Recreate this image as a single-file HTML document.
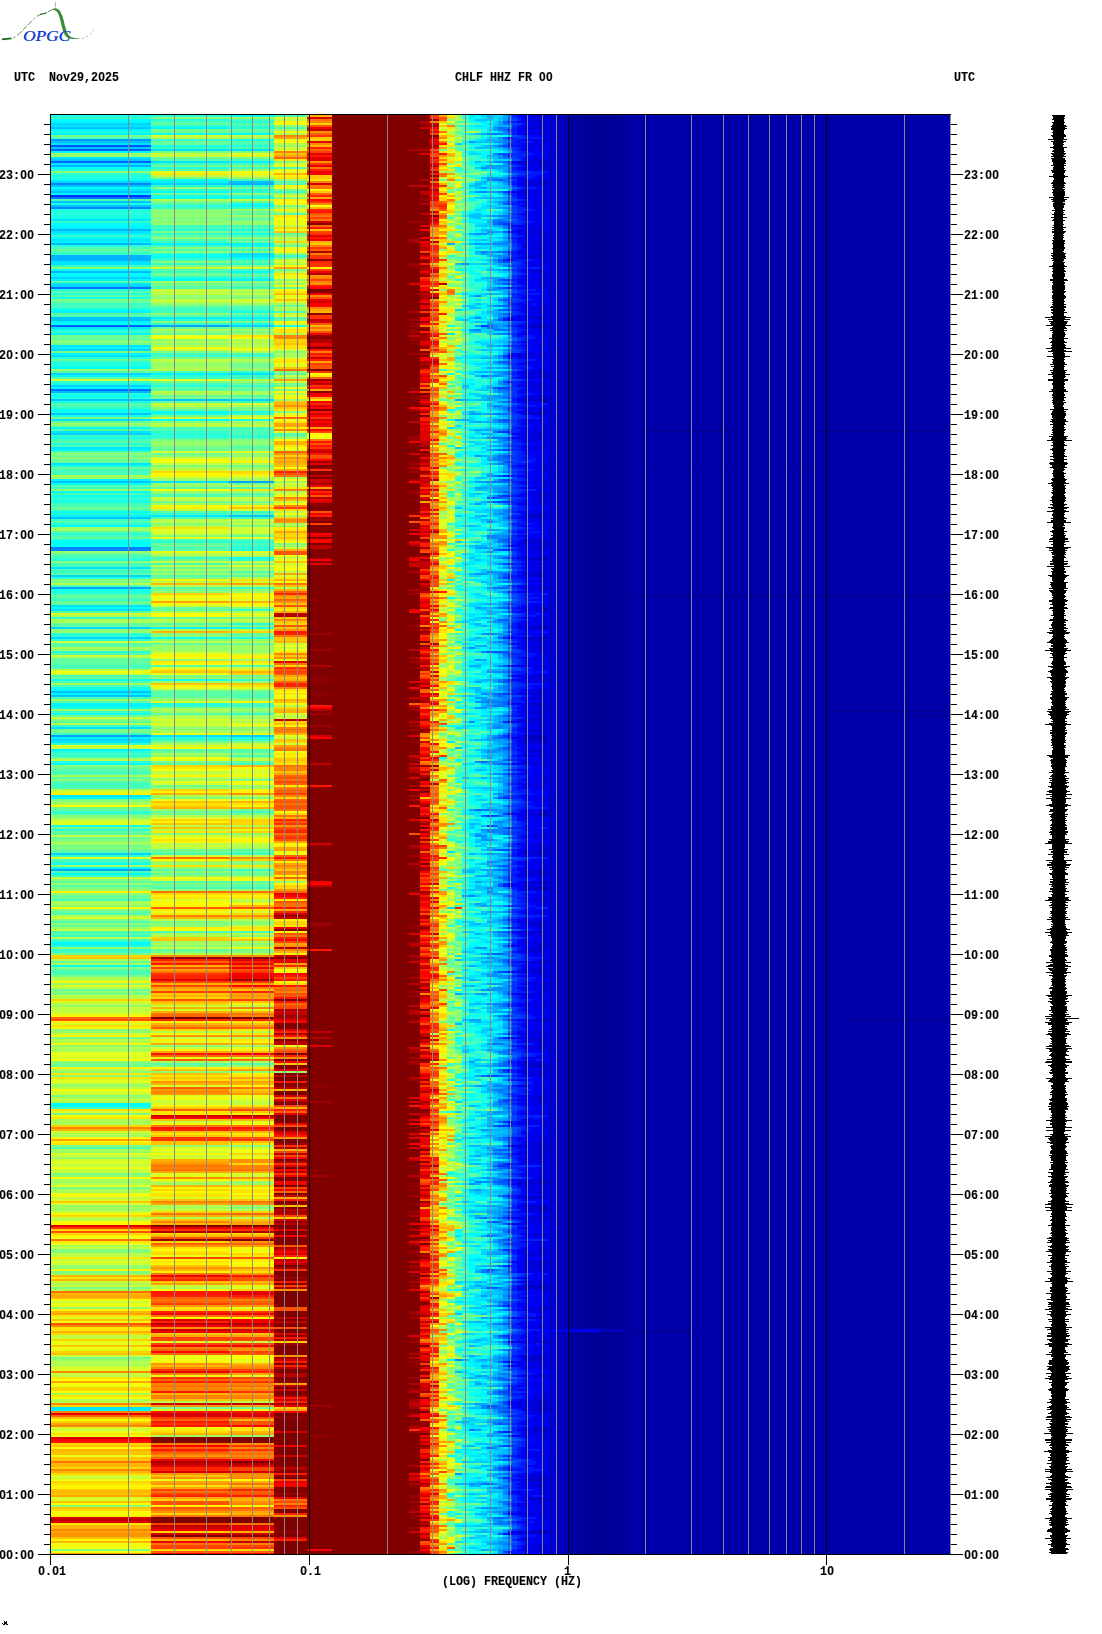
<!DOCTYPE html>
<html><head><meta charset="utf-8"><title>CHLF HHZ FR 00 spectrogram</title>
<style>
html,body{margin:0;padding:0;background:#fff;}
body{width:1102px;height:1634px;position:relative;overflow:hidden;font-family:"Liberation Mono",monospace;}
.t{position:absolute;font-family:"Liberation Mono",monospace;font-weight:bold;font-size:11.67px;line-height:16px;height:16px;white-space:pre;color:#000;transform:scaleY(1.06);transform-origin:50% 62%;-webkit-text-stroke:0.12px #000;}
svg{display:block}
.t i{font-family:"Liberation Sans",sans-serif;font-style:normal;display:inline-block;width:7px;text-align:center;font-size:12px;line-height:0}
</style></head><body>
<svg style="position:absolute;left:0;top:0" width="1102" height="1634" viewBox="0 0 1102 1634" shape-rendering="crispEdges">
<defs><filter id="vb" x="0" y="0" width="1102" height="1634" filterUnits="userSpaceOnUse"><feGaussianBlur stdDeviation="0 0.6"/></filter>
<clipPath id="cp"><rect x="51" y="115" width="899" height="1439"/></clipPath></defs>
<g clip-path="url(#cp)">
<rect x="51" y="115" width="899" height="1439" fill="#0000ab"/>
<rect x="307" y="115" width="123" height="1439" fill="#800000"/>
<rect x="548" y="115" width="2" height="1439" fill="#0000d6"/>
<rect x="550" y="115" width="2" height="1439" fill="#0000d2"/>
<rect x="552" y="115" width="2" height="1439" fill="#0000cf"/>
<rect x="554" y="115" width="2" height="1439" fill="#0000cb"/>
<rect x="556" y="115" width="2" height="1439" fill="#0000c8"/>
<rect x="558" y="115" width="2" height="1439" fill="#0000c4"/>
<rect x="560" y="115" width="2" height="1439" fill="#0000c1"/>
<rect x="562" y="115" width="2" height="1439" fill="#0000bd"/>
<rect x="564" y="115" width="2" height="1439" fill="#0000ba"/>
<rect x="566" y="115" width="2" height="1439" fill="#0000b7"/>
<rect x="568" y="115" width="2" height="1439" fill="#0000a4"/>
<rect x="570" y="115" width="2" height="1439" fill="#0000a2"/>
<rect x="572" y="115" width="2" height="1439" fill="#0000a0"/>
<rect x="574" y="115" width="2" height="1439" fill="#00009d"/>
<rect x="576" y="115" width="2" height="1439" fill="#00009c"/>
<rect x="578" y="115" width="2" height="1439" fill="#00009b"/>
<rect x="580" y="115" width="2" height="1439" fill="#00009a"/>
<rect x="582" y="115" width="2" height="1439" fill="#00009a"/>
<rect x="584" y="115" width="2" height="1439" fill="#000099"/>
<rect x="586" y="115" width="2" height="1439" fill="#000099"/>
<rect x="588" y="115" width="2" height="1439" fill="#000098"/>
<rect x="590" y="115" width="2" height="1439" fill="#000097"/>
<rect x="592" y="115" width="2" height="1439" fill="#000097"/>
<rect x="594" y="115" width="2" height="1439" fill="#000097"/>
<rect x="596" y="115" width="2" height="1439" fill="#000097"/>
<rect x="598" y="115" width="2" height="1439" fill="#000097"/>
<rect x="600" y="115" width="2" height="1439" fill="#000097"/>
<rect x="602" y="115" width="2" height="1439" fill="#000097"/>
<rect x="604" y="115" width="2" height="1439" fill="#000097"/>
<rect x="606" y="115" width="2" height="1439" fill="#000098"/>
<rect x="608" y="115" width="2" height="1439" fill="#000098"/>
<rect x="610" y="115" width="2" height="1439" fill="#000098"/>
<rect x="612" y="115" width="2" height="1439" fill="#000098"/>
<rect x="614" y="115" width="2" height="1439" fill="#000098"/>
<rect x="616" y="115" width="2" height="1439" fill="#000098"/>
<rect x="618" y="115" width="2" height="1439" fill="#000099"/>
<rect x="620" y="115" width="2" height="1439" fill="#00009b"/>
<rect x="622" y="115" width="2" height="1439" fill="#00009d"/>
<rect x="624" y="115" width="2" height="1439" fill="#00009f"/>
<rect x="626" y="115" width="2" height="1439" fill="#0000a1"/>
<rect x="628" y="115" width="2" height="1439" fill="#0000a2"/>
<rect x="630" y="115" width="2" height="1439" fill="#0000a4"/>
<rect x="632" y="115" width="2" height="1439" fill="#0000a5"/>
<rect x="634" y="115" width="2" height="1439" fill="#0000a7"/>
<rect x="636" y="115" width="2" height="1439" fill="#0000a8"/>
<rect x="638" y="115" width="2" height="1439" fill="#0000aa"/>
<rect x="640" y="115" width="10" height="1439" fill="#0000aa"/>
<rect x="650" y="115" width="10" height="1439" fill="#0000ab"/>
<rect x="660" y="115" width="10" height="1439" fill="#0000ab"/>
<rect x="670" y="115" width="10" height="1439" fill="#0000ab"/>
<rect x="680" y="115" width="10" height="1439" fill="#0000ab"/>
<rect x="690" y="115" width="10" height="1439" fill="#0000ab"/>
<rect x="700" y="115" width="10" height="1439" fill="#0000ab"/>
<rect x="710" y="115" width="10" height="1439" fill="#0000ab"/>
<rect x="720" y="115" width="10" height="1439" fill="#0000ab"/>
<rect x="730" y="115" width="10" height="1439" fill="#0000ab"/>
<rect x="740" y="115" width="10" height="1439" fill="#0000ab"/>
<rect x="750" y="115" width="10" height="1439" fill="#0000ab"/>
<rect x="760" y="115" width="10" height="1439" fill="#0000ab"/>
<rect x="770" y="115" width="10" height="1439" fill="#0000ab"/>
<rect x="780" y="115" width="10" height="1439" fill="#0000ab"/>
<rect x="790" y="115" width="10" height="1439" fill="#0000ab"/>
<rect x="800" y="115" width="10" height="1439" fill="#0000ab"/>
<rect x="810" y="115" width="10" height="1439" fill="#0000ab"/>
<rect x="820" y="115" width="10" height="1439" fill="#0000ab"/>
<rect x="830" y="115" width="10" height="1439" fill="#0000ab"/>
<rect x="840" y="115" width="10" height="1439" fill="#0000ab"/>
<rect x="850" y="115" width="10" height="1439" fill="#0000ab"/>
<rect x="860" y="115" width="10" height="1439" fill="#0000ab"/>
<rect x="870" y="115" width="10" height="1439" fill="#0000ab"/>
<rect x="880" y="115" width="10" height="1439" fill="#0000ab"/>
<rect x="890" y="115" width="10" height="1439" fill="#0000ab"/>
<rect x="900" y="115" width="10" height="1439" fill="#0000ab"/>
<rect x="910" y="115" width="10" height="1439" fill="#0000ab"/>
<rect x="920" y="115" width="10" height="1439" fill="#0000ab"/>
<rect x="930" y="115" width="10" height="1439" fill="#0000ab"/>
<rect x="940" y="115" width="10" height="1439" fill="#0000ab"/>
<rect x="645" y="430" width="85" height="2" fill="#000096"/>
<rect x="815" y="430" width="135" height="2" fill="#000096"/>
<rect x="645" y="466" width="275" height="1" fill="#00009a"/>
<rect x="610" y="594" width="340" height="2" fill="#000098"/>
<rect x="830" y="620" width="100" height="1" fill="#00009a"/>
<rect x="835" y="689" width="115" height="1" fill="#00009a"/>
<rect x="835" y="710" width="115" height="2" fill="#000096"/>
<rect x="905" y="714" width="45" height="3" fill="#000096"/>
<rect x="850" y="1018" width="100" height="2" fill="#000098"/>
<rect x="625" y="1330" width="65" height="2" fill="#000096"/>
<rect x="548" y="1329" width="52" height="3" fill="#0000f0"/>
<rect x="600" y="1329" width="25" height="3" fill="#0000b8"/>
<g stroke-width="2" fill="none" filter="url(#vb)">
<path stroke="#16ffe9" d="M51 116h100M51 114h100M462 118h7M469 128h6M51 132h100M481 132h6M151 134h78M493 136h10M229 140h45M469 140h6M487 144h6M151 146h78M462 152h7M487 160h6M469 164h6M487 164h6M475 166h6M493 172h5M493 174h10M51 176h100M481 176h6M475 178h6M487 190h6M481 194h6M151 196h78M229 198h45M475 200h6M51 204h100M229 204h45M51 210h100M498 210h5M462 212h7M51 216h100M51 218h100M475 228h6M229 230h45M229 234h45M481 238h6M462 240h7M229 246h45M469 250h6M469 252h6M469 254h6M151 258h78M475 258h6M487 258h6M469 260h6M469 266h12M469 268h6M498 268h5M469 270h6M469 274h6M475 276h6M498 276h5M151 278h78M455 280h7M481 282h6M469 284h6M51 290h100M493 292h5M51 298h100M469 300h6M481 300h12M229 312h45M475 312h6M475 314h6M462 318h7M475 320h6M229 324h45M481 324h6M274 326h33M447 326h8M469 326h6M51 330h100M469 342h6M469 344h6M469 348h6M493 348h5M462 352h7M469 354h6M481 360h12M51 366h100M455 372h14M447 374h8M462 374h7M462 382h19M487 382h6M51 384h100M475 384h6M462 396h7M51 402h100M469 402h6M481 406h6M455 408h14M481 408h6M51 412h100M229 412h45M487 412h6M151 414h78M51 416h100M462 418h7M481 418h6M462 422h7M469 424h6M487 426h6M462 436h7M475 436h12M51 438h100M469 444h6M475 446h12M475 448h6M481 454h6M469 464h6M51 466h100M481 466h6M487 468h6M487 470h6M487 472h6M469 478h6M469 480h6M462 482h7M469 484h12M469 492h6M462 494h7M51 496h100M462 496h7M481 496h6M487 500h6M51 502h100M469 502h6M455 506h7M462 508h7M462 514h13M469 516h6M462 518h7M487 518h6M462 522h7M475 522h6M447 524h8M487 524h6M462 534h13M481 538h6M51 540h100M462 542h7M447 544h8M475 544h6M493 554h5M462 556h7M229 558h45M481 558h6M455 564h7M481 564h6M455 566h7M481 566h6M462 568h7M475 568h6M455 582h7M481 584h6M455 586h7M51 590h100M455 590h7M469 590h6M51 592h100M469 596h6M498 596h5M469 598h6M487 602h6M455 610h7M469 610h6M487 616h6M481 622h6M229 628h45M475 628h6M487 628h6M493 630h5M469 632h6M487 632h6M151 638h78M481 644h6M462 650h7M475 650h6M469 652h6M462 658h25M462 664h7M487 668h6M475 670h6M487 674h6M475 676h6M462 678h7M481 678h6M51 680h178M455 680h14M469 684h18M481 686h6M51 688h100M481 688h6M462 692h7M447 700h8M462 700h7M475 704h6M475 706h6M51 708h100M462 708h7M475 710h6M493 710h10M475 712h6M51 714h100M469 724h6M455 726h7M475 728h6M493 730h5M493 732h5M462 736h7M475 736h6M229 738h45M481 742h6M462 748h7M475 754h6M487 760h6M469 762h6M462 766h7M481 766h6M462 772h7M462 774h7M455 776h7M493 776h5M455 782h7M462 784h7M462 786h13M481 786h6M487 792h6M481 796h6M469 800h6M475 802h6M469 804h6M475 806h6M447 810h8M487 814h6M475 818h6M487 820h6M481 822h6M481 824h12M51 826h100M462 826h7M469 832h6M469 838h6M493 838h5M493 846h5M487 852h6M462 860h7M475 860h6M51 864h100M469 864h6M469 866h6M487 868h6M462 874h7M462 886h7M462 898h25M462 902h7M498 902h5M462 906h7M469 908h6M462 910h7M493 910h5M469 916h6M455 920h7M455 922h7M481 922h6M481 928h12M475 930h6M498 930h5M487 938h6M475 940h6M51 942h100M469 942h6M481 946h12M462 948h7M475 962h6M475 968h6M469 970h6M469 974h6M481 978h6M481 986h6M493 986h5M462 990h7M481 998h6M481 1000h6M487 1002h6M481 1006h6M475 1014h12M493 1014h5M469 1018h6M481 1026h12M475 1028h6M447 1030h8M469 1030h6M455 1034h7M475 1036h6M455 1040h14M475 1044h6M469 1046h6M469 1048h6M475 1054h6M498 1056h5M487 1062h6M462 1068h7M475 1068h6M469 1070h6M475 1074h6M455 1076h7M455 1078h7M493 1078h5M447 1080h8M493 1080h5M455 1082h7M475 1088h6M462 1090h7M475 1090h6M475 1092h6M475 1094h12M462 1096h7M469 1098h6M481 1098h6M475 1100h18M487 1102h6M469 1104h6M481 1106h6M475 1108h12M447 1112h8M498 1116h5M475 1120h6M455 1122h7M469 1122h12M475 1124h6M469 1126h6M475 1134h6M455 1136h7M462 1140h7M481 1140h6M455 1142h7M498 1144h5M462 1148h7M469 1150h6M469 1154h6M462 1160h7M481 1160h17M462 1162h7M487 1172h6M481 1176h6M481 1186h6M462 1192h7M469 1198h6M469 1200h6M487 1200h6M487 1204h11M455 1212h7M469 1214h6M469 1220h6M487 1220h6M469 1228h12M475 1242h6M481 1244h12M475 1248h6M475 1254h6M462 1256h7M481 1256h6M481 1258h6M462 1260h7M469 1272h6M475 1276h12M462 1284h7M455 1290h7M475 1292h6M462 1294h7M455 1298h7M469 1310h6M481 1320h6M493 1320h5M475 1328h6M498 1332h5M462 1346h7M487 1350h6M493 1352h10M481 1358h6M469 1372h6M475 1380h6M462 1390h13M475 1392h6M487 1398h6M469 1400h6M481 1402h6M469 1412h12M469 1414h6M475 1418h6M462 1432h13M487 1432h6M469 1438h18M493 1442h5M469 1444h6M462 1448h7M475 1452h12M455 1458h7M469 1458h6M469 1460h6M455 1462h7M469 1466h6M481 1474h6M455 1476h7M469 1476h12M455 1480h7M481 1480h6M462 1486h7M462 1488h7M475 1492h6M487 1496h6M455 1498h7M481 1506h6M462 1514h7M469 1528h6M475 1534h6M487 1534h6M498 1536h5M462 1540h13M481 1548h6M469 1550h6M469 1552h6M462 1554h7M462 1556h7"/>
<path stroke="#26ffd9" d="M151 116h78M151 114h78M151 120h78M229 122h45M469 122h6M151 126h78M462 126h7M229 128h45M481 130h6M462 134h7M481 136h6M462 144h7M481 144h6M229 146h45M469 146h6M475 156h6M475 158h6M475 160h6M493 164h5M151 168h78M455 168h7M51 170h100M455 170h7M475 170h6M462 172h7M469 176h6M51 178h100M151 186h123M462 188h7M493 190h10M229 192h45M487 194h6M481 202h6M475 204h6M151 206h78M475 206h6M51 212h100M487 212h6M51 214h100M462 214h7M481 218h12M462 220h7M462 222h7M469 224h6M469 226h6M151 230h78M469 230h6M469 232h6M475 238h6M51 246h100M469 248h6M455 250h7M481 250h6M151 254h78M274 256h33M447 256h8M462 258h7M462 260h7M469 262h6M481 262h6M229 264h45M487 266h6M462 268h7M475 272h6M487 274h11M481 276h12M229 278h45M469 278h6M469 280h6M469 282h6M481 284h6M481 286h6M475 288h6M475 290h6M469 292h12M487 292h6M51 294h100M455 294h7M498 296h5M462 298h13M469 302h12M487 302h6M469 310h6M481 310h6M151 320h123M469 328h6M475 338h6M493 338h5M475 340h6M462 344h7M481 352h6M475 354h12M493 354h5M51 358h100M462 360h7M475 360h6M51 362h100M51 364h100M469 366h6M439 370h8M469 370h6M229 372h45M151 376h78M475 378h6M475 380h6M481 382h6M481 384h6M151 386h78M475 386h6M469 390h6M469 392h6M51 394h100M462 394h7M493 394h5M51 398h100M462 398h19M475 406h6M481 410h6M229 420h45M462 424h7M475 424h12M462 430h7M469 432h6M151 434h78M462 434h7M151 436h123M51 444h100M462 446h7M469 450h6M462 464h7M462 466h7M487 466h11M455 470h7M481 470h6M462 478h7M455 480h7M487 480h6M51 498h100M469 498h6M51 500h100M481 500h6M462 502h7M487 504h6M462 506h7M475 506h6M51 514h100M455 514h7M475 514h12M462 520h7M455 522h7M51 524h100M455 524h7M475 524h6M481 526h6M493 528h10M455 532h14M487 532h6M51 534h100M462 538h7M151 542h123M229 548h45M229 550h45M447 550h8M469 550h6M469 552h6M481 554h12M51 560h100M229 560h45M469 566h12M455 572h7M462 576h7M51 578h100M475 578h6M462 584h7M481 586h6M455 588h14M475 590h6M469 592h12M481 594h6M493 596h5M481 600h6M462 610h7M469 612h6M462 616h7M462 618h7M475 622h6M229 624h45M462 628h7M481 628h6M475 630h6M51 634h100M455 634h7M469 634h6M51 636h100M469 636h12M487 636h6M229 638h45M462 638h7M51 640h100M469 642h6M475 644h6M51 652h100M469 656h18M462 662h7M462 674h7M462 702h7M151 704h78M151 706h78M469 712h6M455 714h7M475 716h6M462 718h7M475 730h6M469 732h6M487 732h6M481 734h6M151 738h78M462 738h7M475 738h6M462 740h7M475 742h6M475 746h6M447 750h8M51 752h100M462 752h7M51 756h100M475 758h6M462 760h7M51 762h100M469 766h6M462 768h13M487 776h6M455 780h7M475 780h6M493 784h5M487 786h6M469 792h6M462 794h7M462 798h7M487 802h11M475 808h6M51 812h100M462 820h7M51 830h100M462 838h7M447 840h8M462 840h7M469 844h6M487 846h6M475 848h6M462 850h7M475 850h6M469 852h18M493 852h5M469 856h12M481 860h6M462 862h7M475 862h6M481 868h6M475 874h6M462 880h7M455 882h7M462 884h7M455 902h7M493 902h5M455 906h7M487 908h6M487 910h6M462 920h13M462 924h7M447 926h8M462 928h7M455 940h7M51 946h100M462 946h7M481 956h6M481 970h6M462 972h7M447 974h8M462 976h7M481 982h6M462 988h7M475 988h6M455 992h7M487 992h6M469 996h6M462 1006h7M462 1008h7M481 1010h6M462 1012h7M481 1016h6M475 1018h12M455 1022h7M469 1024h6M462 1026h7M462 1028h13M462 1032h7M462 1038h25M469 1040h6M455 1042h7M455 1044h7M475 1056h12M462 1058h7M481 1068h6M487 1072h6M455 1074h7M462 1076h7M475 1078h6M481 1080h6M475 1096h6M475 1098h6M487 1108h6M469 1124h6M481 1128h6M469 1130h6M462 1136h13M475 1140h6M462 1142h7M462 1152h7M455 1154h7M462 1158h7M475 1158h12M481 1162h6M469 1170h6M447 1172h8M455 1174h14M447 1180h8M481 1188h6M493 1198h5M462 1200h7M481 1204h6M462 1208h13M462 1214h7M475 1220h6M475 1232h6M455 1234h7M462 1236h7M487 1238h6M455 1240h7M487 1246h6M455 1252h7M469 1254h6M447 1256h8M487 1264h6M462 1266h7M487 1268h6M455 1270h14M462 1276h7M462 1278h7M481 1278h6M447 1290h8M469 1296h6M462 1300h7M455 1304h7M481 1304h6M469 1328h6M469 1336h18M469 1338h6M469 1344h6M481 1346h6M493 1346h5M455 1348h7M503 1348h5M475 1350h6M475 1352h6M462 1362h7M469 1368h6M469 1370h6M481 1370h12M462 1388h7M481 1388h6M455 1390h7M469 1392h6M469 1396h6M475 1398h12M455 1402h7M469 1406h6M462 1412h7M481 1416h6M455 1432h7M462 1434h7M469 1440h6M481 1440h6M455 1444h7M462 1456h7M462 1466h7M487 1478h6M487 1480h6M469 1492h6M455 1494h7M447 1496h8M455 1500h7M481 1500h6M469 1506h12M455 1508h7M469 1508h6M447 1516h8M455 1518h7M469 1518h6M481 1520h6M493 1528h5M503 1528h5M469 1530h6M469 1534h6M469 1542h6M462 1546h7M462 1550h7M475 1552h6"/>
<path stroke="#06fff9" d="M229 116h45M229 114h45M475 118h6M51 120h100M469 120h6M487 122h6M481 124h6M151 128h78M475 128h6M229 134h45M487 136h6M503 136h5M481 138h6M469 144h6M475 146h6M469 148h6M493 150h5M475 152h12M493 152h10M481 154h6M469 162h6M51 168h100M487 174h6M503 174h5M51 180h178M51 188h100M475 190h12M503 190h5M151 192h78M469 194h12M493 194h5M493 196h5M151 198h78M469 198h6M487 200h6M487 204h6M229 206h45M475 208h6M481 210h6M469 212h6M481 212h6M487 214h6M469 220h6M481 222h6M51 224h100M487 228h6M462 234h7M481 236h17M51 238h100M469 242h6M481 242h6M475 250h6M487 250h6M151 256h78M481 256h6M229 258h45M469 258h6M475 268h12M503 268h5M51 270h100M455 270h14M229 272h45M469 272h6M51 274h100M498 274h5M475 278h6M151 280h78M475 282h6M469 294h6M487 298h6M493 302h5M481 306h6M493 308h5M51 310h100M462 310h7M469 316h6M455 318h7M469 320h6M51 324h100M475 328h6M462 330h7M503 336h5M481 340h6M475 344h6M498 348h5M493 352h5M462 362h7M475 362h6M51 368h100M475 370h6M487 370h11M481 374h6M493 378h10M462 380h7M493 380h5M487 384h6M469 386h6M475 388h6M481 394h6M51 396h100M469 396h6M487 402h6M481 404h6M51 410h100M447 410h8M151 412h78M481 412h6M493 412h5M475 416h6M493 416h5M475 418h6M151 420h78M475 420h12M51 428h100M462 428h7M469 434h6M462 442h7M487 444h6M447 446h8M462 448h7M462 452h7M493 452h5M455 454h20M487 454h6M455 456h7M481 458h6M487 462h6M475 464h6M469 466h6M462 470h7M493 470h5M481 476h6M51 484h100M475 486h6M469 490h6M51 492h100M462 492h7M487 494h6M475 496h6M493 500h5M481 506h6M503 506h5M469 508h12M493 508h5M462 510h7M51 512h100M462 516h7M481 518h6M469 520h6M469 522h6M481 524h6M493 524h5M51 526h100M493 526h5M469 528h6M487 528h6M462 536h19M51 542h100M481 542h6M51 544h100M51 546h100M455 546h7M475 554h6M498 554h5M462 558h7M475 558h6M462 562h7M475 564h6M462 566h7M493 568h5M469 570h6M475 572h6M455 574h7M481 578h6M462 580h7M503 584h5M469 588h6M481 590h6M487 592h6M487 596h6M447 598h8M487 600h21M475 602h12M487 606h6M51 608h100M469 608h6M475 612h6M462 614h7M481 616h6M481 620h6M487 624h6M469 626h6M469 628h6M455 630h7M475 632h12M493 632h5M487 638h6M469 646h6M481 648h6M469 650h6M481 650h6M487 656h6M487 658h6M487 660h6M475 662h6M462 666h7M481 668h6M462 670h13M469 674h6M481 676h6M493 676h5M475 678h6M487 684h11M462 688h7M51 690h100M455 696h7M469 698h6M455 702h7M462 706h7M455 708h7M487 710h6M475 714h6M487 714h11M469 718h6M469 720h6M487 722h6M475 724h6M447 726h8M469 728h6M481 730h6M498 730h5M462 746h13M469 750h6M475 752h6M439 758h8M51 764h100M469 770h6M481 772h12M481 780h12M487 782h6M475 786h6M493 786h5M469 790h6M469 796h6M51 798h100M469 798h6M481 798h6M469 802h6M498 802h5M475 804h6M462 810h7M462 812h7M481 814h6M481 818h6M481 820h6M462 824h7M462 828h7M469 830h6M498 836h10M475 838h6M498 838h5M469 840h6M475 844h6M469 846h6M498 852h5M462 854h7M481 856h6M469 862h6M475 866h12M51 868h100M481 872h6M51 874h100M469 874h6M462 878h7M481 878h6M487 884h6M447 888h8M469 892h6M498 892h10M462 894h7M487 898h6M481 900h6M493 904h10M475 910h6M498 910h5M462 914h13M475 916h12M455 924h7M462 926h7M469 928h12M475 932h12M469 936h18M481 938h6M462 940h7M475 942h6M493 942h10M469 944h18M475 952h6M493 952h5M462 956h7M462 958h7M469 964h6M51 966h100M487 970h6M469 972h6M475 978h6M487 978h6M462 980h7M481 980h6M493 982h5M462 984h13M481 988h6M493 996h5M475 998h6M487 998h6M469 1000h12M469 1002h6M475 1006h6M455 1008h7M462 1010h7M481 1012h6M487 1014h6M498 1014h5M469 1016h12M487 1016h6M462 1018h7M462 1022h7M462 1030h7M475 1030h6M469 1032h6M493 1032h5M475 1034h6M455 1038h7M487 1038h6M481 1040h6M475 1046h6M455 1048h7M481 1048h6M475 1050h6M475 1058h6M493 1058h5M475 1062h6M462 1064h7M481 1072h6M462 1074h13M481 1082h6M469 1090h6M462 1094h13M469 1096h6M487 1096h6M469 1100h6M51 1104h100M475 1104h6M51 1106h100M462 1106h7M475 1114h6M493 1116h5M469 1118h6M462 1122h7M475 1132h6M481 1134h6M481 1142h6M462 1146h7M469 1148h6M469 1152h6M469 1158h6M469 1162h12M469 1168h6M475 1172h6M447 1174h8M462 1180h7M481 1180h6M455 1184h7M481 1184h6M475 1188h6M493 1188h5M462 1190h7M469 1196h12M475 1198h12M475 1200h6M493 1200h5M455 1202h7M455 1206h7M475 1208h6M469 1224h6M481 1228h6M455 1230h7M455 1232h7M487 1232h6M462 1234h7M475 1234h6M469 1236h6M462 1246h7M481 1246h6M475 1250h6M469 1256h12M469 1258h6M498 1258h5M487 1260h6M469 1262h6M481 1262h6M462 1264h7M469 1266h6M481 1268h6M493 1268h5M469 1270h6M469 1276h6M487 1276h11M487 1278h6M481 1280h6M487 1282h6M469 1300h6M481 1302h6M462 1304h7M475 1306h6M462 1308h7M487 1308h11M455 1312h14M493 1314h10M493 1316h5M487 1320h6M462 1326h7M475 1326h6M481 1328h6M469 1330h6M487 1330h6M481 1334h6M487 1336h6M462 1340h7M498 1346h5M469 1350h6M481 1352h12M481 1356h6M462 1364h7M462 1366h7M462 1370h7M493 1370h5M462 1374h7M475 1374h6M487 1374h6M469 1384h6M498 1388h5M475 1390h6M481 1392h6M469 1394h12M487 1396h6M475 1400h6M469 1410h6M487 1416h6M498 1418h5M462 1428h7M487 1430h6M475 1432h6M469 1436h6M487 1438h6M487 1440h6M481 1442h6M475 1446h12M455 1450h7M462 1452h13M469 1454h6M481 1458h6M487 1464h6M481 1470h6M493 1472h5M475 1474h6M462 1476h7M462 1478h7M462 1480h7M481 1486h6M481 1492h6M447 1494h8M469 1496h6M462 1500h7M462 1502h7M462 1510h7M475 1510h6M447 1512h8M475 1512h6M469 1514h6M493 1516h5M475 1518h6M487 1522h6M455 1524h26M487 1536h6M475 1540h6M462 1542h7M475 1542h6M455 1554h7M455 1556h7M469 1554h6M469 1556h6"/>
<path stroke="#47ffb8" d="M274 116h33M274 114h33M229 120h45M151 122h78M462 122h7M455 126h7M462 128h7M462 130h19M51 138h100M229 144h45M229 148h45M455 150h20M469 158h6M229 160h45M229 164h45M462 164h7M274 168h33M469 168h6M462 170h7M455 180h7M469 182h6M462 186h7M455 190h7M462 194h7M475 196h6M51 200h100M469 202h12M469 208h6M493 210h5M455 226h7M151 228h78M455 228h7M469 228h6M229 236h45M455 240h7M469 246h6M51 248h100M151 250h78M51 252h100M455 258h7M151 260h78M462 262h7M475 262h6M455 266h7M462 280h7M462 284h7M462 286h7M151 288h78M469 290h6M462 292h7M462 296h7M475 298h6M51 306h100M151 308h123M475 310h6M151 312h78M274 312h33M51 316h100M274 318h33M462 324h7M462 326h7M481 336h17M481 338h6M469 340h6M475 348h6M469 350h6M455 352h7M469 352h6M151 354h123M462 354h7M455 362h7M462 364h7M455 366h7M462 368h13M151 372h78M469 376h6M455 378h7M151 384h78M455 384h7M447 386h8M455 392h7M475 392h6M51 406h100M462 416h7M481 416h12M455 422h7M462 426h13M151 428h123M151 430h123M229 432h45M229 434h45M455 434h7M229 438h45M51 440h100M462 440h13M439 444h8M51 446h100M469 448h6M462 458h13M475 460h6M475 462h6M475 468h6M51 470h100M475 470h6M51 472h100M51 474h100M475 474h6M481 480h6M462 484h7M229 488h45M462 490h7M475 492h6M51 494h100M447 494h8M151 496h78M447 496h8M462 498h7M51 504h100M51 506h100M487 506h6M469 512h6M229 514h45M151 518h78M469 524h6M487 526h6M455 528h14M462 530h7M475 532h6M475 534h12M51 536h100M151 540h123M469 540h12M229 544h45M151 548h78M462 548h7M51 556h100M51 564h178M51 566h100M51 570h100M229 572h45M462 572h7M462 578h13M51 586h100M462 586h19M462 596h7M455 598h7M475 600h6M462 624h7M462 626h7M469 630h6M462 636h7M481 636h6M455 638h7M455 650h7M462 652h7M462 660h7M51 666h100M229 666h45M51 668h100M455 668h14M462 672h19M51 676h100M462 676h7M51 682h100M51 686h100M475 686h6M487 688h6M229 696h45M51 698h100M462 698h7M229 704h45M469 710h6M462 716h7M439 726h8M469 730h6M462 734h13M447 736h8M455 738h7M455 740h7M469 742h6M475 748h6M229 750h45M469 752h6M51 754h100M229 756h45M462 758h7M469 760h6M475 766h6M455 770h14M51 772h100M51 774h100M469 774h6M447 776h8M481 776h6M462 780h7M475 782h12M487 784h6M51 786h100M455 786h7M51 788h100M469 794h6M447 796h8M462 800h7M462 802h7M455 804h7M462 806h7M462 808h7M51 814h100M455 814h7M455 818h7M469 818h6M455 832h7M447 838h15M462 844h7M455 850h7M151 854h78M462 856h7M51 860h100M439 870h8M455 870h7M51 872h100M447 878h8M455 880h7M462 882h7M151 888h78M462 888h7M51 900h100M462 900h7M469 902h12M475 908h6M475 920h6M51 922h100M487 930h6M51 932h223M51 940h100M462 942h7M447 954h8M462 954h7M469 956h12M469 968h6M475 970h6M51 972h100M455 972h7M51 974h100M487 986h6M469 988h6M462 1000h7M469 1036h6M475 1042h12M481 1052h6M462 1054h7M469 1056h6M487 1056h11M481 1058h6M455 1064h7M447 1070h8M447 1072h8M462 1072h7M487 1080h6M475 1084h6M455 1094h7M462 1098h7M462 1102h7M455 1108h7M462 1110h13M493 1110h5M439 1112h8M462 1116h7M475 1118h12M462 1124h7M462 1126h7M469 1144h6M481 1144h6M455 1148h7M462 1150h7M455 1152h7M462 1154h7M447 1160h8M462 1168h7M481 1172h6M475 1176h6M462 1194h7M475 1202h12M447 1204h8M455 1208h7M455 1218h14M455 1220h7M469 1222h12M462 1228h7M469 1232h6M462 1238h7M481 1238h6M475 1240h12M462 1244h7M475 1244h6M481 1248h6M462 1250h7M455 1254h14M455 1256h7M475 1264h6M469 1274h6M455 1278h7M462 1280h7M469 1292h6M469 1314h6M447 1316h8M487 1316h6M455 1318h7M469 1318h6M447 1326h15M462 1328h7M447 1330h8M475 1332h12M493 1332h5M462 1336h7M447 1338h8M462 1338h7M462 1348h7M475 1348h6M493 1348h5M481 1350h6M462 1352h13M455 1354h14M475 1370h6M447 1384h8M487 1388h11M447 1392h8M462 1394h7M462 1396h7M462 1398h7M462 1406h7M462 1410h7M481 1418h17M455 1424h7M481 1424h6M455 1430h7M462 1436h7M462 1440h7M475 1440h6M469 1442h6M455 1454h7M455 1460h7M481 1464h6M475 1470h6M475 1472h12M447 1484h8M481 1490h6M462 1492h7M455 1502h7M481 1504h6M469 1512h6M439 1514h16M469 1516h6M481 1522h6M447 1524h8M462 1528h7M481 1528h6M455 1530h7M455 1534h7M469 1536h6M455 1546h7M447 1550h15M462 1552h7M481 1552h12"/>
<path stroke="#ffb400" d="M307 116h25M307 114h25M439 136h8M307 146h25M447 154h8M447 156h8M439 166h8M274 174h33M439 184h8M447 196h8M447 202h8M307 208h25M439 228h8M439 234h8M307 242h25M439 294h8M307 312h25M430 322h17M307 326h25M430 326h9M447 346h8M439 348h8M447 358h8M439 388h8M447 392h8M274 404h33M439 406h8M439 430h8M430 434h9M274 442h33M430 442h9M274 444h33M274 460h33M274 464h33M439 498h8M274 500h33M430 512h9M430 516h9M439 530h8M430 542h9M274 550h33M439 554h8M430 570h9M274 580h33M151 584h78M439 584h8M274 590h33M430 590h9M229 602h45M439 606h8M274 612h33M439 616h8M447 628h8M151 632h78M274 642h33M229 672h45M274 680h33M430 682h9M439 688h8M274 700h33M274 710h33M274 712h33M430 712h9M430 728h9M274 734h33M420 740h10M430 764h9M229 766h45M439 768h8M151 794h78M229 802h45M151 808h123M274 818h33M430 836h9M430 862h9M439 872h8M430 894h9M229 906h45M274 910h33M151 918h78M430 936h9M274 952h33M439 958h8M151 966h78M430 972h9M151 984h78M430 988h9M151 990h78M151 996h78M439 996h8M151 1002h78M439 1006h8M151 1008h78M151 1012h123M430 1012h9M430 1022h9M151 1024h78M439 1028h8M439 1038h8M430 1042h9M229 1044h45M229 1052h45M151 1084h123M439 1084h8M274 1090h33M229 1092h45M447 1094h8M439 1106h8M274 1108h33M439 1116h8M229 1120h45M51 1130h100M439 1130h16M229 1132h45M439 1138h8M274 1150h33M151 1160h78M151 1186h78M439 1188h8M274 1198h33M430 1200h9M420 1208h10M439 1214h8M151 1216h123M151 1224h78M439 1228h16M447 1230h8M151 1236h123M430 1238h9M430 1242h9M430 1246h9M151 1270h78M51 1276h100M51 1280h100M229 1282h45M51 1294h100M439 1294h8M447 1296h8M51 1298h100M430 1310h9M51 1312h100M447 1314h8M430 1328h9M51 1332h100M430 1358h9M229 1364h45M151 1366h78M439 1374h8M430 1376h9M430 1378h9M439 1380h8M439 1392h8M151 1394h78M430 1412h9M229 1420h45M229 1432h45M151 1434h78M51 1450h100M430 1452h9M51 1464h100M51 1466h100M51 1472h100M430 1472h9M229 1482h45M430 1488h9M51 1492h100M439 1496h8M229 1500h45M430 1506h9M229 1514h45M51 1526h100M51 1528h100M229 1532h45M430 1534h9M430 1536h9M151 1540h78M51 1542h100"/>
<path stroke="#ff3300" d="M430 116h9M430 114h9M430 118h9M307 136h25M307 164h25M430 170h9M439 186h8M307 202h25M430 206h9M439 208h8M307 234h25M307 248h25M307 256h25M307 258h25M430 262h9M307 264h25M307 266h25M430 276h9M420 278h10M420 286h10M430 306h9M420 312h10M307 316h25M307 318h25M430 318h9M430 320h9M430 346h9M307 356h25M430 358h9M430 366h9M307 372h25M420 372h10M430 382h9M307 386h25M430 408h9M307 418h25M307 448h25M307 470h25M430 472h9M430 478h9M430 486h9M420 488h10M409 516h11M420 522h10M420 524h10M420 550h10M430 552h9M430 562h9M420 570h10M430 576h9M430 598h9M430 624h9M420 636h10M420 652h10M274 668h33M420 674h10M420 678h10M420 706h10M420 714h10M439 756h8M420 758h10M420 770h10M430 822h9M274 824h33M274 830h33M430 830h9M274 838h33M420 842h10M430 846h9M430 858h9M430 860h9M430 868h9M420 874h10M420 882h10M420 910h10M420 924h10M430 926h9M420 950h10M430 970h9M229 972h45M151 974h78M229 982h45M430 1000h9M420 1008h10M430 1024h9M430 1026h9M420 1050h10M420 1064h10M420 1072h10M430 1074h9M430 1088h9M430 1094h9M430 1116h9M229 1130h45M420 1134h10M151 1138h78M151 1140h123M274 1146h33M274 1164h33M430 1164h9M420 1170h10M274 1174h33M420 1184h10M420 1220h10M51 1228h100M151 1230h123M229 1238h45M430 1256h9M430 1258h9M430 1264h9M430 1266h9M274 1270h33M430 1282h9M420 1298h10M229 1312h45M430 1316h9M420 1318h10M420 1328h10M151 1370h78M151 1378h78M229 1382h45M229 1392h45M420 1408h10M151 1418h78M430 1422h9M151 1424h78M409 1430h11M229 1446h45M229 1450h45M430 1464h9M430 1480h9M430 1490h9M420 1502h10M430 1504h9M430 1520h9M430 1540h9M229 1548h45M430 1554h9M430 1556h9"/>
<path stroke="#ffa400" d="M439 116h8M439 114h8M274 138h33M439 148h8M274 156h33M447 174h8M307 198h25M430 228h9M430 234h9M430 236h9M439 248h8M274 268h33M430 280h9M430 300h9M307 310h25M430 328h9M307 330h25M430 338h9M447 360h8M307 362h25M274 380h33M307 390h25M307 398h25M430 412h9M430 414h9M430 416h9M274 424h33M274 426h33M307 428h25M430 448h9M447 458h8M274 462h33M274 470h33M430 470h9M439 486h8M307 488h25M420 502h10M430 504h9M439 508h8M274 532h33M439 532h8M430 546h9M430 568h9M274 574h33M229 584h45M430 596h9M274 598h33M430 600h9M151 602h78M430 604h9M430 636h9M439 646h8M430 654h9M274 676h33M430 716h9M439 720h8M439 730h8M274 746h33M430 748h9M430 750h9M274 774h33M430 778h9M430 808h9M430 812h9M430 824h9M430 832h9M274 842h33M274 848h33M274 850h33M274 864h33M274 868h33M439 878h8M430 906h9M430 914h9M439 938h8M274 944h33M274 964h33M151 970h78M229 984h45M151 988h78M229 994h45M229 998h45M430 1016h9M151 1044h78M151 1052h78M229 1070h45M229 1078h45M229 1082h45M439 1090h8M430 1096h9M439 1104h8M447 1136h8M51 1140h100M430 1150h9M430 1154h9M151 1162h78M151 1172h123M439 1198h8M151 1204h78M430 1214h9M430 1220h9M229 1222h45M229 1224h45M229 1246h45M439 1248h8M447 1252h8M439 1276h8M151 1284h123M51 1296h100M430 1302h9M51 1314h100M430 1324h9M151 1336h123M430 1338h9M430 1340h9M430 1360h9M229 1374h45M51 1382h100M274 1384h33M229 1394h45M229 1406h45M274 1410h33M51 1424h100M439 1428h8M229 1434h45M439 1442h16M439 1464h8M430 1466h9M439 1468h8M447 1470h8M151 1482h78M151 1488h78M439 1492h8M51 1496h100M151 1498h123M439 1498h8M447 1500h8M229 1512h45M430 1514h9M447 1520h8M430 1524h9M51 1532h100M430 1544h9M430 1550h9M51 1554h100M51 1556h100"/>
<path stroke="#fff500" d="M447 116h8M447 114h8M274 122h33M439 140h8M447 144h8M447 150h8M439 168h8M229 174h45M274 176h33M439 182h8M307 190h25M439 190h8M439 196h8M274 200h33M274 204h33M274 210h33M274 218h33M439 220h8M439 230h8M439 236h8M274 250h33M307 268h25M439 286h8M439 316h8M439 318h8M274 322h33M455 340h7M439 344h8M439 366h8M439 368h16M439 372h8M447 378h8M439 380h8M430 386h9M274 392h33M274 398h33M439 404h8M439 414h8M274 416h33M274 428h33M307 434h25M430 446h9M439 456h8M229 462h45M151 476h78M439 478h8M439 500h8M229 506h45M151 508h78M274 528h33M447 536h8M439 570h8M447 592h8M229 594h45M151 596h78M229 598h45M439 602h8M229 604h45M447 606h8M447 620h8M439 636h8M447 648h8M439 652h8M151 656h123M229 658h45M439 658h8M151 664h78M151 686h78M439 686h8M274 692h33M439 692h8M274 698h33M439 698h8M229 702h45M274 726h33M439 744h8M229 748h45M439 754h8M274 756h33M439 766h8M229 768h45M430 774h9M151 776h78M447 788h8M229 790h45M439 790h8M151 792h123M51 794h100M447 794h8M439 796h8M229 806h45M439 812h8M151 822h78M439 834h8M229 840h45M151 842h123M274 844h33M274 846h33M439 852h8M151 860h78M439 860h8M274 862h33M274 876h33M229 878h45M274 884h33M51 892h100M151 896h123M447 902h8M229 904h45M151 906h78M229 910h45M274 920h33M151 928h78M229 930h45M274 932h33M229 938h45M274 954h33M51 982h100M274 982h33M430 986h9M229 1004h45M51 1016h100M51 1022h178M51 1028h100M447 1032h8M51 1036h100M439 1036h8M151 1040h78M229 1042h45M51 1044h100M430 1046h9M439 1048h8M151 1050h123M439 1050h8M439 1058h8M430 1062h9M51 1068h178M229 1074h45M439 1074h8M430 1080h9M447 1082h8M229 1086h45M151 1098h78M447 1102h8M151 1106h78M447 1108h8M229 1114h45M51 1138h100M51 1142h100M430 1146h9M430 1152h9M455 1164h7M439 1166h8M439 1178h8M151 1180h78M151 1188h78M51 1196h100M439 1212h8M51 1214h100M439 1218h8M51 1224h100M51 1236h100M229 1248h45M274 1258h33M151 1260h78M229 1262h45M151 1264h78M439 1264h8M229 1266h45M51 1270h100M151 1272h78M439 1286h8M455 1294h7M51 1310h100M151 1318h123M439 1320h16M447 1334h8M447 1354h8M439 1378h8M439 1384h8M447 1398h8M439 1400h8M439 1404h8M439 1406h8M439 1424h8M430 1426h9M151 1430h78M447 1434h8M51 1448h100M439 1450h8M455 1464h7M51 1486h100M51 1488h100M439 1500h8M439 1504h8M151 1506h78M51 1516h100M439 1528h8M447 1538h8M51 1540h100M51 1546h100"/>
<path stroke="#98ff67" d="M455 116h7M455 114h7M229 118h45M455 124h7M274 130h33M455 130h7M475 132h6M229 138h45M455 140h7M274 146h33M447 148h8M51 154h100M51 156h100M229 170h45M455 174h7M455 176h7M274 180h33M469 180h6M447 186h8M455 188h7M274 194h33M229 210h45M151 216h123M447 220h15M229 222h45M151 224h123M274 244h33M274 254h33M455 254h7M462 256h7M447 266h8M447 274h8M462 276h7M151 282h78M274 284h33M455 284h7M462 290h7M151 296h123M462 300h7M151 304h123M447 304h8M229 330h45M229 334h45M447 340h8M51 342h100M151 344h78M447 344h8M274 356h33M229 362h45M151 364h78M151 366h78M51 370h100M229 370h45M274 378h33M229 382h45M439 398h8M274 400h33M229 422h45M51 424h100M447 436h8M151 442h123M447 442h8M151 444h78M447 448h8M51 454h100M229 454h45M229 468h45M447 468h8M469 472h6M51 478h100M151 480h123M274 482h33M151 484h78M455 484h7M151 486h78M51 490h100M151 492h123M447 498h15M151 504h123M447 506h8M447 508h8M439 518h8M447 526h8M51 528h100M455 534h7M455 544h7M274 546h33M51 552h100M462 552h7M151 556h78M439 558h8M439 560h8M455 562h7M447 570h8M151 574h78M455 576h7M455 580h7M229 592h45M447 600h8M447 614h8M439 618h8M447 622h8M455 624h7M455 628h7M51 632h100M455 640h7M151 646h123M455 646h7M151 648h78M51 650h223M229 652h45M439 654h8M151 660h123M455 674h7M151 678h123M151 682h78M151 690h123M439 690h8M447 692h8M455 694h7M51 700h178M51 710h100M151 712h78M447 712h8M229 716h45M229 718h45M447 720h8M439 722h8M151 730h123M455 732h7M447 752h8M455 756h7M447 760h8M439 764h8M151 780h78M229 786h45M447 786h8M229 788h45M51 802h100M455 802h7M151 810h78M447 814h8M447 816h8M439 832h8M229 834h45M51 842h100M455 846h7M447 848h8M462 848h7M455 858h7M447 862h8M151 864h78M51 866h100M447 866h8M151 868h78M462 876h7M274 882h33M51 884h100M455 888h7M51 890h178M447 890h8M51 894h100M455 896h7M455 910h7M439 912h8M455 918h7M151 926h78M51 928h100M439 934h8M151 942h78M447 942h8M455 948h7M447 958h8M455 962h7M455 964h7M455 970h7M447 976h8M455 980h7M51 984h100M447 986h15M447 996h8M447 1000h15M455 1002h7M51 1006h100M455 1012h7M455 1020h7M447 1024h8M447 1028h8M51 1032h100M455 1032h7M447 1034h8M447 1036h8M229 1046h45M51 1050h100M447 1052h8M229 1066h45M229 1072h78M469 1082h6M51 1086h100M455 1092h14M455 1098h7M462 1108h7M487 1110h6M51 1136h100M455 1144h7M151 1146h78M447 1148h8M51 1152h100M447 1152h8M51 1158h100M447 1158h8M455 1166h7M51 1176h100M439 1176h8M51 1182h100M229 1182h45M439 1182h8M151 1184h123M455 1200h7M447 1202h8M455 1204h7M51 1206h100M229 1206h45M51 1210h100M447 1232h8M462 1248h7M455 1258h7M51 1266h100M439 1268h8M455 1268h7M51 1274h100M439 1280h8M455 1292h7M51 1308h100M439 1308h8M439 1328h8M430 1336h9M455 1338h7M447 1340h8M447 1342h8M51 1360h100M455 1368h7M447 1372h8M455 1378h7M439 1382h8M447 1394h8M439 1402h16M447 1414h8M439 1430h8M229 1436h45M455 1468h7M455 1490h7M462 1512h7M439 1524h8M447 1530h8M447 1532h8M447 1536h8M439 1538h8"/>
<path stroke="#37ffc8" d="M462 116h7M462 114h7M51 118h100M475 124h6M229 126h45M475 138h6M151 140h78M151 148h78M475 150h18M462 154h7M462 156h13M469 160h6M151 164h78M469 166h6M229 168h45M51 174h100M462 176h7M475 176h6M229 180h45M462 184h7M151 190h123M469 190h6M274 192h33M229 196h45M462 200h7M481 200h6M151 208h123M469 210h6M51 222h100M151 226h123M455 232h7M151 234h78M51 236h100M469 238h6M151 242h78M151 246h78M229 250h45M462 250h7M51 254h100M475 256h6M481 258h6M229 260h45M151 264h78M51 266h100M462 266h7M481 266h6M229 270h45M475 270h6M151 272h78M462 272h7M487 272h6M481 274h6M469 276h6M493 276h5M462 278h7M475 284h6M469 286h12M229 288h45M469 288h6M481 292h6M487 296h11M462 302h7M481 302h6M51 304h100M51 308h100M462 308h7M151 310h123M229 316h45M462 316h7M487 318h6M151 324h78M469 324h6M51 332h100M462 332h7M469 334h6M469 336h12M498 336h5M469 338h6M487 338h6M455 346h7M475 346h6M481 348h6M455 350h7M487 354h6M151 356h123M455 360h7M469 360h6M475 368h6M229 376h45M151 378h123M462 378h13M481 380h12M51 382h100M447 382h8M229 386h45M462 390h7M462 392h7M481 392h6M229 402h45M462 402h7M475 402h12M469 406h6M51 408h100M469 410h12M229 414h45M475 426h12M455 428h7M151 432h78M51 436h100M151 438h78M462 438h7M475 440h6M475 450h6M462 456h7M475 458h6M481 468h6M469 470h6M455 478h7M51 488h100M462 488h7M447 492h8M481 492h6M475 498h6M462 500h7M455 502h7M469 506h6M229 512h45M455 512h7M151 514h78M229 518h45M455 518h7M51 520h100M462 524h7M469 532h6M455 538h7M481 540h6M229 546h45M455 556h7M51 558h178M481 568h12M462 570h7M51 572h100M469 572h6M455 578h7M447 584h8M229 588h45M481 592h6M51 594h100M462 594h7M493 594h5M462 598h7M51 600h100M469 602h6M462 604h7M229 610h45M455 612h14M455 614h7M51 618h100M462 634h7M462 646h7M481 654h6M469 676h6M455 678h7M229 680h45M455 686h7M455 690h7M455 692h7M229 706h45M455 706h7M469 706h6M51 712h100M462 712h7M229 714h45M455 716h7M475 718h12M481 722h6M462 724h7M51 726h100M475 732h6M51 734h100M469 738h6M151 740h123M51 744h100M462 744h7M481 744h6M462 754h13M469 758h6M455 762h7M229 764h45M455 774h7M475 774h6M462 776h7M469 780h6M462 782h13M51 784h100M469 784h6M481 794h6M487 796h6M455 800h7M481 802h6M462 804h7M455 806h7M469 806h6M469 808h6M229 812h45M469 816h6M462 822h7M455 824h7M481 828h12M455 830h7M447 832h8M462 832h7M462 834h7M462 842h7M462 846h7M469 850h6M229 854h45M51 856h100M481 858h6M51 862h100M462 864h7M462 868h7M229 870h45M455 874h7M51 876h100M469 876h6M447 882h8M229 888h45M455 890h7M475 892h6M481 910h6M475 912h6M475 918h6M481 920h6M475 922h6M469 930h6M481 930h6M493 930h5M51 936h100M455 938h7M469 940h6M462 944h7M51 950h100M51 952h100M462 964h7M462 974h7M462 992h7M481 992h6M462 996h7M447 1002h8M462 1004h7M469 1008h12M469 1014h6M462 1016h7M487 1018h6M462 1024h7M455 1028h7M475 1040h6M469 1042h6M475 1048h6M469 1054h6M481 1054h6M447 1064h8M462 1066h7M487 1078h6M462 1080h7M462 1084h13M447 1092h8M481 1096h6M447 1100h8M481 1102h6M51 1108h100M475 1110h6M462 1112h7M469 1114h6M455 1116h7M462 1118h7M462 1130h7M455 1134h7M469 1140h6M447 1144h8M462 1144h7M475 1144h6M493 1144h5M462 1156h7M475 1166h6M475 1168h12M455 1176h14M462 1178h7M469 1186h12M469 1188h6M487 1188h6M462 1198h7M487 1198h6M462 1216h7M447 1218h8M462 1220h7M481 1220h6M475 1226h6M469 1230h6M481 1232h6M455 1238h7M462 1240h13M455 1246h7M469 1248h6M487 1248h6M469 1250h6M475 1252h6M447 1254h8M462 1258h7M487 1258h11M462 1262h7M481 1264h6M498 1264h5M462 1268h7M455 1274h14M475 1274h6M469 1280h12M462 1286h7M469 1290h6M455 1300h7M447 1302h8M487 1304h6M462 1310h7M475 1320h6M487 1346h6M481 1348h6M498 1348h5M455 1352h7M487 1354h6M455 1370h7M481 1374h6M455 1376h14M462 1382h7M487 1382h6M462 1386h7M469 1388h12M455 1396h7M469 1398h6M462 1400h7M475 1402h6M447 1412h8M475 1416h6M447 1422h8M447 1424h8M475 1424h6M481 1432h6M455 1436h7M455 1438h14M487 1442h6M462 1444h7M455 1456h7M455 1470h7M487 1472h6M447 1480h8M447 1482h8M455 1486h7M475 1496h6M475 1500h6M462 1506h7M462 1508h7M462 1518h7M462 1522h13M455 1528h7M475 1528h6M498 1528h5M455 1532h7M462 1534h7M481 1534h6M493 1536h5M475 1544h6"/>
<path stroke="#00e5ff" d="M469 116h6M469 114h6M481 118h6M493 120h5M481 122h6M487 124h6M51 126h100M475 126h6M487 128h6M469 134h6M475 140h6M51 144h100M493 144h5M151 150h123M469 152h6M503 152h5M51 158h100M487 158h6M151 162h78M481 162h6M51 164h100M481 170h6M493 170h5M498 172h5M487 176h6M498 176h5M481 180h6M487 182h6M469 184h6M487 186h6M51 190h100M481 196h6M493 200h5M493 204h5M481 206h6M481 208h12M493 212h5M462 216h7M51 220h100M481 220h6M469 222h6M475 224h6M493 228h5M493 230h5M51 232h100M493 234h10M475 236h6M487 238h6M51 240h100M469 240h6M487 240h6M498 240h5M475 242h6M487 242h6M481 246h12M487 248h16M229 254h45M229 256h45M481 260h6M51 262h100M487 262h6M51 264h100M487 268h6M503 274h5M503 276h5M51 284h100M487 284h6M481 290h6M498 292h5M462 294h7M481 296h6M503 296h5M475 300h6M481 304h6M493 304h5M487 310h6M481 312h6M481 314h6M475 316h6M481 318h6M455 320h7M487 320h6M469 322h6M51 328h100M493 332h10M447 334h8M493 340h5M481 342h12M493 344h10M51 346h100M503 348h5M475 350h6M498 352h5M498 354h5M51 356h100M475 356h6M487 356h6M455 358h7M469 358h12M498 366h5M481 368h6M503 370h5M469 372h6M229 374h45M481 378h6M493 382h5M469 384h6M481 386h6M487 390h6M493 404h5M469 408h6M487 410h6M462 412h7M475 412h6M462 414h7M469 418h6M487 418h6M51 420h100M455 426h7M498 426h5M447 428h8M481 428h6M51 432h100M475 434h6M498 434h5M475 438h6M475 442h6M469 446h6M51 448h100M481 452h6M493 462h5M51 464h100M481 464h6M493 472h5M481 474h6M493 474h5M498 478h10M151 482h78M498 484h5M469 488h6M481 494h6M493 494h5M475 502h6M493 504h5M475 510h6M487 514h6M151 516h78M487 516h6M475 520h6M498 524h5M469 530h12M487 534h6M469 542h6M487 542h6M487 546h6M469 548h6M475 550h6M487 550h6M475 552h6M498 552h10M462 554h13M469 556h12M481 560h12M498 560h5M469 562h6M462 564h13M498 566h5M51 568h100M475 570h6M487 570h6M487 576h6M487 578h6M469 580h12M487 580h6M493 584h5M508 584h4M481 588h6M475 596h6M503 596h5M51 606h100M493 606h5M51 610h100M475 610h6M493 610h10M469 614h6M498 614h5M469 616h6M455 622h7M493 626h5M493 628h5M487 630h6M475 634h6M493 636h5M469 638h6M475 640h23M462 644h13M493 646h5M475 648h6M498 650h5M493 658h5M469 662h6M481 662h12M498 662h5M487 664h6M481 672h6M475 674h12M493 674h5M487 676h6M487 678h6M469 682h6M487 682h6M498 684h5M469 690h6M481 690h12M475 694h6M469 700h12M469 708h6M498 708h5M481 710h6M503 710h5M462 714h13M498 714h5M487 718h6M475 720h6M462 722h7M462 726h7M475 726h12M51 728h100M455 728h14M487 730h6M498 732h5M493 734h5M151 736h78M481 738h6M51 742h100M447 742h8M487 748h6M481 754h6M469 756h12M493 760h5M462 764h7M493 766h5M481 768h6M487 770h11M493 772h5M475 778h6M462 788h7M481 790h6M51 796h100M493 796h5M487 806h6M481 808h6M469 812h6M487 812h6M475 814h6M493 814h5M475 816h6M487 818h6M498 818h5M469 820h6M493 820h5M487 822h6M475 830h6M487 834h6M469 836h6M481 842h12M487 844h11M447 852h8M487 856h6M487 858h6M487 860h6M469 868h6M493 868h5M475 878h6M475 880h12M469 882h6M475 884h6M469 886h6M487 886h6M462 890h7M481 892h6M475 894h6M481 896h12M481 902h6M503 908h5M487 914h11M498 916h5M481 918h6M487 920h6M487 924h11M475 926h6M493 926h15M487 934h6M487 936h6M469 938h12M498 938h5M481 940h6M481 942h6M469 948h6M493 948h5M469 950h6M481 950h6M455 956h7M487 956h11M469 958h6M481 960h6M493 964h5M462 966h7M481 966h6M481 968h6M462 970h7M475 972h6M469 976h12M469 978h6M493 980h10M498 982h5M475 986h6M469 994h6M493 994h5M481 996h6M498 996h5M487 1000h16M475 1002h6M493 1002h5M469 1006h6M487 1006h6M475 1010h6M475 1012h6M503 1014h5M493 1022h10M475 1024h18M498 1024h5M481 1028h6M493 1028h5M498 1030h5M475 1032h6M481 1034h12M493 1036h15M487 1042h6M481 1044h6M462 1046h7M493 1048h5M469 1050h6M487 1052h6M469 1060h6M487 1060h6M493 1062h5M481 1064h6M469 1066h6M469 1068h6M498 1068h10M481 1070h6M462 1078h13M498 1078h5M493 1082h5M462 1086h7M481 1088h6M481 1090h6M493 1108h5M498 1110h5M481 1112h6M487 1116h6M503 1116h5M481 1120h6M481 1124h6M493 1124h5M475 1126h6M475 1130h6M462 1132h7M455 1140h7M475 1142h6M498 1142h5M475 1150h12M481 1152h6M475 1154h6M487 1168h6M493 1172h5M469 1178h6M475 1180h6M469 1182h6M462 1184h7M498 1188h5M481 1194h6M455 1196h7M481 1196h6M498 1198h5M469 1202h6M498 1204h5M469 1206h6M475 1210h6M462 1212h7M493 1220h5M498 1226h10M475 1230h6M487 1230h6M455 1236h7M475 1236h6M462 1242h13M469 1246h6M487 1250h6M498 1256h10M469 1260h6M481 1260h6M493 1260h5M487 1262h6M475 1268h6M508 1280h4M462 1282h7M481 1284h6M493 1286h10M462 1288h7M475 1288h6M487 1290h6M469 1294h6M493 1296h5M475 1298h12M475 1300h6M455 1302h7M469 1302h6M475 1304h6M487 1310h6M469 1312h18M475 1314h6M503 1314h5M493 1322h5M481 1326h6M487 1328h6M475 1330h6M503 1332h5M487 1338h6M469 1340h6M487 1340h6M462 1342h7M487 1344h11M503 1346h5M493 1350h5M462 1356h7M469 1358h6M469 1362h6M487 1362h6M481 1364h12M475 1366h6M462 1372h7M487 1372h6M462 1378h7M469 1382h6M487 1384h6M469 1386h18M481 1390h12M481 1400h6M493 1400h5M487 1402h6M51 1408h100M462 1408h7M481 1412h6M475 1414h6M462 1420h7M481 1420h6M469 1422h12M469 1426h6M493 1426h10M469 1428h12M493 1428h5M447 1430h8M481 1430h6M469 1434h12M475 1436h12M498 1438h5M493 1440h5M498 1442h5M503 1448h5M469 1450h6M487 1450h6M455 1452h7M487 1454h6M469 1456h12M487 1458h6M481 1460h12M493 1462h5M469 1468h6M462 1474h7M469 1482h6M481 1488h6M462 1494h7M487 1494h6M493 1498h5M469 1502h12M487 1502h6M487 1504h6M493 1506h5M469 1510h6M487 1514h6M498 1516h5M481 1518h6M487 1526h6M508 1528h4M475 1530h6M493 1530h5M462 1532h7M481 1538h17M481 1540h12M455 1542h7M481 1546h6M475 1548h6M475 1550h6M475 1554h18M475 1556h18"/>
<path stroke="#00f5ff" d="M475 116h6M475 114h6M469 118h6M51 122h100M475 122h6M469 126h6M481 126h12M481 128h6M51 130h100M487 132h11M51 134h100M462 142h7M475 144h6M51 152h100M487 152h6M487 154h6M481 156h6M481 158h6M229 162h45M475 164h12M498 164h5M487 170h6M493 176h5M151 182h78M487 184h11M481 186h6M469 188h6M51 194h100M487 196h6M498 196h5M469 200h6M481 204h6M475 212h6M481 214h6M493 214h5M493 218h5M475 220h6M475 222h6M51 226h100M51 228h100M481 228h6M475 230h6M498 230h5M475 232h6M51 234h100M469 236h6M498 236h5M493 240h5M51 242h100M151 244h123M462 244h7M475 246h6M493 250h5M475 260h6M493 266h5M493 268h5M481 270h6M493 272h5M475 274h6M51 276h100M51 280h100M229 280h45M481 288h6M475 294h6M469 304h6M487 304h6M475 306h6M481 308h12M498 308h5M51 312h100M481 316h12M151 318h123M481 320h6M51 322h100M51 334h100M498 338h5M487 340h6M481 346h6M51 348h100M487 348h6M487 352h6M51 354h100M462 356h13M462 358h7M493 360h5M469 362h6M481 362h6M469 364h6M475 366h23M481 370h6M498 370h5M151 374h78M475 374h6M487 374h6M51 376h100M469 380h6M462 384h7M51 388h100M469 388h6M487 392h6M475 408h6M469 416h6M447 420h8M487 424h6M493 426h5M469 428h12M481 432h12M469 436h6M493 440h5M481 442h6M493 444h5M487 448h11M51 450h100M481 450h6M469 452h12M487 452h6M498 452h5M475 454h6M469 456h6M481 460h6M481 462h6M455 464h7M475 466h6M498 466h5M493 468h5M498 474h5M487 478h11M51 480h100M475 480h6M481 484h6M493 484h5M481 498h6M481 508h12M498 508h5M51 516h100M493 518h5M455 526h7M475 528h12M503 528h5M481 530h6M493 532h5M455 536h7M462 546h7M481 550h6M503 554h5M481 556h6M487 558h6M469 560h6M493 560h5M475 562h12M487 566h11M469 568h6M493 570h15M462 574h7M481 576h6M447 580h8M481 580h6M475 582h6M498 584h5M487 586h6M475 588h6M462 590h7M469 594h6M498 594h5M475 598h12M493 602h5M462 606h7M481 606h6M481 612h6M475 614h6M503 614h5M475 616h6M493 616h5M469 618h6M462 620h7M487 620h6M469 622h6M481 624h6M151 628h78M481 630h6M498 630h5M462 640h7M455 642h7M475 642h12M487 646h6M487 650h11M487 654h6M493 656h5M469 660h6M493 660h5M493 662h5M469 664h6M481 666h12M469 668h6M493 668h5M481 670h6M498 676h5M469 678h6M469 680h6M487 686h6M462 690h7M469 692h6M51 694h100M481 696h6M469 702h6M51 704h100M51 706h100M481 712h6M481 714h6M475 722h6M481 728h6M487 734h6M469 736h6M481 736h6M51 738h100M487 742h6M481 746h6M481 748h6M51 750h100M462 756h7M455 760h7M475 764h6M487 766h6M475 768h6M487 768h6M469 772h12M481 774h6M469 778h6M475 790h6M475 792h12M493 792h5M487 794h6M475 798h6M487 798h6M487 800h11M481 812h6M462 814h7M493 818h5M469 822h12M475 826h6M475 828h6M462 830h7M475 832h6M493 836h5M503 840h5M455 842h7M469 842h6M481 848h6M481 862h6M475 872h6M481 874h6M487 878h6M469 880h6M469 884h6M481 884h6M469 888h6M462 892h7M493 898h5M469 900h12M487 904h6M503 904h5M469 906h6M493 908h5M469 910h6M498 914h10M487 916h11M493 928h5M503 930h5M469 934h6M462 938h7M493 938h5M487 940h6M503 942h5M51 944h100M487 944h6M469 946h12M493 946h5M487 948h6M462 950h7M475 950h6M481 952h12M469 954h6M462 960h7M475 964h6M481 972h6M475 974h6M487 980h6M503 980h5M487 982h6M475 984h6M455 988h7M469 990h6M475 996h6M487 996h6M462 998h13M493 998h5M503 1000h5M481 1002h6M503 1010h5M493 1018h5M481 1020h12M493 1024h5M469 1026h12M493 1026h5M487 1032h6M498 1032h5M481 1036h6M462 1048h7M469 1052h6M493 1054h5M503 1056h5M469 1058h6M462 1062h7M487 1068h11M487 1070h6M469 1072h6M481 1074h6M469 1076h6M469 1080h6M481 1084h6M455 1086h7M487 1094h6M462 1100h7M481 1104h6M469 1112h6M469 1116h6M462 1120h7M481 1122h6M462 1128h7M475 1128h6M487 1128h6M469 1132h6M475 1136h6M487 1140h6M469 1142h6M487 1142h11M475 1148h6M487 1158h6M498 1160h5M481 1166h6M475 1170h6M469 1172h6M481 1174h6M487 1176h6M469 1194h6M462 1196h7M481 1200h6M498 1200h5M469 1204h12M462 1206h7M481 1208h6M462 1210h7M469 1218h6M481 1222h6M481 1226h6M493 1232h5M469 1234h6M481 1234h6M493 1238h5M487 1240h6M481 1242h6M493 1248h5M475 1258h6M475 1262h6M469 1264h6M503 1264h5M469 1268h6M481 1274h6M503 1280h5M493 1282h5M455 1284h7M469 1284h6M481 1290h6M475 1294h6M462 1298h13M487 1298h6M462 1302h7M475 1302h6M469 1304h6M498 1308h5M475 1310h12M487 1314h6M475 1318h6M498 1320h5M487 1322h6M469 1324h18M469 1326h6M481 1330h6M475 1334h6M475 1338h6M493 1340h10M455 1342h7M481 1342h6M475 1344h6M508 1348h4M455 1350h14M493 1354h5M487 1356h6M475 1358h6M447 1360h8M469 1360h6M469 1364h12M469 1366h6M475 1368h6M475 1372h6M469 1376h6M481 1380h6M481 1382h6M493 1382h5M481 1394h6M475 1396h12M493 1396h5M455 1404h7M51 1410h100M475 1410h12M462 1426h7M481 1428h12M462 1430h7M493 1430h5M481 1434h6M493 1438h5M475 1442h6M462 1450h7M481 1450h6M462 1454h7M475 1454h6M447 1456h8M481 1456h6M475 1458h6M498 1462h5M493 1464h5M475 1466h6M481 1468h12M469 1474h6M481 1476h6M469 1478h6M481 1478h6M469 1480h12M493 1480h5M462 1482h7M487 1486h6M469 1488h12M493 1494h5M493 1496h5M462 1498h13M487 1498h6M469 1500h6M487 1506h6M481 1510h6M455 1514h7M475 1516h6M487 1516h6M487 1528h6M462 1538h7M481 1544h6M469 1546h12M487 1546h6M462 1548h7M487 1548h6M493 1552h5"/>
<path stroke="#00d4ff" d="M481 116h6M481 114h6M493 116h10M493 114h10M493 118h5M487 120h6M493 122h5M51 124h100M493 124h5M487 130h6M487 138h6M481 140h6M455 144h7M481 146h6M498 150h5M469 154h12M493 160h15M481 166h6M475 168h6M51 182h100M475 182h6M493 182h5M151 184h78M498 184h5M493 186h5M487 188h11M469 192h6M475 198h6M498 200h5M487 202h6M493 206h10M475 210h6M498 212h5M469 214h6M498 214h5M469 218h6M481 224h6M475 226h6M487 226h6M503 230h5M481 232h6M493 238h5M475 240h6M475 248h12M498 250h5M493 254h10M469 264h12M487 264h6M498 272h5M51 278h100M475 280h18M487 282h6M51 286h100M487 286h21M481 294h6M493 298h5M498 304h5M462 306h7M455 310h7M487 314h6M493 318h5M481 322h6M229 326h45M481 330h12M481 332h6M487 334h6M498 340h5M475 342h6M493 342h5M481 344h12M51 350h100M487 350h11M481 356h6M498 360h5M487 362h6M475 364h18M51 374h100M469 374h6M487 378h6M493 384h5M51 386h100M493 386h5M462 388h7M481 388h6M475 390h6M469 394h12M498 394h5M475 396h6M229 400h45M469 400h6M498 404h5M487 408h6M493 410h5M498 412h5M493 418h10M469 420h6M487 420h6M493 424h5M487 428h16M475 432h6M51 434h100M493 434h5M487 436h6M469 438h6M487 442h6M475 444h12M481 448h6M498 448h5M503 452h5M493 454h5M498 468h5M498 470h5M503 474h5M469 482h6M487 484h6M487 490h6M487 492h6M469 494h6M469 496h6M498 500h5M469 504h6M481 504h6M503 508h5M469 510h6M481 510h6M475 512h18M455 516h7M469 518h12M493 520h5M481 522h6M462 526h7M475 526h6M498 526h5M498 532h5M481 536h6M487 540h6M455 542h7M481 544h6M493 544h5M493 546h5M487 562h6M487 564h6M508 570h4M51 576h100M469 576h12M487 582h6M493 586h5M487 590h6M475 594h6M481 596h6M487 598h16M508 600h4M469 604h12M469 606h12M481 614h6M508 614h4M475 618h6M493 618h5M475 620h6M462 622h7M469 624h6M493 624h5M475 626h6M487 626h6M498 626h5M51 628h100M498 632h5M51 638h100M481 638h6M487 644h6M462 648h7M487 648h11M475 652h6M493 654h5M498 660h5M475 664h12M475 668h6M498 668h5M498 674h5M493 678h10M475 680h6M481 682h6M493 688h5M462 696h7M475 696h6M487 698h6M493 708h5M487 712h11M481 716h12M481 720h6M481 724h6M469 726h6M229 736h45M51 740h100M469 740h6M487 744h6M493 746h5M481 758h6M493 758h10M469 764h6M493 768h5M498 772h5M498 776h5M487 778h6M493 780h5M498 784h5M498 786h5M469 788h12M493 788h5M487 790h6M475 796h6M475 800h6M498 800h5M503 802h5M481 804h6M498 804h10M481 806h6M493 806h5M475 812h6M469 814h6M475 820h6M469 826h6M493 828h5M469 834h6M487 836h6M498 840h5M508 840h4M493 842h15M481 846h6M498 846h5M503 852h5M51 854h100M475 854h6M493 856h5M493 858h5M469 860h6M475 864h6M475 868h6M462 870h7M475 870h6M469 878h6M487 880h11M487 882h6M481 886h6M475 890h6M469 894h6M481 894h6M493 896h5M498 898h5M487 900h11M487 902h6M503 902h5M469 904h6M447 908h8M498 908h5M508 908h4M503 910h5M475 914h6M487 918h11M462 922h13M481 924h6M469 926h6M481 926h12M508 930h4M462 932h7M481 934h6M493 940h5M487 942h6M493 944h5M487 950h6M498 952h5M475 954h6M498 956h5M475 958h6M469 960h12M487 960h6M481 964h12M498 964h5M475 966h6M487 968h6M493 970h5M487 972h6M503 974h5M481 976h6M462 978h7M493 978h5M481 984h6M498 986h5M475 990h6M493 992h5M462 994h7M487 994h6M498 998h5M481 1008h6M487 1010h6M498 1010h5M508 1010h4M469 1012h6M481 1022h12M498 1026h5M487 1028h6M498 1028h5M481 1030h6M493 1030h5M503 1030h5M493 1034h5M481 1046h17M487 1048h6M498 1048h5M462 1050h7M481 1050h6M481 1060h6M469 1064h12M475 1070h6M475 1072h6M487 1074h6M475 1080h6M498 1080h5M487 1082h6M498 1082h5M493 1096h5M493 1100h5M455 1102h7M475 1106h6M487 1106h6M455 1112h7M481 1114h6M475 1116h6M469 1120h6M498 1124h5M481 1126h6M493 1128h5M481 1132h12M487 1134h6M462 1138h7M481 1138h12M481 1146h6M475 1152h6M487 1152h6M481 1156h12M469 1160h12M503 1160h5M487 1162h6M481 1164h6M481 1170h6M487 1174h6M493 1176h5M475 1178h6M487 1184h6M487 1186h11M487 1190h11M469 1192h6M481 1192h12M475 1194h6M487 1194h11M487 1196h6M503 1200h5M487 1208h6M469 1210h6M481 1210h6M469 1216h6M481 1216h12M475 1224h18M493 1226h5M487 1228h6M481 1230h6M498 1238h5M493 1244h5M475 1246h6M493 1246h5M481 1250h6M481 1252h6M481 1254h6M487 1256h11M475 1260h6M475 1266h6M498 1268h5M498 1276h5M487 1280h16M455 1282h7M469 1282h6M475 1284h6M469 1286h6M487 1286h6M462 1290h7M481 1292h6M481 1294h6M475 1296h6M493 1298h5M481 1300h6M493 1304h5M481 1308h6M487 1312h21M498 1316h5M462 1322h7M487 1326h6M493 1330h5M462 1334h13M487 1334h16M481 1338h6M475 1342h6M487 1342h6M481 1344h6M475 1346h6M503 1352h5M498 1354h5M475 1356h6M487 1358h6M475 1362h12M493 1364h5M493 1366h5M481 1372h6M469 1374h6M475 1378h12M487 1380h6M498 1382h5M487 1400h6M462 1404h7M487 1404h6M475 1406h6M487 1412h6M481 1414h6M493 1416h5M462 1418h13M475 1420h6M462 1424h13M487 1424h6M475 1426h6M487 1426h6M498 1430h5M493 1444h10M462 1446h7M487 1446h6M475 1450h6M487 1452h11M481 1454h6M487 1456h6M493 1458h5M475 1460h6M469 1462h12M487 1462h6M503 1462h5M498 1464h5M498 1472h5M475 1478h6M487 1482h11M493 1486h5M487 1490h11M475 1494h12M498 1494h5M475 1498h6M481 1502h6M493 1504h5M487 1510h6M481 1512h6M493 1514h5M481 1516h6M481 1524h6M455 1526h20M481 1526h6M493 1526h5M487 1530h6M498 1530h5M469 1532h6M475 1536h6M503 1536h5M475 1538h6M493 1540h5M481 1542h6M493 1546h5"/>
<path stroke="#00b4ff" d="M487 116h6M487 114h6M487 118h6M481 120h6M498 126h10M481 134h6M487 140h11M498 144h5M487 146h6M475 148h6M498 148h5M503 150h5M487 156h11M51 166h100M508 174h4M503 176h5M481 182h6M498 182h5M229 184h45M475 184h6M503 186h5M503 188h5M503 196h5M487 198h11M493 202h5M503 212h5M469 216h6M487 222h6M51 230h100M481 230h6M487 234h6M503 234h5M503 236h5M503 240h5M493 242h5M51 244h100M447 244h8M469 244h6M498 246h5M475 252h6M487 254h6M51 256h100M487 256h6M51 258h100M51 260h100M487 260h6M493 264h5M498 266h5M508 268h4M487 270h11M51 272h100M508 274h4M503 278h5M487 288h6M487 294h11M498 298h5M487 306h6M503 308h5M493 310h5M487 312h21M493 314h5M493 316h5M487 322h6M481 328h6M503 328h5M475 332h6M508 340h4M503 342h5M493 346h5M493 356h5M481 358h17M493 364h5M493 368h5M508 370h4M475 372h18M475 376h6M51 392h100M481 396h12M481 400h6M493 400h5M487 404h6M487 406h6M498 410h5M481 414h6M455 420h14M469 422h6M481 422h12M503 428h5M487 434h6M503 434h5M481 456h6M487 458h6M498 472h5M487 474h6M508 478h4M493 480h5M493 486h10M487 488h6M481 502h6M498 504h5M493 510h5M493 512h5M498 518h5M481 520h12M498 520h5M493 522h5M503 524h5M469 526h6M503 526h5M498 530h10M493 534h5M493 540h5M475 546h12M493 548h10M493 556h5M493 558h5M493 564h5M503 566h5M469 574h6M487 574h6M493 576h5M493 578h5M498 580h5M481 582h6M498 586h5M503 594h5M503 598h5M493 604h5M498 606h5M481 608h6M487 612h16M487 614h6M481 618h12M487 622h6M475 624h6M498 624h5M481 626h6M503 630h5M475 638h6M493 638h5M498 644h5M475 646h6M503 646h5M503 650h5M498 658h5M481 660h6M503 660h5M503 664h5M475 666h6M493 666h5M487 670h16M481 680h12M475 690h6M493 690h5M493 698h5M481 706h6M503 712h5M493 716h5M493 720h5M487 724h6M487 728h6M503 732h5M498 734h5M487 736h6M475 740h12M493 742h5M455 748h7M493 748h5M481 750h6M481 752h6M498 754h5M481 756h12M498 756h5M487 764h6M503 768h5M475 770h6M503 772h5M481 778h6M493 778h5M498 780h5M498 790h5M503 800h5M487 804h6M498 806h5M487 808h6M469 824h6M493 824h5M503 824h5M481 826h6M508 826h4M481 832h6M493 834h5M503 838h5M493 840h5M493 848h5M469 854h6M498 856h5M481 864h12M498 868h5M487 872h6M498 872h5M475 876h6M498 880h5M493 884h5M481 888h6M493 888h10M487 890h6M498 890h10M508 892h4M487 894h6M503 898h5M503 900h5M481 904h6M487 906h11M493 912h10M481 914h6M503 916h5M493 920h5M493 922h5M475 924h6M498 928h5M475 934h6M493 934h5M493 936h5M498 940h5M498 944h5M498 946h5M508 950h4M503 956h5M481 958h6M498 958h10M493 962h5M493 966h5M503 968h5M481 974h6M498 974h5M508 980h4M469 986h6M503 996h5M503 998h5M508 1000h4M475 1004h6M487 1008h11M469 1010h6M493 1010h5M493 1016h5M498 1018h5M498 1020h5M475 1022h6M503 1022h5M455 1024h7M503 1024h5M487 1030h6M493 1042h15M493 1050h10M508 1056h4M498 1058h5M475 1060h6M498 1060h5M481 1066h6M508 1068h4M498 1074h5M503 1078h5M487 1084h6M508 1084h4M487 1088h11M498 1096h5M503 1098h5M469 1106h6M498 1108h5M487 1118h6M503 1118h5M487 1120h11M487 1124h6M498 1128h5M493 1130h15M503 1132h5M498 1134h10M493 1136h10M469 1138h6M469 1146h12M498 1148h5M487 1150h6M493 1158h5M475 1164h6M475 1184h6M469 1190h6M493 1192h15M493 1196h5M493 1202h10M503 1204h5M481 1206h6M503 1206h5M487 1210h11M469 1212h6M475 1216h6M493 1216h5M508 1222h4M493 1228h10M493 1230h5M487 1234h6M503 1236h9M487 1242h6M487 1252h6M493 1262h5M481 1266h12M498 1272h5M487 1274h6M503 1276h5M475 1282h6M503 1284h9M498 1294h5M487 1300h16M508 1312h4M487 1318h11M503 1320h5M475 1322h6M487 1324h6M498 1328h5M498 1330h14M493 1338h5M475 1340h6M469 1346h6M503 1354h5M493 1356h5M462 1360h7M487 1360h6M487 1366h6M493 1368h5M498 1370h5M455 1372h7M493 1372h15M493 1374h5M493 1376h5M469 1378h6M503 1382h5M487 1386h6M487 1392h6M493 1402h5M469 1408h6M493 1414h5M503 1418h5M487 1420h6M462 1422h7M503 1430h5M487 1434h6M493 1436h5M481 1444h6M469 1446h6M508 1448h4M503 1450h5M503 1452h5M498 1454h10M498 1458h5M481 1466h6M493 1466h5M503 1472h5M487 1476h6M498 1476h5M498 1480h5M498 1482h5M455 1484h14M469 1486h12M487 1488h6M487 1492h16M498 1504h5M498 1510h5M487 1512h6M475 1514h12M503 1516h5M503 1520h9M487 1524h6M503 1526h5M481 1532h6M498 1532h5M498 1538h5M503 1540h5M493 1542h5M498 1546h5M498 1548h5M487 1550h11"/>
<path stroke="#00a4ff" d="M503 116h5M503 114h5M503 118h5M498 122h5M498 124h5M493 130h5M498 140h5M493 142h5M508 152h4M493 166h5M487 168h21M503 170h5M503 172h5M498 178h5M503 184h5M481 188h6M508 188h4M508 190h4M487 192h6M498 198h5M503 200h5M498 204h5M508 206h4M498 208h5M503 214h5M487 216h6M493 226h5M493 232h10M469 234h6M498 242h5M475 244h18M503 246h5M503 250h5M481 254h6M493 262h5M498 264h5M498 270h5M508 272h4M487 278h16M493 282h5M493 284h5M508 286h4M498 290h10M503 292h5M503 294h5M503 322h5M493 324h15M151 326h78M498 326h5M498 328h5M508 336h4M487 346h6M498 346h5M503 352h5M503 360h5M487 368h6M498 368h5M493 372h5M503 376h5M487 388h6M493 390h5M493 392h5M487 398h11M455 400h7M487 400h6M493 408h5M469 412h6M503 412h5M469 414h12M503 416h5M475 422h6M503 424h5M475 430h23M481 434h6M508 436h4M493 442h5M493 446h5M503 448h5M487 450h6M498 454h5M487 460h6M498 462h5M503 466h5M503 468h5M503 470h5M229 482h45M475 482h6M475 488h12M493 488h5M493 490h5M493 492h5M503 500h5M508 506h4M498 510h5M498 512h5M493 514h5M481 516h6M508 528h4M487 530h11M503 532h5M498 534h10M493 542h5M498 546h5M475 548h6M487 548h6M503 548h5M508 554h4M498 556h10M508 562h4M493 574h5M503 580h5M498 582h5M51 588h100M508 590h4M498 592h5M487 604h6M498 604h5M475 608h6M503 618h5M493 620h5M503 626h5M498 636h5M481 646h6M503 648h5M498 654h5M469 666h6M503 674h5M503 676h5M493 680h5M475 682h6M493 682h5M503 684h5M498 686h5M498 690h5M475 698h6M481 700h6M487 704h6M503 714h5M498 718h5M498 720h5M493 724h10M51 736h100M487 738h6M487 740h16M498 742h10M498 744h5M503 746h5M487 750h6M498 752h5M487 758h6M503 758h5M498 760h5M503 762h9M503 766h5M498 778h10M498 782h5M503 788h5M493 794h5M508 802h4M503 808h5M469 810h6M498 810h5M493 812h5M498 814h5M503 820h5M498 824h5M498 826h5M475 834h6M481 838h6M487 848h6M508 848h4M487 850h6M493 854h10M498 862h10M503 864h5M487 866h6M51 870h100M481 870h12M469 872h6M487 874h6M487 876h11M493 878h5M475 882h6M493 882h10M493 886h5M462 896h7M475 904h6M481 906h6M498 906h5M487 912h6M508 914h4M487 922h6M498 922h5M508 926h4M508 938h4M508 942h4M503 948h5M481 954h6M493 958h5M493 960h5M481 962h12M469 966h6M498 966h5M508 968h4M508 970h4M487 974h6M498 978h5M469 980h6M503 982h5M487 984h6M503 984h5M503 986h5M498 992h5M455 994h7M475 994h6M503 1002h5M493 1006h5M498 1008h5M493 1012h10M469 1020h12M503 1026h5M498 1034h5M508 1036h4M493 1038h5M493 1040h5M487 1044h6M503 1046h5M508 1048h4M487 1050h6M493 1052h5M498 1054h5M503 1058h5M469 1062h6M498 1062h5M487 1066h6M493 1070h5M508 1074h4M475 1076h6M508 1082h4M493 1084h10M481 1086h6M498 1088h5M487 1090h6M493 1092h5M498 1094h5M493 1102h5M493 1106h5M503 1110h5M487 1114h21M498 1120h5M487 1126h6M469 1128h6M503 1128h5M487 1130h6M508 1132h4M487 1136h6M503 1136h5M493 1138h5M493 1140h5M503 1142h5M498 1146h5M493 1148h5M503 1148h5M475 1156h6M498 1156h5M503 1170h5M503 1172h5M498 1176h5M481 1178h6M498 1178h10M475 1190h6M508 1190h4M503 1194h5M508 1200h4M503 1202h5M487 1206h16M498 1208h5M498 1210h5M493 1212h5M493 1214h5M487 1218h6M498 1220h5M503 1222h5M503 1228h5M493 1234h10M481 1236h6M503 1238h5M493 1240h5M498 1246h5M503 1248h5M493 1252h10M487 1254h11M508 1256h4M503 1260h5M498 1262h5M503 1268h5M475 1272h6M493 1272h5M493 1274h5M498 1278h10M493 1284h10M475 1286h6M481 1288h6M498 1290h5M503 1292h5M503 1294h5M503 1300h5M493 1302h5M503 1316h5M481 1318h6M503 1326h5M503 1328h5M508 1332h4M503 1334h5M498 1342h5M498 1350h5M469 1356h6M498 1356h5M493 1358h5M481 1360h6M493 1360h5M493 1362h5M503 1364h5M481 1366h6M498 1366h5M498 1368h5M508 1372h4M475 1376h12M498 1376h5M487 1378h6M493 1380h5M475 1384h6M498 1384h5M493 1386h5M493 1390h5M487 1394h6M481 1404h6M493 1404h5M493 1412h5M498 1416h5M493 1420h5M487 1422h6M503 1428h5M493 1434h10M508 1434h4M498 1436h5M508 1438h4M498 1440h5M503 1442h5M508 1444h4M493 1446h5M508 1452h4M493 1456h5M503 1458h5M493 1460h5M508 1462h4M487 1470h6M493 1474h5M493 1476h5M503 1476h5M475 1484h6M498 1484h10M503 1496h5M503 1498h5M498 1508h10M503 1510h5M498 1514h5M487 1518h6M493 1522h5M508 1526h4M503 1530h5M487 1544h11M503 1548h5M481 1550h6"/>
<path stroke="#0053ff" d="M508 116h4M508 114h4M508 134h4M512 136h5M503 138h5M508 142h4M51 146h100M508 148h4M498 154h10M503 156h5M512 160h5M508 172h4M508 198h4M503 204h5M508 218h4M512 220h5M508 222h4M498 224h5M508 256h4M498 260h5M512 268h5M508 270h4M512 274h5M503 284h5M512 292h5M503 300h5M503 310h5M498 320h5M508 330h4M512 338h5M503 358h5M508 360h4M503 362h5M508 368h4M512 370h5M508 372h4M512 380h5M508 384h4M508 390h4M508 394h4M512 404h5M508 422h4M508 444h4M503 456h5M508 464h4M508 468h4M508 472h4M498 476h5M512 478h5M508 482h4M508 494h4M493 498h5M493 502h5M508 510h4M508 512h4M508 516h4M512 522h5M512 528h5M508 532h4M508 536h4M503 540h5M503 558h5M512 562h5M503 564h5M508 568h4M512 570h5M503 576h5M508 582h4M508 586h4M512 596h5M512 602h5M503 608h5M503 620h5M508 624h4M508 640h4M487 652h25M508 658h4M512 664h5M503 666h5M512 668h5M503 680h5M503 682h5M508 684h4M508 686h4M508 692h4M498 694h5M508 720h4M512 726h5M503 738h5M508 740h4M508 746h4M503 748h5M508 750h4M508 756h4M508 758h4M503 764h5M512 766h5M512 772h5M508 776h4M508 790h4M512 794h5M503 796h5M498 798h5M517 802h4M508 812h4M512 822h5M512 826h5M503 828h5M508 832h4M512 836h5M508 844h4M498 850h5M508 854h4M512 858h5M503 866h5M508 868h4M503 878h5M498 886h5M512 904h5M517 908h4M508 912h4M512 916h5M508 918h4M517 930h4M508 934h4M512 938h5M508 944h4M508 952h4M512 968h5M498 972h5M512 974h5M508 976h4M512 980h5M508 992h4M503 1016h5M512 1018h5M508 1028h4M512 1036h5M498 1038h5M512 1044h5M508 1054h9M512 1058h5M508 1060h4M508 1066h4M487 1076h6M508 1076h4M512 1082h5M512 1084h5M508 1086h4M503 1102h9M508 1108h4M493 1126h5M512 1128h5M512 1130h5M512 1132h5M508 1142h4M508 1148h4M503 1150h5M508 1158h4M503 1168h5M508 1174h4M512 1178h5M498 1182h10M503 1184h5M512 1190h5M508 1214h4M508 1220h4M493 1222h5M503 1224h5M512 1236h5M503 1240h5M503 1244h5M508 1254h4M508 1268h4M487 1270h6M512 1274h5M508 1282h4M512 1284h5M487 1288h11M508 1290h4M512 1300h5M503 1302h5M503 1304h5M512 1312h5M512 1314h5M512 1316h5M503 1324h5M517 1330h4M512 1332h5M498 1336h5M508 1360h4M503 1366h5M512 1372h5M512 1374h5M503 1380h5M512 1382h5M508 1384h4M498 1392h5M503 1394h5M487 1406h11M503 1408h5M508 1410h4M508 1420h4M498 1424h5M512 1438h5M517 1440h4M512 1444h5M503 1460h5M498 1468h5M512 1472h5M508 1486h4M508 1488h4M508 1490h4M508 1502h4M508 1506h4M503 1514h5M508 1522h4M512 1542h5"/>
<path stroke="#0022ff" d="M512 116h5M512 114h5M517 120h4M508 122h4M512 128h5M508 130h4M512 132h5M521 136h4M512 138h5M521 138h4M512 140h5M512 142h5M508 144h9M508 146h4M517 148h4M517 152h4M517 154h8M508 156h4M517 156h8M517 158h4M517 166h4M512 168h5M512 170h5M517 172h16M525 174h4M517 176h4M521 188h4M512 194h5M512 196h5M521 200h4M512 202h5M508 204h4M517 208h4M517 210h12M517 216h4M521 222h4M508 224h4M508 226h4M512 228h5M512 234h5M517 236h4M512 240h5M512 242h5M517 248h4M512 256h5M503 260h5M517 266h4M517 268h4M533 268h3M517 272h4M521 274h4M508 280h4M512 284h5M517 290h8M521 292h4M512 294h5M521 300h4M517 302h4M508 304h4M512 306h5M517 312h4M517 314h4M521 322h4M517 324h4M517 330h4M517 332h4M512 334h5M521 338h8M521 340h4M512 346h5M517 348h4M521 350h4M517 360h4M517 362h4M512 364h5M512 368h5M512 372h5M521 380h4M512 382h5M512 384h5M512 386h5M517 388h4M517 390h4M517 396h4M512 398h5M512 402h5M512 408h5M512 410h9M512 412h5M517 414h4M521 416h4M521 418h4M517 426h4M512 428h5M512 430h9M508 432h9M508 438h4M512 440h5M512 446h5M517 448h4M512 450h5M517 454h4M517 456h4M517 458h4M517 460h4M525 462h4M512 468h5M521 470h4M517 474h4M503 476h5M517 478h4M508 480h4M521 480h4M512 482h5M521 486h4M521 490h8M508 502h9M512 504h5M517 506h4M517 508h4M517 510h4M512 512h5M508 518h4M517 520h4M517 522h4M512 524h5M521 528h4M512 532h5M517 534h4M512 536h5M512 538h5M512 540h5M512 568h5M508 576h4M508 578h9M517 580h4M517 582h4M525 584h4M512 586h5M508 592h4M521 594h4M521 596h4M521 598h4M521 600h4M521 602h15M521 604h4M517 606h4M512 610h5M521 614h4M521 616h4M508 632h9M512 634h5M508 636h4M503 638h5M512 640h5M512 648h5M512 654h5M517 656h8M517 664h4M521 668h8M521 670h4M512 672h5M517 674h4M521 684h4M521 686h4M517 688h4M512 690h5M512 692h5M508 694h4M521 696h4M512 698h5M512 700h5M512 702h5M512 708h5M512 712h5M512 714h5M508 716h4M512 720h5M503 722h5M517 724h4M517 726h4M512 730h5M508 734h9M512 742h5M512 746h5M512 748h5M512 750h5M508 760h9M508 764h4M521 766h4M517 768h4M512 770h5M508 774h4M517 776h8M517 778h4M517 780h4M508 784h4M512 788h5M512 790h5M517 792h4M521 794h4M512 796h5M508 798h9M521 804h4M517 806h8M517 808h4M512 812h5M512 816h5M517 824h4M512 828h5M517 832h4M517 834h4M517 836h4M517 842h4M512 844h5M512 846h5M517 848h4M512 852h5M529 858h7M521 860h4M512 862h5M517 866h4M512 868h5M512 872h5M512 878h5M508 880h9M512 882h5M503 884h5M517 892h12M517 896h8M517 902h4M521 904h4M508 906h9M521 908h4M540 908h8M517 910h4M512 912h5M517 914h4M525 916h15M521 930h4M508 932h4M512 934h5M521 938h4M512 940h5M521 958h4M521 960h4M512 964h9M512 966h5M517 968h4M512 976h5M521 978h8M517 980h4M517 982h4M517 986h4M517 992h8M517 1000h4M517 1002h4M508 1004h4M508 1006h4M517 1008h4M517 1012h4M521 1014h4M525 1016h4M525 1018h4M508 1020h4M517 1022h4M512 1024h5M517 1026h4M512 1032h5M517 1036h4M503 1038h5M521 1044h12M512 1050h9M529 1054h4M521 1056h12M517 1058h4M512 1066h5M517 1068h4M517 1074h4M512 1076h5M521 1078h8M508 1080h4M521 1082h4M521 1084h4M517 1088h8M517 1090h4M517 1092h4M512 1094h13M508 1100h4M512 1104h5M517 1106h4M521 1108h4M517 1110h4M517 1116h26M517 1118h8M517 1120h4M508 1126h9M529 1126h7M521 1128h4M521 1130h4M517 1134h4M521 1136h4M512 1140h5M512 1142h5M512 1144h5M512 1150h5M512 1152h5M508 1154h4M512 1156h5M512 1158h5M517 1162h4M529 1166h11M508 1168h9M512 1174h5M525 1178h4M512 1186h5M517 1192h4M517 1194h4M508 1196h4M517 1200h4M517 1202h8M512 1206h5M517 1210h4M508 1212h4M512 1214h5M512 1216h5M517 1226h4M512 1230h5M508 1232h9M517 1240h8M533 1240h10M508 1244h9M517 1246h4M517 1248h4M512 1254h5M508 1262h4M512 1264h5M512 1268h5M512 1270h5M525 1274h4M521 1276h4M512 1278h5M521 1280h4M512 1282h5M512 1286h5M517 1292h4M512 1296h5M512 1298h5M512 1304h5M512 1308h5M512 1310h5M521 1312h4M508 1318h4M517 1320h8M517 1322h4M512 1324h5M512 1326h5M512 1328h5M521 1330h4M521 1332h4M517 1334h4M508 1336h9M512 1338h5M517 1344h4M517 1346h4M517 1350h4M517 1354h4M512 1358h5M512 1364h5M517 1368h4M517 1370h4M521 1372h4M521 1374h4M512 1376h5M521 1378h4M517 1380h4M517 1382h4M508 1390h4M521 1392h4M508 1394h4M512 1396h9M517 1398h4M521 1412h4M517 1414h4M508 1416h9M521 1418h4M517 1420h4M512 1424h5M517 1426h4M512 1428h5M512 1430h5M512 1432h5M517 1434h4M508 1436h4M517 1442h4M508 1446h4M521 1446h4M517 1452h4M525 1460h4M521 1462h4M517 1464h4M521 1466h4M512 1468h9M521 1472h4M512 1474h5M512 1478h5M512 1482h5M512 1484h5M512 1486h5M512 1488h5M508 1492h4M508 1494h4M517 1502h4M508 1504h4M508 1512h4M521 1518h8M512 1522h5M517 1524h4M521 1528h4M517 1530h4M517 1536h8M517 1538h4M512 1540h5M517 1548h4M512 1550h5M508 1554h9M508 1556h9"/>
<path stroke="#0002ff" d="M517 116h4M517 114h4M521 118h12M521 120h4M517 122h8M525 124h4M517 128h4M517 130h12M517 132h8M529 136h14M508 138h4M521 140h4M517 142h4M533 142h7M521 144h4M517 146h12M521 148h4M529 152h11M533 154h7M529 156h19M525 158h8M525 160h4M512 162h5M521 166h8M517 168h4M521 170h8M543 174h5M536 176h4M521 178h4M533 178h3M517 180h4M517 182h4M517 186h8M536 188h4M508 192h4M517 194h4M517 196h16M517 198h4M529 200h4M517 202h8M525 204h8M529 208h4M533 210h3M525 212h8M521 214h4M525 216h11M525 218h8M525 220h4M533 222h7M525 224h4M512 226h5M521 228h8M508 232h9M517 234h4M517 240h12M517 242h4M521 248h4M521 250h4M517 254h4M521 256h4M533 260h3M525 262h4M525 264h4M525 266h4M540 268h3M521 270h8M521 272h4M529 274h4M521 276h8M521 278h8M517 280h4M517 282h16M521 284h8M525 286h8M508 288h4M517 288h8M536 290h7M525 292h15M540 294h3M521 296h8M521 298h15M533 300h7M525 302h4M521 304h12M536 304h4M521 306h15M521 308h4M517 310h4M521 312h8M525 314h4M508 318h13M512 320h5M521 320h15M529 322h4M517 326h4M521 328h4M525 330h4M521 332h8M517 334h4M517 336h4M533 336h7M536 338h7M521 342h12M525 344h8M521 346h8M525 348h4M543 348h5M529 350h19M525 352h4M512 354h5M508 358h4M517 358h12M536 360h4M525 362h4M517 364h4M529 366h11M521 368h4M533 368h3M525 370h4M517 374h4M521 376h4M529 380h19M508 382h4M521 382h4M521 384h4M517 386h4M525 388h4M521 390h4M517 392h16M533 394h7M521 396h8M517 398h4M517 402h8M525 404h15M536 406h7M517 408h4M525 410h4M533 416h3M540 418h8M521 422h4M521 424h4M529 426h7M517 428h4M521 430h8M521 432h4M512 434h5M512 438h5M521 440h4M529 444h7M521 446h4M521 448h4M521 450h4M525 452h18M529 456h7M525 458h11M536 460h4M533 462h3M525 464h8M517 466h16M525 468h8M533 470h3M525 472h23M525 474h11M517 476h31M525 478h4M529 480h4M521 482h4M521 484h4M529 484h7M529 486h4M521 488h4M536 490h12M525 492h4M521 494h4M517 496h8M529 498h4M525 500h8M521 502h4M517 504h4M525 506h4M529 508h19M529 510h7M517 512h8M521 514h4M517 518h8M521 520h8M525 522h4M533 524h3M521 526h19M533 528h7M543 528h5M525 530h8M521 532h8M540 532h3M529 534h11M517 536h4M525 538h4M540 538h8M517 544h4M508 546h9M521 548h4M517 550h4M521 552h4M521 554h8M521 556h15M521 560h4M521 564h4M525 566h8M521 568h4M525 570h8M517 572h4M517 576h4M521 578h15M525 580h4M525 582h4M529 584h19M517 586h4M525 590h4M533 594h7M529 596h7M540 598h8M529 600h4M543 602h5M529 604h14M521 606h8M517 612h19M529 614h7M540 614h3M536 616h12M529 620h4M521 622h4M521 630h4M525 632h15M517 634h4M533 636h3M508 638h13M521 642h4M512 644h5M521 646h4M525 650h4M525 652h4M536 654h4M533 656h3M521 658h8M525 660h4M525 662h18M525 664h11M508 666h9M533 668h3M529 670h7M533 672h7M525 674h11M512 676h5M512 680h13M521 682h4M543 684h5M529 686h14M533 688h3M521 690h4M521 692h4M529 696h4M521 700h8M525 702h4M512 704h5M517 708h4M521 710h4M517 712h4M517 716h16M521 724h8M521 726h4M517 728h4M517 730h4M521 732h4M525 734h4M517 736h4M517 744h4M517 746h8M521 748h4M517 750h4M521 752h4M521 754h4M525 758h11M517 760h8M512 764h5M529 766h11M529 768h4M517 770h26M525 772h8M529 776h4M525 778h4M521 780h4M536 780h4M525 782h8M521 786h4M517 788h4M529 790h14M529 792h11M543 792h5M533 794h15M521 796h4M521 798h12M525 800h4M533 802h10M529 804h19M533 806h3M521 810h4M521 814h4M517 816h4M517 818h12M533 818h7M517 820h12M540 820h8M525 822h4M529 824h11M525 826h11M525 828h4M533 828h7M529 832h7M525 834h8M521 836h4M521 838h4M529 840h7M525 842h23M521 846h4M521 848h4M517 850h4M517 852h4M517 856h8M529 860h4M517 862h8M517 864h4M525 866h4M517 868h4M517 870h4M517 874h4M521 878h15M533 880h3M517 882h4M512 884h9M512 886h5M517 888h4M517 890h4M536 892h7M525 894h11M529 896h4M525 898h4M525 900h4M529 902h4M529 904h7M536 906h4M529 908h7M525 910h11M521 912h15M525 914h8M525 918h4M533 918h10M517 920h16M521 924h4M521 926h4M517 928h19M533 930h7M512 932h5M517 934h4M521 936h4M529 938h4M517 940h19M517 942h4M512 946h13M521 948h4M525 954h8M529 956h4M543 958h5M533 960h3M517 962h4M525 964h4M521 966h4M521 968h4M508 972h9M517 976h16M536 978h4M533 980h7M525 982h4M529 986h11M517 988h4M521 990h12M533 992h3M512 994h5M521 996h4M521 998h4M533 1000h3M525 1002h8M517 1004h8M517 1006h4M525 1008h4M536 1008h4M521 1010h4M525 1012h15M529 1014h4M533 1016h10M536 1018h7M517 1020h4M525 1022h4M521 1024h22M521 1026h4M525 1028h18M525 1030h4M517 1032h8M521 1036h4M521 1040h4M517 1042h4M533 1044h3M517 1046h4M525 1050h4M525 1052h11M543 1054h5M536 1056h4M521 1058h4M525 1060h11M543 1060h5M517 1062h4M517 1066h4M521 1068h8M508 1070h4M517 1070h4M521 1074h4M517 1076h4M533 1078h7M517 1080h19M533 1082h7M533 1084h3M529 1088h7M533 1090h3M525 1092h4M529 1094h4M521 1098h4M517 1100h4M521 1102h4M525 1106h4M529 1108h14M529 1110h7M543 1110h5M521 1112h8M517 1114h4M529 1118h4M543 1118h5M521 1120h4M508 1122h4M517 1122h4M540 1126h3M529 1128h4M543 1128h5M529 1130h4M521 1132h4M533 1132h10M521 1134h8M525 1136h4M517 1138h8M517 1140h19M521 1142h4M521 1144h4M517 1148h12M521 1150h4M517 1152h4M512 1154h5M521 1156h8M517 1158h4M517 1160h4M521 1162h4M508 1164h4M529 1164h4M525 1168h11M521 1170h8M525 1172h4M521 1174h4M521 1176h4M533 1178h3M512 1180h5M512 1184h5M517 1186h8M521 1190h4M521 1192h8M521 1194h8M517 1196h4M521 1200h4M536 1202h12M521 1204h4M517 1208h4M517 1212h8M533 1214h7M521 1216h8M521 1220h4M521 1222h4M512 1224h5M529 1226h4M517 1228h4M529 1228h7M525 1230h4M525 1232h23M521 1234h4M525 1236h4M521 1238h15M521 1242h4M529 1244h4M525 1246h4M521 1248h4M517 1250h4M525 1250h11M517 1254h4M517 1258h23M517 1260h4M512 1262h5M517 1264h8M508 1266h4M517 1268h4M517 1270h8M533 1274h10M529 1276h11M529 1280h7M517 1282h4M525 1292h18M521 1294h8M529 1296h14M521 1298h4M525 1302h4M517 1304h8M529 1304h11M508 1306h4M517 1306h8M517 1310h4M529 1312h4M536 1314h4M525 1316h4M536 1316h4M512 1318h5M536 1320h7M521 1322h8M517 1324h8M521 1326h8M521 1328h8M540 1330h8M529 1332h4M543 1332h5M525 1334h4M533 1336h7M521 1338h8M525 1340h4M508 1342h4M525 1344h11M540 1344h3M529 1346h11M525 1348h4M525 1350h8M525 1352h4M529 1354h4M517 1364h16M512 1366h5M521 1368h4M525 1370h15M529 1372h19M533 1374h3M517 1376h4M529 1378h4M525 1380h18M525 1382h4M521 1384h8M517 1386h12M529 1388h7M517 1390h4M529 1390h7M529 1392h7M521 1394h12M525 1396h8M525 1398h4M517 1400h12M508 1402h4M508 1404h9M512 1406h9M512 1408h5M525 1412h4M525 1414h4M533 1416h7M529 1418h7M521 1422h8M517 1424h4M529 1424h4M529 1426h4M508 1432h4M521 1432h4M521 1434h4M512 1436h5M525 1438h11M529 1440h4M525 1442h23M525 1446h4M521 1448h4M521 1450h8M540 1450h3M521 1452h4M521 1454h4M517 1456h8M521 1458h4M533 1458h3M533 1460h3M536 1462h7M536 1464h7M525 1466h8M533 1468h7M508 1470h4M517 1470h4M543 1470h5M533 1472h7M521 1474h4M521 1478h4M512 1480h5M521 1482h4M517 1488h12M533 1490h3M512 1492h5M521 1492h8M521 1496h12M543 1496h5M517 1498h4M521 1500h4M525 1502h8M517 1506h4M521 1508h12M521 1510h4M517 1512h12M508 1514h9M521 1516h15M536 1518h4M525 1520h4M517 1522h12M533 1522h3M525 1524h8M525 1526h15M529 1528h14M529 1530h4M512 1534h21M536 1536h4M521 1538h4M525 1542h18M525 1544h4M521 1548h8M517 1550h4M508 1552h4M525 1552h11M525 1554h4M525 1556h4"/>
<path stroke="#0000f1" d="M521 116h8M521 114h8M533 118h15M525 120h4M525 122h4M529 124h7M521 126h4M521 128h4M529 130h11M525 132h11M517 134h16M543 136h5M543 138h5M525 140h4M540 142h3M525 144h4M529 146h7M540 146h8M525 148h15M521 150h8M536 150h7M540 152h8M540 154h8M533 158h7M517 164h8M529 164h7M529 166h7M521 168h15M529 170h4M540 176h3M517 178h4M536 178h7M521 180h4M521 182h4M517 184h4M525 186h8M540 188h3M521 190h22M512 192h5M533 192h3M521 194h4M536 194h4M533 196h3M521 198h4M533 198h7M533 200h10M525 202h8M533 204h3M521 206h4M533 206h10M533 208h7M536 210h4M533 212h10M525 214h4M536 216h7M533 218h10M529 220h14M540 222h8M529 224h4M517 226h16M529 228h19M517 230h8M521 232h15M521 234h4M525 236h15M517 238h16M529 240h4M521 242h12M521 244h4M521 246h8M525 248h8M525 250h4M517 252h26M521 254h4M525 256h4M517 258h4M508 260h4M536 260h4M529 262h14M529 264h4M529 266h19M543 268h5M529 270h4M525 272h4M533 274h3M529 276h14M529 278h11M521 280h4M533 282h7M529 284h7M533 286h7M525 288h8M543 290h5M540 292h8M543 294h5M529 296h19M536 298h7M540 300h8M517 304h4M540 304h3M536 306h4M525 308h4M521 310h8M529 312h7M529 314h11M517 316h8M521 318h8M517 320h4M533 322h15M525 324h4M521 326h4M525 328h4M529 330h11M529 332h19M521 334h19M540 336h8M543 338h5M529 340h4M543 340h5M533 342h15M533 344h3M529 346h11M529 348h14M529 352h7M517 354h8M512 356h5M529 358h14M540 360h8M529 362h4M521 364h8M533 364h15M540 366h3M536 368h7M529 370h7M517 372h4M521 374h4M525 376h4M517 378h4M525 382h4M525 384h4M521 386h4M529 388h7M533 392h3M540 394h8M529 396h4M521 398h8M525 402h11M543 406h5M521 408h8M540 408h3M529 410h7M517 412h4M521 414h4M536 416h12M521 420h4M525 422h23M525 424h8M536 426h4M521 428h12M529 430h14M525 432h4M521 434h15M521 436h4M517 438h16M525 440h4M521 442h4M536 442h12M536 444h12M525 446h15M525 448h4M525 450h4M533 450h10M543 452h5M525 454h23M536 456h4M536 458h12M540 460h8M536 462h12M533 464h10M533 466h3M533 468h7M536 474h7M508 476h4M529 478h4M543 478h5M533 480h3M525 482h4M525 484h4M536 484h7M533 486h15M525 488h4M529 492h4M525 494h4M525 496h8M533 498h3M533 500h3M525 502h4M521 504h15M529 506h14M536 510h4M525 512h11M525 514h4M521 516h4M525 518h4M529 520h7M529 522h11M536 524h4M540 526h3M540 528h3M533 530h15M517 532h4M543 532h5M540 534h3M521 536h19M529 538h11M521 540h4M517 542h4M521 544h4M521 546h15M525 548h4M521 550h8M540 550h3M525 552h11M529 554h4M536 556h7M525 562h23M525 564h4M533 566h7M525 568h4M533 570h10M521 572h4M521 574h4M521 576h4M536 578h4M529 580h11M529 582h11M521 586h8M521 588h4M529 590h7M517 592h12M536 596h4M533 600h15M543 604h5M529 606h14M517 608h16M521 610h4M536 612h4M543 614h5M521 618h15M533 620h3M540 620h8M525 622h11M517 624h19M517 626h8M517 628h4M525 630h4M536 630h12M521 634h4M529 634h14M536 636h4M521 640h4M525 642h8M517 644h31M525 646h8M517 648h8M529 650h4M529 652h4M540 654h3M536 656h7M529 658h19M529 660h4M543 662h5M536 664h12M517 666h4M536 668h7M536 670h12M536 674h12M517 676h12M521 678h4M525 680h4M525 682h8M543 686h5M536 688h12M525 690h8M525 692h4M517 694h4M533 696h3M540 696h3M521 698h4M529 700h14M529 702h4M517 704h8M521 706h8M521 708h8M525 710h11M521 712h4M521 714h4M533 716h7M525 718h4M517 720h8M512 722h5M521 722h4M529 724h7M525 726h11M521 728h19M521 730h4M525 732h4M529 734h4M512 738h5M521 744h15M525 746h23M525 748h23M521 750h4M525 752h4M525 754h15M517 756h4M536 758h12M525 760h18M521 762h8M540 766h3M533 768h7M543 770h5M533 772h7M517 774h26M533 776h10M529 778h4M525 780h11M540 780h3M533 782h7M517 784h8M525 786h4M521 788h12M543 790h5M525 796h23M533 798h7M529 800h4M543 802h5M536 806h12M525 810h4M536 810h7M521 812h4M512 814h9M525 814h4M521 816h8M529 818h4M540 818h3M529 820h11M529 822h19M540 824h3M536 826h4M529 828h4M525 830h4M536 830h12M536 832h7M533 834h3M525 836h4M525 838h8M543 838h5M536 840h7M517 844h12M525 846h4M525 848h8M521 850h12M525 856h8M533 860h15M525 862h11M521 864h15M529 866h14M521 868h22M521 870h8M521 872h4M521 874h4M517 876h8M536 878h12M536 880h4M521 882h4M508 884h4M521 884h8M521 888h4M521 890h4M543 892h5M536 894h7M533 896h7M529 898h7M529 900h4M533 902h3M536 904h4M540 906h3M536 910h7M536 912h4M533 914h3M543 918h5M533 920h15M517 922h4M525 924h4M525 926h4M536 928h4M540 930h3M521 934h4M525 936h8M533 938h10M536 940h7M521 942h4M517 944h19M525 946h8M525 948h4M521 950h4M517 952h8M533 954h7M533 956h15M536 960h4M521 962h4M529 964h11M525 966h23M525 968h8M521 970h8M529 974h4M533 976h7M540 978h3M540 980h8M529 982h7M540 982h8M521 984h4M540 986h3M521 988h4M536 988h4M533 990h7M536 992h4M525 996h11M525 998h23M536 1000h4M533 1002h10M525 1004h18M521 1006h4M529 1008h7M540 1008h8M525 1010h11M540 1012h8M533 1014h7M543 1016h5M543 1018h5M521 1020h8M529 1022h4M543 1024h5M525 1026h4M543 1028h5M529 1030h4M525 1032h8M517 1034h19M525 1036h4M533 1036h15M512 1038h5M521 1038h8M525 1040h4M521 1042h4M536 1044h4M521 1046h4M521 1048h4M529 1050h11M536 1052h12M540 1056h8M525 1058h4M521 1062h4M517 1064h4M529 1068h4M521 1070h22M517 1072h4M525 1074h8M521 1076h8M540 1078h3M536 1080h7M540 1082h8M536 1084h7M529 1086h11M536 1088h12M536 1090h7M529 1092h11M533 1094h7M517 1096h16M525 1098h4M521 1100h15M525 1102h8M517 1104h31M529 1106h4M543 1108h5M536 1110h7M529 1112h4M521 1114h19M525 1120h4M521 1122h4M517 1124h8M529 1124h11M533 1128h10M533 1130h15M525 1132h8M543 1132h5M529 1134h11M529 1136h4M525 1138h8M536 1140h4M525 1142h4M525 1144h4M543 1144h5M508 1146h4M529 1148h4M525 1150h4M521 1152h8M521 1154h4M529 1156h4M521 1158h4M521 1160h4M525 1162h4M517 1164h12M533 1164h7M543 1166h5M536 1168h4M529 1170h7M529 1172h11M525 1174h15M525 1176h8M536 1178h4M517 1180h12M517 1182h4M525 1186h15M521 1188h4M525 1190h4M529 1192h4M529 1194h11M521 1196h4M517 1198h4M525 1200h23M525 1204h15M543 1204h5M517 1206h4M521 1208h4M521 1210h4M525 1212h4M540 1214h8M529 1216h4M508 1218h17M525 1220h15M525 1222h4M543 1222h5M508 1224h4M517 1224h19M543 1224h5M533 1226h7M521 1228h8M536 1228h4M529 1230h19M529 1236h4M536 1238h7M525 1242h4M533 1244h3M543 1244h5M529 1246h11M525 1248h8M521 1250h4M517 1252h8M521 1254h4M521 1256h4M540 1258h8M521 1260h15M521 1262h4M525 1264h4M517 1266h4M521 1268h19M525 1270h4M521 1272h27M540 1276h3M517 1278h26M536 1280h12M521 1282h4M525 1284h4M533 1284h10M517 1286h4M517 1290h19M543 1292h5M529 1294h11M543 1296h5M525 1298h15M525 1300h23M529 1302h19M525 1304h4M540 1304h8M525 1306h15M521 1308h8M521 1310h4M533 1312h3M543 1312h5M540 1314h8M517 1318h4M543 1320h5M529 1322h14M525 1324h15M529 1326h7M529 1328h4M533 1332h10M529 1334h4M521 1336h12M540 1336h8M529 1338h4M529 1340h14M512 1342h5M543 1344h5M540 1346h8M529 1348h4M533 1350h7M529 1352h19M533 1354h7M517 1356h4M521 1358h4M521 1360h4M512 1362h17M533 1364h3M508 1366h4M517 1366h8M525 1368h4M536 1368h7M540 1370h8M536 1374h4M521 1376h4M533 1378h7M543 1380h5M529 1382h7M540 1382h8M529 1384h7M543 1384h5M529 1386h4M536 1388h12M521 1390h8M536 1390h7M536 1392h7M533 1394h3M533 1396h15M529 1398h4M529 1400h4M512 1402h5M529 1404h7M521 1406h8M521 1410h8M529 1412h4M529 1414h7M540 1416h8M536 1418h12M525 1420h4M529 1422h19M521 1424h8M533 1424h15M533 1426h15M521 1428h4M517 1430h4M525 1432h4M525 1434h8M517 1436h8M536 1438h4M533 1440h3M525 1444h18M529 1446h19M525 1448h18M543 1450h5M525 1452h18M525 1454h4M525 1456h11M525 1458h8M536 1458h12M536 1460h4M543 1462h5M543 1464h5M533 1466h15M540 1468h8M540 1472h8M525 1474h4M517 1476h8M525 1478h4M517 1480h4M517 1484h8M529 1484h11M521 1486h8M529 1488h7M536 1490h7M517 1492h4M529 1492h11M517 1494h12M521 1498h4M533 1502h3M517 1504h8M529 1504h11M521 1506h4M529 1506h7M533 1508h7M525 1510h18M529 1512h7M517 1514h4M536 1516h4M529 1520h19M536 1522h7M540 1526h8M543 1528h5M533 1530h3M533 1534h3M540 1536h8M525 1538h23M517 1540h4M536 1540h7M543 1542h5M529 1544h4M521 1546h4M529 1548h14M536 1552h4M529 1554h19M529 1556h19"/>
<path stroke="#0000e1" d="M529 116h4M529 114h4M529 120h7M529 122h4M536 124h12M525 126h15M525 128h4M540 130h8M536 132h7M533 134h7M529 140h4M543 142h5M529 144h19M536 146h4M540 148h8M529 150h7M543 150h5M540 158h8M529 160h4M540 160h3M529 162h7M525 164h4M536 164h4M536 166h7M536 168h7M533 170h10M543 176h5M543 178h5M525 180h23M525 182h15M521 184h4M533 186h15M543 188h5M543 190h5M521 192h12M536 192h7M525 194h11M540 194h8M536 196h7M525 198h8M540 198h8M543 200h5M533 202h3M536 204h7M525 206h8M543 206h5M540 208h8M540 210h8M543 212h5M529 214h19M543 216h5M543 218h5M543 220h5M533 224h15M533 226h15M525 230h4M543 230h5M517 232h4M536 232h4M540 236h3M533 238h15M533 240h7M533 242h15M525 244h18M529 246h7M533 248h15M529 250h7M543 252h5M525 254h8M529 256h11M521 258h4M540 260h8M543 262h5M533 264h15M533 270h3M543 270h5M529 272h4M536 274h4M543 276h5M540 278h3M525 280h11M540 282h8M536 284h4M540 286h8M533 288h7M543 298h5M529 302h19M543 304h5M540 306h3M529 308h4M529 310h19M536 312h4M540 314h8M525 316h23M529 318h4M536 320h4M529 324h4M525 326h4M529 328h4M540 330h8M540 334h3M533 340h10M536 344h7M540 346h8M536 352h12M525 354h23M521 356h15M543 358h5M533 362h15M529 364h4M543 366h5M543 368h5M536 370h12M521 372h12M525 374h4M536 374h4M529 376h14M521 378h8M529 382h19M529 384h7M540 384h8M525 386h8M536 388h12M525 390h23M536 392h12M533 396h3M529 398h14M517 400h4M536 402h4M529 408h11M543 408h5M536 410h7M521 412h4M529 412h7M525 414h4M525 420h4M536 420h4M533 424h15M540 426h8M533 428h7M543 430h5M529 432h7M517 434h4M536 434h7M525 436h4M533 438h3M529 440h14M525 442h11M540 446h3M529 448h7M540 448h3M529 450h4M543 450h5M540 456h8M543 464h5M536 466h7M540 468h8M536 470h4M543 474h5M533 478h10M536 480h4M543 480h5M529 482h11M543 484h5M529 488h7M533 492h15M529 494h11M533 496h3M536 498h7M536 500h12M529 502h11M536 504h12M543 506h5M540 510h3M536 512h4M529 514h4M540 514h8M529 518h4M536 520h12M540 522h8M540 524h8M543 526h5M543 534h5M540 536h8M521 542h8M525 544h15M517 546h4M536 546h4M529 548h4M529 550h11M543 550h5M536 552h12M533 554h15M543 556h5M517 558h4M525 560h4M529 564h7M540 566h8M529 568h4M543 570h5M525 572h8M525 576h4M540 578h8M540 580h8M529 586h7M525 588h15M536 590h4M529 592h19M540 596h8M543 606h5M533 608h3M525 610h18M540 612h3M536 618h4M536 620h4M536 622h7M536 624h4M525 626h18M521 628h8M529 630h7M525 634h4M543 634h5M540 636h8M521 638h4M525 640h11M533 642h3M533 646h7M525 648h11M533 650h7M533 652h7M543 654h5M543 656h5M533 660h15M521 666h15M543 668h5M529 676h4M525 678h23M529 680h7M533 682h10M533 690h7M529 692h7M543 692h5M521 694h8M536 696h4M543 696h5M525 698h8M543 700h5M533 702h15M525 704h4M529 706h7M529 708h11M536 710h12M525 712h4M525 714h8M540 716h8M529 718h7M543 718h5M525 720h4M517 722h4M525 722h11M540 722h8M536 724h7M536 726h4M540 728h3M525 730h4M536 730h12M529 732h7M533 734h15M521 736h4M517 738h8M517 740h8M517 742h8M536 744h7M525 750h4M529 752h4M543 752h5M540 754h3M521 756h4M543 760h5M529 762h19M517 764h8M543 766h5M540 768h8M540 772h8M543 774h5M543 776h5M533 778h3M543 780h5M540 782h8M525 784h23M529 786h19M533 788h7M540 798h8M533 800h15M529 810h7M525 812h15M508 814h4M529 814h4M529 816h7M543 818h5M543 824h5M540 826h8M529 830h7M543 832h5M536 834h7M529 836h19M533 838h10M543 840h5M529 844h7M543 844h5M529 846h7M533 848h15M533 850h7M521 852h4M517 854h8M533 856h7M536 862h12M536 864h7M543 866h5M543 868h5M529 870h4M525 872h11M525 874h4M525 876h11M540 880h8M525 882h4M529 884h11M508 886h4M517 886h31M525 890h11M543 894h5M540 896h8M536 898h12M533 900h10M536 902h7M540 904h8M543 906h5M543 910h5M540 912h3M536 914h12M521 922h4M529 924h4M543 924h5M529 926h4M540 928h3M543 930h5M517 932h8M525 934h23M533 936h7M543 938h5M543 940h5M525 942h11M536 944h7M533 946h3M529 948h14M543 950h5M525 952h8M543 952h5M540 954h3M540 960h3M525 962h4M540 964h8M533 968h10M529 970h4M517 972h16M533 974h15M540 976h3M543 978h5M536 982h4M525 984h11M543 986h5M525 988h11M540 988h8M540 990h3M540 992h8M517 994h8M529 994h19M536 996h4M543 996h5M540 1000h8M543 1002h5M543 1004h5M525 1006h18M536 1010h12M540 1014h8M529 1020h4M533 1022h10M529 1026h19M533 1030h15M533 1032h10M536 1034h12M529 1036h4M517 1038h4M529 1038h4M529 1040h4M525 1042h15M540 1044h8M525 1046h11M525 1048h23M540 1050h3M529 1058h19M525 1062h8M536 1062h12M521 1064h4M521 1066h4M533 1068h7M543 1070h5M521 1072h4M533 1072h7M533 1074h3M529 1076h4M543 1076h5M543 1078h5M543 1080h5M543 1084h5M517 1086h12M540 1086h3M543 1090h5M540 1092h8M540 1094h8M533 1096h3M529 1098h7M536 1100h4M533 1102h3M533 1106h15M533 1112h7M540 1114h8M529 1120h19M525 1122h18M525 1124h4M540 1124h3M543 1126h5M540 1134h8M533 1136h15M533 1138h7M540 1140h8M529 1142h4M529 1144h14M512 1146h5M533 1148h3M529 1150h4M536 1150h12M529 1152h7M517 1154h4M525 1154h15M533 1156h3M525 1158h18M525 1160h8M540 1160h8M529 1162h11M540 1164h8M540 1168h8M536 1170h12M540 1172h8M540 1174h3M533 1176h10M540 1178h8M529 1180h4M521 1182h19M540 1186h8M525 1188h15M529 1190h19M533 1192h3M540 1194h8M525 1196h18M521 1198h4M540 1204h3M521 1206h8M525 1208h8M525 1210h15M529 1212h4M533 1216h15M525 1218h4M540 1220h3M529 1222h14M536 1224h7M540 1226h8M540 1228h3M525 1234h8M533 1236h15M543 1238h5M529 1242h7M536 1244h7M540 1246h8M533 1248h15M536 1250h4M525 1252h11M525 1254h18M525 1256h4M533 1256h15M536 1260h7M517 1262h4M525 1262h4M529 1264h4M521 1266h4M540 1268h3M529 1270h4M517 1272h4M543 1276h5M543 1278h5M525 1282h4M529 1284h4M543 1284h5M521 1286h4M536 1290h7M540 1294h8M540 1298h8M540 1306h3M529 1308h11M525 1310h4M536 1312h7M540 1316h8M521 1318h8M543 1322h5M540 1324h8M536 1326h12M533 1328h3M533 1334h15M533 1338h15M543 1340h5M517 1342h16M533 1348h7M540 1350h8M540 1354h3M521 1356h4M525 1358h4M525 1360h4M540 1360h8M529 1362h4M536 1364h7M525 1366h23M529 1368h7M543 1368h5M540 1374h8M525 1376h4M540 1378h8M536 1382h4M536 1384h7M533 1386h15M543 1390h5M543 1392h5M536 1394h4M533 1398h15M533 1400h3M517 1402h12M517 1404h12M536 1404h7M529 1406h4M517 1408h19M529 1410h4M533 1412h3M536 1414h12M529 1420h4M536 1420h12M525 1428h8M521 1430h8M529 1432h19M533 1434h15M525 1436h18M540 1438h3M536 1440h12M543 1448h5M543 1452h5M529 1454h19M536 1456h12M540 1460h8M529 1474h19M525 1476h8M529 1478h7M521 1480h4M525 1482h23M525 1484h4M540 1484h3M529 1486h4M536 1488h12M543 1490h5M540 1492h3M529 1494h14M525 1500h8M536 1502h12M525 1504h4M540 1504h8M525 1506h4M536 1506h4M540 1508h8M543 1510h5M536 1512h7M521 1514h4M536 1514h7M540 1516h8M540 1518h8M543 1522h5M533 1524h15M512 1532h5M536 1534h7M521 1540h15M543 1540h5M533 1544h3M525 1546h23M543 1548h5M521 1550h12M540 1552h3"/>
<path stroke="#0000d0" d="M533 116h3M533 114h3M536 120h12M533 122h15M540 126h3M529 128h19M543 132h5M540 134h8M533 140h10M533 160h7M543 160h5M517 162h12M536 162h4M540 164h8M543 166h5M543 168h5M543 170h5M540 182h3M525 184h11M517 192h4M543 192h5M543 196h5M536 202h12M543 204h5M529 230h14M540 232h8M525 234h23M543 236h5M540 240h8M543 244h5M536 246h12M536 250h12M533 254h15M540 256h3M525 258h23M536 270h7M533 272h15M540 274h8M543 278h5M536 280h7M540 284h8M540 288h8M543 306h5M533 308h15M540 312h3M533 318h3M508 320h4M540 320h8M533 324h15M529 326h4M533 328h15M543 334h5M543 344h5M508 356h4M517 356h4M536 356h12M533 372h7M529 374h7M540 374h3M543 376h5M529 378h11M536 384h4M533 386h10M536 396h4M543 398h5M521 400h8M540 402h3M543 410h5M525 412h4M536 412h4M529 414h7M529 420h7M540 420h8M540 428h3M536 432h12M543 434h5M529 436h19M536 438h12M543 440h5M543 446h5M536 448h4M543 448h5M543 466h5M540 470h8M540 480h3M540 482h3M536 488h7M540 494h8M536 496h7M543 498h5M540 502h8M543 510h5M540 512h8M533 514h7M525 516h4M533 518h15M525 540h18M529 542h19M540 544h8M540 546h3M533 548h10M521 558h15M529 560h11M536 564h12M533 568h15M533 572h15M525 574h23M529 576h7M540 582h8M536 586h12M540 588h3M540 590h8M536 608h7M543 610h5M543 612h5M540 618h8M543 622h5M540 624h8M543 626h5M529 628h4M525 638h4M536 640h12M536 642h12M540 646h8M536 648h12M540 650h8M540 652h8M536 666h12M533 676h3M540 676h8M536 680h7M543 682h5M540 690h8M536 692h7M529 694h14M533 698h7M529 704h19M536 706h7M540 708h3M529 712h14M533 714h15M536 718h7M529 720h19M508 722h4M536 722h4M543 724h5M540 726h8M543 728h5M529 730h7M536 732h12M525 738h4M525 740h15M525 742h15M543 744h5M529 750h14M533 752h3M540 752h3M543 754h5M525 756h23M525 764h23M536 778h12M540 788h8M543 810h5M540 812h3M533 814h7M536 816h7M543 834h5M536 844h7M536 846h12M540 850h8M525 852h18M525 854h15M540 856h8M543 864h5M533 870h7M536 872h12M529 874h19M536 876h12M529 882h11M540 884h3M525 888h4M536 890h4M543 900h5M543 902h5M543 912h5M525 922h23M533 924h10M533 926h3M543 928h5M525 932h11M540 936h3M536 942h12M543 944h5M536 946h7M543 948h5M525 950h18M533 952h10M543 954h5M543 960h5M529 962h11M543 968h5M533 970h15M533 972h15M543 976h5M536 984h4M543 990h5M525 994h4M540 996h3M543 1006h5M533 1020h7M543 1022h5M543 1032h5M508 1038h4M533 1038h15M533 1040h15M540 1042h3M536 1046h7M543 1050h5M533 1062h3M525 1064h11M525 1066h4M540 1068h8M525 1072h8M540 1072h3M536 1074h12M533 1076h10M543 1086h5M536 1096h7M536 1098h12M540 1100h8M536 1102h7M540 1112h8M543 1122h5M543 1124h5M540 1138h8M533 1142h15M521 1146h19M536 1148h7M533 1150h3M536 1152h4M540 1154h8M536 1156h12M543 1158h5M533 1160h7M540 1162h8M543 1174h5M543 1176h5M533 1180h15M517 1184h8M536 1184h7M540 1188h8M536 1192h12M543 1196h5M525 1198h4M540 1198h8M529 1206h4M540 1206h3M533 1208h3M540 1210h3M533 1212h7M529 1218h19M543 1220h5M543 1228h5M533 1234h10M536 1242h12M540 1250h8M536 1252h12M543 1254h5M529 1256h4M543 1260h5M529 1262h19M533 1264h15M525 1266h23M533 1270h15M529 1282h19M525 1286h4M517 1288h8M536 1288h4M543 1290h5M543 1306h5M540 1308h3M529 1310h19M529 1318h4M543 1318h5M536 1328h12M533 1342h3M540 1348h8M543 1354h5M525 1356h23M529 1358h7M529 1360h11M508 1362h4M533 1362h15M543 1364h5M529 1376h11M540 1394h3M536 1400h12M529 1402h7M543 1404h5M533 1406h3M536 1408h7M533 1410h3M536 1412h12M533 1420h3M533 1428h10M529 1430h11M543 1436h5M543 1438h5M543 1444h5M533 1476h15M536 1478h12M525 1480h4M543 1484h5M533 1486h7M543 1486h5M543 1492h5M543 1494h5M525 1498h23M533 1500h10M540 1506h3M543 1512h5M525 1514h11M543 1514h5M536 1530h12M521 1532h8M508 1534h4M543 1534h5M536 1544h12M533 1550h3M543 1552h5"/>
<path stroke="#0000c0" d="M536 116h12M536 114h12M543 126h5M543 140h5M540 162h8M543 182h5M536 184h7M543 256h5M543 280h5M543 312h5M536 318h12M533 326h15M540 372h8M543 374h5M540 378h8M543 386h5M540 396h8M529 400h14M543 402h5M540 412h8M536 414h12M543 428h5M543 482h5M543 488h5M543 496h5M529 516h19M543 540h5M543 546h5M543 548h5M536 558h4M540 560h8M536 576h12M543 588h5M543 608h5M533 628h3M529 638h14M536 676h4M543 680h5M543 694h5M540 698h8M543 706h5M543 708h5M543 712h5M525 736h4M540 736h8M529 738h7M540 738h3M540 740h8M540 742h8M543 750h5M536 752h4M543 812h5M540 814h8M543 816h5M543 852h5M540 854h8M540 870h8M540 882h3M543 884h5M529 888h14M540 890h8M536 926h12M536 932h12M543 936h5M543 946h5M540 962h8M540 984h3M540 1020h8M543 1042h5M543 1046h5M536 1064h12M529 1066h19M543 1072h5M543 1096h5M543 1102h5M517 1146h4M540 1146h8M543 1148h5M540 1152h3M540 1182h8M525 1184h11M529 1198h11M533 1206h7M543 1206h5M536 1208h12M543 1210h5M540 1212h8M543 1234h5M543 1268h5M529 1286h19M525 1288h11M540 1288h8M543 1308h5M533 1318h10M536 1342h7M536 1358h12M540 1376h8M543 1394h5M536 1402h12M536 1406h7M543 1408h5M536 1410h12M543 1428h5M540 1430h3M529 1480h19M540 1486h3M543 1500h5M543 1506h5M517 1532h4M529 1532h4M536 1550h12"/>
<path stroke="#88ff77" d="M151 118h78M447 124h8M462 124h7M274 126h33M455 128h7M462 132h7M455 136h7M455 162h7M447 164h8M447 168h8M51 172h100M447 172h8M462 174h19M151 178h78M462 178h7M462 182h7M447 184h8M151 188h78M229 194h45M455 196h20M274 198h33M462 204h7M455 206h7M462 208h7M151 210h78M462 210h7M151 212h78M151 214h78M455 214h7M151 220h78M151 222h78M447 232h8M274 236h33M151 238h123M462 242h7M151 248h78M151 252h123M462 252h7M151 262h78M447 262h8M229 266h45M51 268h100M274 280h33M229 282h45M447 284h8M439 290h8M447 296h8M151 298h78M455 302h7M455 306h7M462 312h7M151 314h78M151 322h78M151 332h78M462 338h7M151 340h78M274 352h33M455 354h7M229 368h45M274 372h33M447 388h8M455 398h7M469 404h6M151 408h78M274 412h33M455 416h7M151 422h78M447 424h8M229 444h45M151 446h78M455 450h7M151 456h123M51 458h100M469 462h6M151 466h78M462 468h7M447 470h8M462 480h7M455 496h7M455 504h7M439 512h8M462 512h7M151 524h78M447 530h8M151 536h78M447 538h8M274 544h33M447 558h8M455 560h7M51 562h100M229 568h45M455 568h7M447 572h8M229 574h45M51 580h100M439 588h8M229 590h45M151 592h78M455 596h7M229 608h45M151 626h78M51 630h100M151 634h78M151 636h78M447 636h8M229 640h45M447 646h8M455 652h7M447 654h8M51 658h100M447 658h8M455 670h7M439 678h8M229 682h45M462 694h7M229 700h45M151 708h78M51 720h100M447 724h8M151 728h123M447 740h8M229 754h45M151 756h78M51 766h100M51 780h100M151 788h78M447 790h8M455 796h7M151 798h123M447 806h8M439 814h8M51 816h100M51 818h100M455 826h7M151 834h78M447 834h8M455 836h7M51 848h100M229 862h45M455 862h7M229 864h45M447 864h8M439 868h8M151 872h78M455 872h7M151 876h123M51 880h100M447 900h15M51 906h100M462 908h7M51 910h100M51 920h100M447 920h8M151 922h123M51 924h100M229 924h45M447 924h8M447 932h8M229 936h45M455 942h7M229 944h45M151 946h78M51 948h100M439 962h8M51 968h100M455 982h7M455 984h7M439 986h8M51 992h100M447 1004h8M455 1010h7M455 1016h7M51 1030h100M462 1036h7M51 1046h178M447 1046h8M51 1062h100M462 1070h7M51 1072h178M51 1076h100M455 1080h7M447 1086h8M51 1096h100M455 1096h7M447 1098h8M455 1110h7M447 1120h8M447 1122h8M447 1124h8M455 1126h7M455 1132h7M229 1146h45M447 1150h15M469 1166h6M455 1172h7M462 1186h7M447 1192h8M447 1200h8M229 1208h45M447 1220h8M447 1236h8M447 1242h15M447 1248h8M51 1252h100M455 1260h7M51 1268h100M447 1272h8M439 1300h8M447 1306h8M469 1316h6M481 1316h6M447 1318h8M447 1328h8M439 1352h8M455 1356h7M447 1364h8M447 1370h8M447 1374h8M447 1378h8M447 1380h22M455 1384h7M455 1392h7M462 1402h7M455 1412h7M455 1426h7M447 1440h8M455 1442h14M447 1454h8M455 1466h7M447 1478h8M447 1486h8M447 1488h8M447 1502h8M51 1506h100M447 1508h8M455 1510h7M455 1516h7M447 1522h8M455 1540h7M51 1550h100"/>
<path stroke="#d9ff26" d="M274 118h33M439 124h8M439 130h16M151 136h78M447 138h8M447 140h8M274 150h33M455 152h7M455 154h7M229 156h45M274 164h33M455 164h7M151 172h78M447 176h8M455 184h7M455 192h7M274 196h33M455 198h7M274 222h33M455 234h7M447 248h8M274 262h33M229 268h45M439 272h8M455 276h7M447 282h15M455 288h7M447 298h8M229 300h45M439 300h8M274 302h33M455 304h7M447 308h8M274 316h33M274 324h33M439 328h8M439 330h8M439 332h16M439 336h16M229 348h45M439 354h8M430 356h17M274 358h33M439 358h8M439 362h8M274 366h33M151 380h78M447 380h8M439 402h8M229 404h45M274 414h33M274 432h33M455 446h7M439 448h8M274 450h33M439 450h8M151 452h123M229 460h45M455 468h7M447 480h8M274 484h33M274 494h33M455 494h7M439 496h8M229 510h45M447 520h8M439 522h8M439 526h8M229 528h45M439 528h8M151 530h78M151 532h123M439 540h16M447 542h8M439 548h8M229 552h45M447 552h8M274 564h33M229 566h78M439 572h8M274 576h33M229 582h45M439 582h8M447 590h8M439 596h8M229 600h45M447 604h8M51 614h100M229 616h45M455 632h7M439 644h8M455 654h7M447 662h15M447 666h8M151 668h78M447 668h8M447 670h8M455 684h7M151 702h78M439 704h8M274 714h33M439 716h8M151 720h78M430 720h9M151 724h78M229 726h45M447 734h8M274 744h33M447 744h8M51 746h223M439 752h8M151 760h78M455 764h7M229 770h45M447 770h8M229 772h45M229 774h45M447 778h8M51 792h100M447 792h8M447 804h8M439 816h8M151 818h123M51 822h100M51 824h100M151 836h78M439 840h8M439 850h8M151 856h78M51 858h100M447 874h8M151 880h78M455 884h7M439 888h8M151 900h78M229 912h45M455 912h7M447 916h15M51 918h100M447 938h8M439 950h8M439 952h8M439 956h16M439 970h8M447 984h8M51 986h100M447 988h8M51 1002h100M455 1004h7M151 1010h78M51 1014h100M51 1024h100M51 1056h100M51 1058h100M229 1058h45M439 1072h8M51 1080h100M151 1086h78M51 1092h100M151 1096h78M439 1096h8M151 1100h123M151 1104h78M447 1106h8M51 1112h100M229 1122h45M439 1142h8M151 1148h78M439 1148h8M51 1154h100M229 1156h45M151 1158h78M439 1170h8M151 1174h123M51 1186h100M151 1198h78M51 1200h100M51 1204h100M447 1212h8M430 1218h9M439 1222h8M439 1250h8M455 1250h7M447 1260h8M51 1262h100M439 1266h8M447 1270h8M447 1274h8M229 1288h45M447 1304h8M439 1306h8M51 1318h100M151 1342h78M439 1356h8M447 1362h8M51 1368h100M51 1370h100M229 1376h45M439 1394h8M439 1396h8M447 1400h15M439 1408h8M455 1408h7M151 1410h78M430 1410h9M439 1412h8M51 1428h100M439 1432h8M439 1438h8M447 1444h8M439 1458h8M447 1462h8M447 1466h8M447 1474h8M51 1476h100M439 1480h8M439 1494h8M51 1498h100M51 1500h100M447 1504h8M447 1510h8M439 1518h16M455 1520h7"/>
<path stroke="#e10000" d="M307 118h25M307 142h25M430 142h9M430 144h9M430 148h9M307 154h25M420 154h10M307 158h25M307 160h25M430 164h9M307 166h25M430 184h9M430 186h9M430 198h9M430 222h9M420 226h10M307 236h25M430 272h9M420 282h10M409 284h11M430 290h9M430 296h9M420 306h10M420 342h10M420 344h10M420 358h10M420 380h10M307 382h25M409 392h11M307 406h25M307 414h25M307 424h25M420 426h10M420 434h10M420 436h10M420 438h10M420 440h10M307 450h25M307 464h25M420 464h10M420 484h10M420 486h10M430 490h9M420 498h10M307 536h25M409 558h11M307 564h25M420 580h10M420 584h10M409 610h11M420 624h10M420 630h10M420 660h10M274 662h33M430 672h9M420 680h10M409 682h11M430 694h9M430 704h9M420 718h10M409 736h11M430 770h9M409 778h11M420 784h10M420 812h10M409 820h11M420 848h10M420 884h10M274 894h33M420 900h10M420 912h10M420 922h10M409 934h11M229 960h45M274 962h33M420 966h10M151 980h78M420 992h10M420 1000h10M274 1020h33M274 1030h33M307 1046h25M420 1058h10M274 1070h33M420 1090h10M409 1098h11M274 1100h33M274 1114h33M409 1134h11M409 1138h11M420 1140h10M420 1142h10M420 1144h10M409 1158h21M274 1166h33M420 1168h10M420 1172h10M420 1194h10M51 1226h100M274 1230h33M409 1236h11M274 1262h33M409 1272h11M420 1280h10M409 1290h11M229 1294h45M420 1308h10M420 1312h10M151 1320h78M430 1322h9M229 1326h45M229 1330h45M274 1334h33M409 1336h11M420 1358h10M420 1360h10M151 1372h78M420 1386h10M420 1400h10M420 1410h10M51 1414h100M229 1414h45M151 1416h123M409 1416h11M420 1430h10M51 1438h100M420 1444h10M151 1466h123M420 1468h10M420 1470h10M274 1482h33M420 1500h10M420 1516h10M51 1522h100M229 1526h45M229 1528h45M274 1538h33"/>
<path stroke="#ff5300" d="M439 118h8M439 120h8M307 126h25M430 150h9M430 156h9M439 210h8M307 214h25M439 216h8M307 298h25M430 314h9M430 316h9M307 324h25M307 332h25M439 334h8M430 340h9M439 352h8M307 366h25M307 368h25M430 394h9M430 402h9M430 410h9M430 420h9M430 426h9M307 444h25M430 444h9M307 456h25M430 456h9M430 460h9M274 474h33M307 496h25M307 512h25M430 518h9M409 522h11M274 552h33M420 552h10M274 554h33M430 572h9M430 580h9M430 584h9M274 606h33M420 610h10M420 616h19M274 626h33M430 626h9M430 630h9M420 644h10M430 646h9M430 656h9M430 660h9M274 670h33M274 674h33M430 690h9M420 746h10M274 778h33M430 794h9M430 800h9M274 802h33M274 806h33M274 808h33M274 822h33M274 828h33M409 834h11M274 840h33M430 848h9M430 870h9M274 902h33M229 908h45M420 914h10M274 934h33M430 940h9M430 944h9M420 948h19M430 952h9M420 954h10M229 966h45M229 970h45M430 992h9M274 994h33M274 996h33M430 996h9M151 1000h78M274 1006h33M420 1006h10M51 1020h100M420 1024h10M430 1030h9M430 1044h9M430 1068h9M229 1110h45M430 1118h9M274 1126h33M430 1126h9M229 1138h45M430 1168h9M430 1174h9M439 1180h8M420 1182h10M420 1200h10M430 1204h9M430 1222h9M51 1232h100M430 1232h9M430 1234h9M151 1238h78M274 1246h33M229 1258h45M439 1270h8M229 1278h45M229 1280h45M430 1284h9M420 1288h10M229 1304h45M274 1308h33M274 1310h33M430 1312h9M51 1324h100M274 1328h33M430 1330h9M229 1354h45M430 1370h9M430 1388h9M420 1394h10M430 1406h9M229 1418h45M430 1420h9M229 1422h45M229 1424h45M430 1434h9M430 1438h9M151 1452h78M430 1474h9M430 1482h9M420 1490h10M229 1494h45M430 1496h9M151 1502h78M151 1504h78M151 1508h78M274 1508h33M430 1508h9M430 1528h9M430 1532h9M151 1538h78M420 1542h10M447 1548h8"/>
<path stroke="#ffd500" d="M447 118h8M307 124h25M447 136h8M307 140h25M439 158h8M439 162h16M447 178h8M447 188h8M439 198h8M439 200h8M439 224h8M274 228h33M274 242h33M439 242h8M439 246h8M447 252h15M439 288h8M430 292h17M439 304h8M274 340h33M274 342h33M439 360h8M430 374h9M439 396h8M455 438h7M439 440h8M439 446h8M274 456h33M439 460h8M447 464h8M151 472h123M439 474h16M430 482h9M439 484h8M274 510h33M439 510h8M274 534h33M274 536h33M455 540h7M447 576h8M447 582h8M151 594h78M447 594h8M274 608h33M430 614h9M274 624h33M439 630h8M229 632h45M439 662h8M274 666h33M229 674h45M447 682h8M430 688h9M447 694h8M439 702h16M274 708h33M439 708h8M447 716h8M274 722h33M430 732h9M439 740h8M274 742h33M274 758h33M447 758h8M274 762h33M151 766h78M439 786h8M151 790h78M274 798h33M447 802h8M151 806h78M439 810h8M274 814h33M151 820h123M229 822h45M229 824h45M229 832h45M229 860h45M447 868h8M274 886h33M274 888h33M151 894h123M439 896h8M229 914h45M274 922h33M274 924h33M151 938h78M430 942h9M51 956h100M430 962h9M447 980h8M274 984h33M439 994h8M151 998h78M51 1000h100M151 1004h78M439 1014h8M439 1016h8M439 1024h8M439 1026h16M151 1030h78M430 1048h9M439 1064h8M439 1070h8M439 1076h8M229 1080h45M439 1080h8M430 1098h9M439 1100h8M430 1106h9M51 1126h100M229 1136h45M229 1154h45M439 1162h8M229 1164h45M229 1186h45M151 1190h78M439 1190h8M430 1192h9M151 1212h123M51 1216h100M274 1218h33M51 1230h100M439 1230h8M51 1234h223M447 1238h8M151 1242h78M151 1254h123M439 1272h8M447 1276h8M439 1282h8M447 1284h8M430 1288h9M229 1290h45M439 1292h8M447 1294h8M430 1296h9M439 1298h8M151 1310h78M439 1314h8M51 1334h100M439 1336h8M51 1340h100M274 1342h33M51 1352h100M439 1366h8M439 1372h8M51 1388h100M51 1390h100M51 1406h100M274 1408h33M430 1418h9M51 1422h100M430 1424h9M151 1432h78M51 1444h100M439 1456h8M51 1468h100M51 1474h100M51 1482h100M430 1486h9M151 1500h78M51 1510h100M439 1512h8M151 1514h78M151 1532h78M439 1542h8M151 1550h123M439 1550h8"/>
<path stroke="#a8ff57" d="M455 118h7M274 134h33M151 138h78M447 142h15M455 156h7M439 172h8M229 178h45M455 204h7M274 208h33M447 240h8M439 258h8M447 260h8M274 264h33M274 272h33M447 280h8M455 290h7M229 292h45M455 292h7M447 302h8M274 304h33M455 308h7M274 310h33M447 314h8M447 316h8M447 322h8M151 330h78M455 334h7M455 336h7M455 338h7M229 340h45M151 342h78M455 342h7M229 344h45M151 346h78M447 350h8M229 352h45M274 354h33M447 354h8M151 362h78M455 364h7M151 368h78M447 370h8M439 374h8M455 388h7M229 392h45M151 394h156M447 404h8M229 406h45M447 406h8M439 420h8M455 432h7M274 438h33M455 442h7M455 444h7M447 450h8M447 454h8M455 460h7M229 464h45M151 468h78M455 472h7M475 472h6M51 476h100M274 478h33M439 482h8M274 492h33M447 500h15M439 514h8M274 516h33M229 522h45M274 524h33M151 526h78M274 526h33M51 530h100M455 530h7M447 532h8M229 534h45M462 540h7M447 548h8M455 552h7M229 556h45M439 564h8M151 570h123M439 586h8M439 610h8M229 612h45M51 616h100M51 620h100M51 622h223M455 626h7M447 638h8M51 648h100M229 648h45M447 652h8M447 660h8M439 664h8M447 672h8M439 680h8M455 682h7M51 684h100M455 698h7M229 710h45M151 716h78M229 722h45M455 722h7M151 732h123M439 736h8M455 736h7M151 744h78M455 746h7M455 750h7M151 754h78M229 758h45M51 776h100M151 796h78M51 804h100M151 816h123M455 816h7M455 822h7M447 830h8M447 842h8M51 844h100M229 848h45M455 848h7M447 854h8M455 856h7M151 862h78M439 866h8M229 868h45M455 868h7M447 872h8M439 880h16M229 890h45M51 902h100M51 904h100M439 910h8M51 916h100M447 922h8M455 926h7M151 934h78M439 940h8M229 942h45M151 944h78M229 946h45M51 960h100M51 964h100M439 966h8M447 968h8M447 970h8M51 978h100M447 982h8M439 988h8M447 994h8M447 998h8M439 1000h8M455 1006h7M447 1012h8M430 1034h9M51 1042h100M447 1044h8M447 1054h8M447 1056h8M455 1060h7M151 1062h123M455 1066h7M455 1068h7M455 1072h7M447 1076h8M51 1084h100M455 1084h7M462 1088h7M51 1098h100M51 1102h100M447 1104h8M455 1114h7M455 1118h7M51 1120h100M51 1122h100M51 1124h100M447 1126h8M447 1138h8M51 1150h100M439 1152h8M447 1154h8M439 1158h8M447 1166h8M462 1166h7M455 1168h7M51 1180h100M455 1186h7M51 1190h100M51 1192h100M455 1198h7M151 1206h78M51 1208h178M455 1210h7M455 1222h7M455 1224h7M439 1242h8M51 1246h100M447 1246h8M439 1258h8M439 1260h8M51 1284h100M439 1290h8M455 1306h7M447 1310h8M455 1330h7M462 1332h7M439 1350h8M447 1352h8M439 1354h8M455 1358h7M439 1360h8M439 1362h8M51 1364h100M439 1388h8M51 1394h100M51 1400h100M455 1406h7M455 1414h7M455 1418h7M151 1436h78M455 1448h7M447 1450h8M455 1472h7M447 1476h8M439 1502h8M447 1506h8M439 1508h8M462 1536h7M447 1554h8M447 1556h8"/>
<path stroke="#00c4ff" d="M498 118h5M475 120h6M498 120h5M493 126h5M51 128h100M498 132h5M475 134h6M508 136h4M493 138h5M51 142h100M475 142h18M51 148h100M481 148h17M493 158h5M51 160h100M508 160h4M475 162h6M487 162h6M498 170h5M481 178h6M229 182h45M481 184h6M51 186h100M469 186h12M498 186h5M475 188h6M498 188h5M51 192h100M498 194h5M481 198h6M51 202h100M51 206h100M487 206h6M503 206h5M493 208h5M503 210h5M475 214h6M475 216h12M475 218h6M498 218h5M487 220h6M487 224h6M481 226h6M498 228h5M487 230h6M498 238h5M481 240h6M493 246h5M503 248h5M475 254h6M493 258h5M455 264h7M481 264h6M503 272h5M481 278h6M498 294h5M469 296h6M493 300h5M498 302h5M475 304h6M469 306h6M469 308h12M51 318h100M469 318h6M51 320h100M462 320h7M475 322h6M493 322h10M469 332h6M487 332h6M503 332h5M503 338h5M503 340h5M498 342h5M503 344h5M481 350h6M498 350h5M503 366h5M493 374h5M503 378h5M498 380h5M462 386h7M487 386h6M498 386h5M481 390h6M481 398h6M51 400h178M462 400h7M475 400h6M498 400h10M493 402h5M503 404h5M51 414h100M498 416h5M503 418h5M498 424h5M503 426h5M469 430h6M493 436h15M481 438h6M469 442h6M498 444h5M487 446h6M455 448h7M487 456h6M487 464h6M475 478h12M51 482h100M503 484h5M481 486h12M475 490h12M475 494h6M498 494h5M487 496h6M455 508h7M487 510h6M229 516h45M475 516h6M493 516h10M51 518h100M498 522h10M475 542h6M487 544h6M498 544h5M469 546h6M481 552h6M493 552h5M487 556h6M469 558h6M475 560h6M503 560h5M493 562h15M498 568h5M481 570h6M481 572h6M493 580h5M493 582h5M487 584h6M493 590h15M493 592h5M498 602h5M481 604h6M487 608h6M481 610h12M503 610h5M493 614h5M498 616h5M498 618h5M469 620h6M498 628h5M469 640h6M498 640h5M487 642h6M493 644h5M498 646h5M498 648h5M498 656h5M503 662h5M493 664h10M503 668h5M503 678h5M493 686h5M469 688h12M51 692h100M475 692h28M51 696h100M469 696h6M487 696h6M481 704h6M487 708h6M503 708h5M498 712h5M493 718h5M487 720h6M493 722h5M487 726h6M503 730h5M493 744h5M487 746h6M498 746h5M475 750h6M487 754h11M493 756h5M481 764h6M498 766h5M498 768h5M481 770h6M498 770h5M487 774h6M462 778h7M493 782h5M481 788h12M498 788h5M493 790h5M498 792h5M481 800h6M493 804h5M493 808h10M503 818h5M498 820h5M475 824h6M503 826h5M469 828h6M481 834h6M508 836h4M487 838h6M475 840h6M475 842h6M481 844h6M498 844h5M475 846h6M498 848h10M481 850h6M481 854h6M498 858h10M493 860h5M493 864h10M469 870h6M462 872h7M493 872h5M493 874h10M481 882h6M475 886h6M475 888h6M469 890h6M481 890h6M493 890h5M493 892h5M475 896h6M498 896h5M498 900h5M508 904h4M475 906h6M481 912h6M498 918h5M469 924h6M498 924h5M469 932h6M487 932h6M503 938h5M498 948h5M493 950h15M462 952h13M455 960h7M487 966h6M493 968h10M498 970h10M508 974h4M455 978h7M475 980h6M462 986h7M487 988h6M498 994h5M498 1002h5M469 1004h6M481 1004h6M487 1012h6M462 1020h7M493 1020h5M469 1022h6M481 1032h6M503 1032h5M487 1036h6M487 1040h6M498 1046h5M503 1048h5M462 1052h7M493 1060h5M487 1064h6M475 1066h6M493 1072h5M493 1074h5M503 1074h5M503 1082h5M503 1084h5M469 1086h6M487 1086h6M481 1092h12M493 1094h5M487 1098h16M487 1104h6M475 1112h6M487 1112h6M481 1116h6M493 1118h10M487 1122h6M493 1132h10M493 1134h5M481 1136h6M475 1138h6M503 1144h5M487 1146h11M481 1148h6M481 1154h6M469 1156h6M493 1156h5M469 1164h6M487 1164h6M487 1166h6M498 1172h5M493 1174h5M469 1180h6M487 1180h6M498 1186h5M503 1188h5M481 1190h6M498 1190h10M475 1192h6M498 1194h5M462 1202h7M487 1202h6M475 1206h6M493 1208h5M475 1212h12M487 1214h6M493 1224h5M487 1226h6M498 1232h5M498 1248h5M493 1250h5M503 1258h5M498 1260h5M475 1270h6M493 1278h5M481 1282h6M498 1282h5M487 1284h6M481 1286h6M503 1286h5M469 1288h6M493 1290h5M487 1292h16M487 1294h11M487 1296h6M498 1296h5M498 1298h5M487 1302h6M481 1306h6M469 1308h12M503 1308h5M493 1310h5M455 1314h7M481 1314h6M469 1322h6M481 1322h6M498 1322h5M493 1326h10M493 1328h5M481 1340h6M503 1340h5M469 1342h6M493 1342h5M498 1344h5M475 1360h6M498 1364h5M481 1368h12M487 1376h6M475 1382h6M481 1384h6M493 1384h5M498 1396h5M493 1398h5M498 1400h5M469 1404h6M475 1408h6M487 1410h6M487 1414h6M469 1420h6M455 1422h7M481 1422h6M481 1426h6M503 1426h5M498 1428h5M503 1434h5M503 1438h5M475 1444h6M487 1444h6M503 1444h5M481 1448h6M498 1448h5M493 1450h10M498 1452h5M493 1454h5M462 1462h7M481 1462h6M503 1464h5M487 1466h6M475 1468h6M487 1474h6M493 1478h5M475 1482h12M498 1490h5M469 1494h6M498 1496h5M481 1498h6M498 1498h5M487 1500h21M493 1502h5M498 1506h5M475 1508h6M493 1510h5M487 1520h6M475 1526h6M498 1526h5M481 1530h6M475 1532h6M487 1532h11M493 1534h5M481 1536h6M469 1538h6M498 1540h5M487 1542h6M469 1548h6M493 1548h5M493 1554h5M493 1556h5"/>
<path stroke="#0063ff" d="M508 118h4M508 120h4M503 122h5M508 124h4M498 128h5M508 128h4M503 130h5M498 146h5M51 150h100M508 158h4M51 162h100M508 168h4M508 170h4M512 174h5M498 180h5M508 180h4M508 184h4M512 188h5M508 196h4M508 200h4M508 208h4M508 214h4M508 216h4M498 222h10M503 232h5M508 234h4M508 236h4M508 240h4M508 242h4M503 252h5M503 258h5M498 262h5M498 280h5M508 282h4M498 288h5M503 306h5M508 308h4M503 314h5M508 324h4M51 326h100M487 326h6M512 340h5M508 342h4M508 350h4M508 352h4M498 362h5M508 378h4M508 386h4M493 388h5M503 390h5M508 392h4M508 396h4M508 412h4M508 414h4M498 420h5M503 422h5M503 438h5M503 440h5M498 450h5M503 458h5M508 460h4M503 462h5M498 482h10M508 486h4M503 492h9M487 498h6M498 498h5M508 498h4M508 500h4M508 524h4M508 530h4M503 542h5M503 546h5M503 574h5M508 580h4M517 584h4M498 588h10M512 600h5M508 602h4M508 606h4M512 614h5M508 616h4M498 620h5M508 620h4M508 622h4M503 636h5M498 638h5M508 642h4M508 648h4M503 654h5M508 670h4M508 688h4M498 696h5M508 698h4M503 702h5M503 704h5M508 706h4M508 714h4M503 716h5M508 730h4M498 736h5M498 738h5M508 752h4M503 760h5M481 762h6M503 774h5M508 782h4M508 786h4M512 802h5M508 808h4M475 810h6M508 810h4M481 816h6M508 820h4M493 826h5M503 834h5M508 838h4M512 840h5M503 860h5M498 866h5M503 870h5M503 880h5M508 882h4M498 884h5M503 920h5M508 924h4M503 928h5M512 930h5M503 932h5M503 946h5M493 954h10M508 956h4M512 958h5M503 960h5M503 962h5M508 966h4M508 978h4M508 982h4M508 986h4M503 1004h5M503 1006h5M508 1012h4M508 1024h4M508 1032h4M508 1040h4M508 1046h4M508 1052h4M512 1056h5M503 1062h5M503 1064h5M503 1066h5M498 1070h5M498 1076h5M508 1090h4M498 1102h5M508 1118h4M498 1122h5M503 1138h5M508 1144h4M503 1146h5M498 1150h5M498 1154h10M498 1164h5M493 1166h5M498 1168h5M508 1176h4M498 1180h5M493 1182h5M498 1184h5M508 1194h4M508 1204h4M503 1212h5M503 1216h5M498 1218h5M487 1222h6M512 1222h5M487 1236h6M508 1238h4M508 1246h4M498 1266h5M508 1270h4M512 1276h5M508 1278h4M508 1288h4M508 1294h4M508 1298h4M498 1306h5M503 1310h5M503 1318h5M508 1322h4M508 1326h4M508 1328h4M508 1334h4M503 1338h5M508 1340h4M503 1342h5M512 1348h5M508 1356h4M498 1362h5M508 1364h4M508 1368h4M508 1376h4M498 1378h5M512 1378h5M503 1386h5M503 1390h5M498 1394h5M493 1408h10M503 1410h5M498 1412h5M508 1414h4M503 1424h5M508 1428h4M512 1440h5M487 1448h6M512 1462h5M503 1466h5M498 1470h5M508 1476h4M487 1484h6M503 1486h5M498 1488h5M508 1496h4M508 1498h4M503 1502h5M508 1510h4M503 1512h5M508 1516h4M498 1518h5M508 1518h4M512 1520h5M508 1524h4M512 1526h5M512 1528h5M498 1534h5M508 1538h4M508 1544h4M503 1554h5M503 1556h5"/>
<path stroke="#0033ff" d="M512 118h5M517 124h4M512 126h5M517 136h4M517 138h4M512 148h5M512 150h5M508 154h9M512 156h5M508 162h4M512 172h5M521 174h4M508 178h4M512 180h5M512 186h5M512 190h5M508 194h4M51 196h100M512 198h5M517 200h4M508 202h4M512 208h5M517 212h4M512 214h5M512 218h5M517 220h4M517 222h4M503 224h5M512 224h9M508 228h4M512 236h5M508 238h4M512 244h5M512 246h5M512 250h5M508 254h4M508 258h4M517 262h4M517 264h4M512 266h5M512 270h5M517 274h4M512 276h5M512 278h5M512 282h5M508 284h4M517 286h4M517 292h4M512 296h5M512 298h5M517 300h4M508 302h9M512 308h5M508 310h4M512 312h5M512 314h5M503 318h5M517 322h4M512 324h5M481 326h6M508 326h4M512 328h5M512 330h5M512 336h5M517 338h4M512 342h5M517 344h4M508 346h4M517 350h4M517 352h4M503 356h5M512 360h5M512 362h5M508 364h4M512 366h5M517 370h4M512 376h5M508 388h9M512 390h5M512 392h5M512 394h5M512 396h5M517 404h4M512 406h5M508 408h4M508 410h4M512 414h5M517 416h4M517 418h4M512 420h5M512 422h5M512 426h5M503 432h5M512 436h5M512 442h5M512 444h9M508 446h4M512 448h5M508 450h4M517 452h4M508 456h9M512 458h5M508 462h17M512 464h5M508 466h4M517 470h4M512 472h5M512 480h9M512 484h5M517 486h4M512 488h5M517 490h4M517 492h4M512 494h5M503 496h5M517 498h4M512 500h5M503 502h5M512 508h5M512 510h5M517 514h4M512 526h5M517 528h4M512 530h5M508 542h4M512 548h5M503 550h5M512 556h5M508 558h4M512 560h5M517 562h4M517 566h4M517 570h4M512 572h5M512 574h5M512 580h5M512 582h5M521 584h4M512 588h5M517 590h4M517 594h4M517 596h4M517 598h4M517 602h4M508 604h13M508 608h4M508 612h4M517 616h4M512 618h5M517 620h4M512 622h5M508 626h4M512 630h5M512 642h5M517 650h4M508 654h4M512 656h5M512 658h5M517 660h4M517 662h4M508 672h4M512 674h5M508 676h4M512 678h5M508 682h9M517 684h4M517 686h4M512 688h5M508 702h4M512 706h5M512 710h5M517 718h4M512 728h5M512 732h5M503 736h5M508 748h4M512 752h5M512 754h5M512 758h5M517 766h4M508 770h4M517 772h4M512 776h5M512 780h5M512 782h5M512 786h5M512 792h5M517 794h4M508 796h4M503 798h5M517 800h4M521 802h4M517 804h4M512 806h5M512 810h5M487 816h6M512 818h5M512 820h5M517 822h4M517 826h4M517 830h4M512 832h5M512 834h5M512 838h5M517 840h4M508 850h4M508 856h4M521 858h8M508 860h13M508 870h4M508 876h4M508 878h4M512 890h5M517 894h4M508 896h9M517 900h4M517 904h4M512 910h5M521 916h4M512 918h5M512 924h5M512 926h5M512 936h5M508 940h4M512 942h5M517 954h4M521 956h4M512 960h9M508 962h4M503 972h5M517 974h4M517 978h4M512 982h5M512 984h5M512 986h5M512 988h5M512 990h5M512 992h5M508 994h4M512 996h5M512 998h5M512 1002h5M512 1012h5M517 1014h4M521 1016h4M521 1018h4M512 1028h5M512 1030h5M512 1040h5M512 1042h5M517 1044h4M517 1052h4M521 1054h8M512 1060h5M503 1070h5M503 1072h5M517 1078h4M517 1082h4M512 1088h5M508 1094h4M512 1098h5M512 1102h5M517 1108h4M512 1112h5M512 1114h5M503 1122h5M508 1124h4M498 1126h10M517 1130h4M517 1132h4M517 1136h4M508 1138h4M508 1156h4M512 1160h5M503 1164h5M498 1166h31M517 1172h4M512 1176h5M521 1178h4M508 1182h4M508 1184h4M512 1188h5M517 1190h4M512 1192h5M512 1194h5M512 1204h5M508 1208h4M508 1216h4M503 1218h5M512 1220h5M517 1222h4M512 1228h5M512 1234h5M517 1236h4M512 1238h5M508 1240h4M512 1242h5M512 1246h5M503 1250h5M508 1252h4M512 1258h5M512 1260h5M503 1266h5M508 1272h4M521 1274h4M512 1294h5M517 1300h4M512 1302h5M508 1304h4M503 1306h5M508 1310h4M517 1312h4M517 1314h4M517 1316h4M512 1322h5M517 1332h4M512 1334h5M503 1336h5M508 1338h4M512 1340h5M512 1344h5M512 1350h5M512 1352h5M512 1354h5M512 1360h5M512 1368h5M508 1370h9M517 1372h4M517 1374h4M508 1380h9M512 1384h5M508 1388h4M508 1392h13M512 1398h5M508 1406h4M512 1410h5M508 1412h13M517 1418h4M512 1420h5M512 1422h5M517 1438h4M521 1440h4M517 1444h4M512 1446h9M512 1450h5M512 1454h5M512 1458h5M521 1460h4M508 1466h4M517 1466h4M503 1468h5M517 1472h4M503 1478h5M508 1480h4M512 1490h5M512 1496h5M512 1498h5M512 1500h5M512 1502h5M512 1508h5M512 1510h5M512 1516h5M517 1518h4M517 1520h4M512 1530h5M517 1542h4M517 1544h4M512 1546h5"/>
<path stroke="#0012ff" d="M517 118h4M512 122h5M521 124h4M517 126h4M512 130h5M512 134h5M525 136h4M525 138h18M517 140h4M521 142h12M517 144h4M512 146h5M517 150h4M521 152h8M525 154h8M525 156h4M521 158h4M521 160h4M512 164h5M517 170h4M533 172h15M529 174h14M521 176h15M512 178h5M525 178h8M512 182h5M512 184h5M525 188h11M517 190h4M525 200h4M512 204h13M517 206h4M521 208h8M529 210h4M521 212h4M517 214h4M521 216h4M517 218h8M521 220h4M525 222h8M521 224h4M517 228h4M512 230h5M521 236h4M512 238h5M517 244h4M517 246h4M517 250h4M508 252h9M512 254h5M517 256h4M512 258h5M512 260h21M521 262h4M521 264h4M521 266h4M521 268h12M536 268h4M517 270h4M525 274h4M517 276h4M517 278h4M512 280h5M517 284h4M521 286h4M512 288h5M525 290h11M517 294h23M517 296h4M517 298h4M525 300h8M521 302h4M512 304h5M533 304h3M517 306h4M517 308h4M512 310h5M521 314h4M512 316h5M503 320h5M525 322h4M521 324h4M512 326h5M517 328h4M521 330h4M521 336h12M529 338h7M525 340h4M517 342h4M521 344h4M517 346h4M521 348h4M525 350h4M521 352h4M508 354h4M512 358h5M521 360h15M521 362h4M517 366h12M517 368h4M525 368h8M521 370h4M512 374h5M517 376h4M512 378h5M525 380h4M517 382h4M517 384h4M521 388h4M517 394h16M512 400h5M521 404h4M540 404h8M517 406h19M521 410h4M525 416h8M525 418h15M517 420h4M517 422h4M517 424h4M521 426h8M517 432h4M517 436h4M517 440h4M517 442h4M521 444h8M517 446h4M517 450h4M521 452h4M521 454h4M521 456h8M521 458h4M521 460h15M529 462h4M517 464h8M512 466h5M517 468h8M525 470h8M517 472h8M521 474h4M512 476h5M521 478h4M525 480h4M517 482h4M517 484h4M525 486h4M517 488h4M529 490h7M521 492h4M517 494h4M508 496h9M521 498h8M517 500h8M517 502h4M521 506h4M521 508h8M521 510h8M512 516h9M512 518h5M521 522h4M517 524h16M517 526h4M525 528h8M517 530h8M529 532h11M521 534h8M517 538h8M517 540h4M512 542h5M512 544h5M517 548h4M508 550h9M517 552h4M517 554h4M517 556h4M512 558h5M517 560h4M521 562h4M508 564h13M521 566h4M517 568h4M521 570h4M517 574h4M512 576h5M517 578h4M521 580h4M521 582h4M517 588h4M521 590h4M512 592h5M525 594h8M540 594h8M525 596h4M525 598h15M525 600h4M536 602h7M525 604h4M512 608h5M517 610h4M512 612h5M525 614h4M536 614h4M525 616h11M517 618h4M521 620h8M517 622h4M512 624h5M512 626h5M512 628h5M517 630h4M517 632h8M540 632h8M512 636h21M517 640h4M517 642h4M508 644h4M517 646h4M521 650h4M521 652h4M517 654h19M525 656h8M517 658h4M521 660h4M521 662h4M521 664h4M529 668h4M525 670h4M517 672h16M540 672h8M521 674h4M517 678h4M508 680h4M517 682h4M525 684h18M525 686h4M521 688h12M517 690h4M517 692h4M512 694h5M525 696h4M517 698h4M517 700h4M517 702h8M508 704h4M517 706h4M517 710h4M517 714h4M512 716h5M521 718h4M517 732h4M517 734h8M508 736h9M508 738h4M512 740h5M512 744h5M517 748h4M517 752h4M517 754h4M512 756h5M517 758h8M517 762h4M525 766h4M521 768h8M521 772h4M512 774h5M525 776h4M521 778h4M517 782h8M512 784h5M517 786h4M517 790h12M521 792h8M540 792h3M525 794h8M517 796h4M517 798h4M521 800h4M525 802h8M525 804h4M525 806h8M521 808h27M517 810h4M517 812h4M521 822h4M521 824h8M521 826h4M508 828h4M517 828h8M540 828h8M521 830h4M521 832h8M521 834h4M517 838h4M521 840h8M521 842h4M517 846h4M512 850h5M512 854h5M512 856h5M536 858h12M525 860h4M512 864h5M521 866h4M512 870h5M517 872h4M512 874h5M512 876h5M517 878h4M517 880h16M503 886h5M512 888h5M529 892h7M521 894h4M525 896h4M517 898h8M521 900h4M521 902h8M525 904h4M517 906h19M525 908h4M536 908h4M521 910h4M517 912h4M521 914h4M540 916h8M517 918h8M529 918h4M508 920h9M512 922h5M517 924h4M517 926h4M508 928h9M525 930h8M517 936h4M525 938h4M512 944h5M508 946h4M517 948h4M517 950h4M512 952h5M521 954h4M525 956h4M525 958h18M525 960h8M512 962h5M521 964h4M517 966h4M517 970h4M521 974h8M529 978h7M521 980h12M521 982h4M517 984h4M521 986h8M517 990h4M525 992h8M517 996h4M517 998h4M521 1000h12M521 1002h4M512 1004h5M512 1006h5M521 1008h4M517 1010h4M521 1012h4M525 1014h4M529 1016h4M529 1018h7M512 1020h5M521 1022h4M517 1024h4M517 1028h8M517 1030h8M508 1034h9M517 1040h4M512 1046h5M517 1048h4M521 1050h4M521 1052h4M533 1054h10M533 1056h3M517 1060h8M536 1060h7M508 1062h9M512 1064h5M512 1070h5M508 1072h9M529 1078h4M512 1080h5M525 1082h8M525 1084h8M512 1086h5M525 1088h4M521 1090h12M521 1092h4M525 1094h4M512 1096h5M517 1098h4M512 1100h5M517 1102h4M521 1106h4M525 1108h4M521 1110h8M517 1112h4M543 1116h5M525 1118h4M533 1118h10M512 1122h5M512 1124h5M517 1126h12M536 1126h4M525 1128h4M525 1130h4M512 1138h5M517 1142h4M517 1144h4M512 1148h5M517 1150h4M517 1156h4M512 1164h5M540 1166h3M517 1168h8M517 1170h4M521 1172h4M517 1174h4M517 1176h4M529 1178h4M508 1180h4M512 1182h5M517 1188h4M512 1196h5M512 1198h5M525 1202h11M517 1204h4M512 1208h5M512 1212h5M517 1214h16M517 1216h4M517 1220h4M521 1226h8M517 1230h8M517 1232h8M517 1234h4M521 1236h4M517 1238h4M525 1240h8M543 1240h5M517 1242h4M517 1244h12M521 1246h4M508 1250h9M512 1252h5M517 1256h4M512 1266h5M512 1272h5M529 1274h4M543 1274h5M525 1276h4M525 1280h4M521 1284h4M512 1288h5M512 1290h5M521 1292h4M517 1294h4M517 1296h12M517 1298h4M521 1300h4M517 1302h8M512 1306h5M517 1308h4M525 1312h4M521 1314h15M521 1316h4M529 1316h7M525 1320h11M517 1326h4M517 1328h4M525 1330h15M525 1332h4M521 1334h4M517 1336h4M517 1338h4M517 1340h8M521 1344h4M536 1344h4M521 1346h8M521 1348h4M521 1350h4M517 1352h8M521 1354h8M512 1356h5M517 1358h4M517 1360h4M503 1362h5M521 1370h4M525 1372h4M525 1374h8M525 1378h4M521 1380h4M521 1382h4M517 1384h4M508 1386h9M512 1388h17M512 1390h5M525 1392h4M512 1394h9M521 1396h4M521 1398h4M512 1400h5M508 1408h4M517 1410h4M521 1414h4M517 1416h16M525 1418h4M521 1420h4M517 1422h4M521 1426h8M517 1428h4M503 1432h5M517 1432h4M521 1438h4M525 1440h4M521 1442h4M521 1444h4M517 1448h4M517 1450h4M529 1450h11M517 1454h4M508 1456h9M517 1458h4M529 1460h4M525 1462h11M521 1464h15M508 1468h4M521 1468h12M512 1470h5M521 1470h22M525 1472h8M517 1474h4M512 1476h5M508 1478h4M517 1478h4M517 1482h4M517 1486h4M517 1490h16M512 1494h5M517 1496h4M533 1496h10M517 1500h4M521 1502h4M512 1504h5M512 1506h5M517 1508h4M517 1510h4M512 1512h5M517 1516h4M529 1518h7M521 1520h4M529 1522h4M521 1524h4M521 1526h4M525 1528h4M521 1530h8M508 1532h4M503 1534h5M525 1536h11M521 1542h4M521 1544h4M517 1546h4M512 1552h13M517 1554h8M517 1556h8"/>
<path stroke="#b8ff47" d="M274 120h33M455 120h7M447 134h8M455 138h7M274 144h33M151 176h78M455 194h7M151 200h78M455 200h7M455 210h7M274 212h33M274 226h33M447 226h8M455 230h7M274 240h33M447 246h8M447 270h8M455 272h7M439 280h8M229 290h45M151 294h123M151 302h78M439 306h16M274 308h33M455 322h7M447 324h8M274 334h33M229 342h45M439 342h8M455 344h7M229 346h45M455 348h7M447 356h8M229 360h45M447 366h8M151 370h78M229 380h45M447 384h8M447 390h8M151 392h78M439 394h16M455 402h7M151 406h78M455 412h7M455 414h7M229 416h45M447 416h8M447 418h15M151 424h123M151 426h123M447 430h8M455 436h7M447 440h8M439 442h8M447 444h8M439 452h8M151 464h78M447 466h8M229 470h45M447 472h8M151 478h123M455 482h7M229 486h78M447 486h8M439 490h8M151 500h123M439 504h8M151 510h78M447 510h8M274 512h33M439 516h8M151 520h78M151 522h78M229 524h45M151 554h78M151 566h78M274 572h33M229 578h45M439 578h8M151 582h78M51 584h100M151 586h123M274 588h33M447 596h8M447 602h8M439 604h8M455 606h7M151 612h78M455 616h7M151 620h78M151 630h78M229 642h45M439 648h8M151 652h78M447 664h8M51 670h100M447 674h8M447 698h8M274 706h33M447 706h8M151 710h78M447 710h8M274 716h33M151 718h78M151 722h78M51 724h100M151 726h78M439 732h8M455 734h7M439 738h8M455 742h7M447 748h8M439 750h8M51 760h100M439 762h8M151 772h78M151 778h123M430 780h9M447 782h8M455 784h7M51 790h100M229 796h45M447 812h8M447 818h8M151 826h123M455 828h7M151 830h78M229 836h45M151 844h123M229 846h45M151 848h78M447 850h8M439 854h8M455 854h7M439 874h8M455 876h7M439 884h8M447 892h8M447 896h8M229 900h45M439 902h8M151 920h123M439 924h8M439 930h8M229 934h45M151 936h78M51 938h100M447 946h8M447 948h8M447 952h8M151 954h78M455 958h7M455 976h7M51 980h100M51 988h100M51 996h100M51 998h100M51 1004h100M229 1006h45M51 1010h100M447 1014h8M151 1032h123M229 1038h45M447 1038h8M51 1040h100M51 1048h100M447 1050h8M455 1056h7M455 1058h7M455 1062h7M51 1070h100M447 1078h8M439 1082h8M447 1084h8M51 1088h100M229 1102h45M455 1104h7M51 1134h100M447 1134h8M447 1142h8M439 1168h8M151 1182h78M455 1182h7M51 1184h100M51 1198h100M439 1202h8M439 1206h8M229 1210h45M447 1216h8M51 1218h223M51 1220h100M455 1244h7M51 1254h100M51 1256h100M447 1264h8M151 1288h78M439 1288h16M51 1290h100M447 1292h8M439 1318h8M51 1336h100M447 1358h8M51 1362h100M51 1366h100M51 1376h100M447 1396h8M51 1402h223M439 1414h8M439 1460h8M430 1476h9M439 1482h8M447 1492h8M439 1506h8M447 1528h8M439 1546h8M455 1552h7"/>
<path stroke="#ff7300" d="M307 120h25M439 132h8M439 142h8M307 168h25M439 176h8M430 182h9M307 186h25M307 188h25M447 200h8M307 216h25M439 218h8M307 220h25M439 226h8M439 238h8M430 274h9M430 308h9M420 326h10M307 328h25M439 338h8M430 348h9M274 370h33M420 388h10M430 396h9M439 408h8M430 422h9M439 434h8M430 438h9M307 440h25M430 464h9M274 476h33M430 488h9M430 502h9M420 518h10M430 526h9M430 534h9M430 556h9M274 584h33M439 598h8M274 636h33M430 662h9M274 664h33M430 684h9M420 708h10M430 724h9M430 726h9M274 730h33M274 750h33M430 762h9M274 766h33M430 776h9M274 780h33M430 782h9M430 790h9M430 792h9M430 796h9M274 804h33M274 810h33M274 816h33M430 816h9M274 834h33M430 834h9M439 848h8M430 852h9M151 858h78M274 860h33M430 878h9M430 882h9M151 892h123M274 904h33M274 906h33M430 912h9M439 916h8M430 928h9M274 936h33M430 956h9M439 964h8M430 966h9M151 972h78M274 988h33M430 994h9M151 1014h123M430 1014h9M229 1056h45M229 1060h45M420 1068h10M439 1068h8M430 1070h9M430 1086h9M229 1088h45M274 1098h33M430 1108h9M151 1126h123M430 1128h9M151 1166h78M151 1170h123M439 1174h8M430 1188h9M430 1196h9M229 1202h45M439 1208h8M151 1214h78M51 1240h100M430 1248h9M151 1274h78M51 1292h100M151 1300h78M430 1300h9M151 1316h78M229 1328h45M229 1380h45M420 1380h10M151 1386h123M430 1402h9M430 1404h9M439 1416h8M439 1420h8M430 1430h9M430 1440h9M430 1448h9M229 1452h45M151 1454h123M229 1458h45M51 1462h100M430 1478h9M229 1484h45M420 1488h10M151 1492h78M274 1500h33M151 1510h123M151 1516h123M229 1524h45M439 1526h8M151 1544h78M430 1546h9"/>
<path stroke="#a00000" d="M430 120h9M420 124h10M420 200h10M409 222h21M409 242h11M420 260h10M409 264h11M409 266h11M420 292h10M420 298h10M409 320h11M420 322h10M409 326h11M409 332h11M420 334h10M420 336h10M409 340h21M420 348h10M409 354h11M420 362h10M420 368h10M307 380h25M420 398h10M409 410h11M409 438h11M420 454h10M420 456h10M307 462h25M409 464h11M409 472h11M409 480h11M409 492h11M420 500h10M307 520h25M409 546h11M420 548h10M409 562h11M409 594h11M409 626h11M307 634h25M307 650h25M409 662h11M420 688h10M420 702h10M409 710h11M307 714h25M307 726h25M409 726h11M409 730h11M409 758h11M420 766h10M409 786h11M420 806h10M420 832h10M420 840h10M409 848h11M409 856h11M420 892h10M274 916h33M307 924h25M151 958h78M229 980h45M420 984h10M409 992h11M409 996h11M409 1010h11M274 1016h33M420 1048h10M409 1050h11M409 1058h11M420 1062h10M409 1064h11M409 1080h21M274 1102h58M420 1102h10M274 1144h33M307 1176h25M409 1196h11M274 1212h33M409 1212h11M420 1226h10M409 1244h11M409 1252h11M409 1266h11M274 1268h33M409 1268h11M274 1278h33M409 1286h11M420 1292h10M430 1298h9M409 1312h11M409 1314h11M420 1316h10M409 1318h11M409 1342h11M274 1344h33M274 1358h33M409 1362h21M420 1366h10M420 1372h10M409 1378h21M409 1390h11M420 1392h10M274 1396h33M420 1398h10M409 1400h11M274 1404h33M307 1406h25M409 1408h11M409 1414h11M420 1424h10M409 1426h11M409 1432h11M274 1470h33M274 1494h33M409 1496h11M409 1502h11M420 1504h10M420 1514h10M420 1518h10M409 1528h11M409 1552h11"/>
<path stroke="#77ff88" d="M447 120h8M151 130h78M51 136h100M462 138h7M455 146h7M439 150h8M151 152h123M229 158h45M462 160h7M274 162h33M229 166h45M475 172h12M462 180h7M274 190h33M447 190h8M462 198h7M151 202h78M274 206h33M455 208h7M447 216h8M151 218h78M455 222h7M462 226h7M151 232h78M447 234h8M447 238h8M462 246h7M229 248h45M439 250h8M455 256h7M151 266h78M447 268h8M274 270h33M481 272h6M151 274h78M462 282h7M151 284h78M447 286h8M229 298h45M455 298h7M51 300h100M455 312h7M229 322h45M455 324h7M229 332h45M51 336h100M447 338h8M462 340h7M462 346h7M51 352h178M229 358h45M229 364h45M455 370h7M151 382h78M274 384h33M439 390h8M455 390h7M151 398h78M447 400h8M447 402h8M475 404h6M229 408h45M229 410h45M151 416h78M439 416h8M51 418h100M51 426h100M455 430h7M151 440h123M462 444h7M229 450h45M229 466h45M439 468h8M462 472h7M462 476h7M447 488h15M151 502h123M493 506h5M229 526h45M455 550h7M229 564h45M151 572h78M151 578h78M51 582h100M462 582h13M455 584h7M475 584h6M151 590h78M455 592h7M462 600h7M447 608h8M447 612h8M229 618h45M229 626h45M447 634h8M455 636h7M151 640h78M447 640h8M447 650h8M439 666h8M151 676h78M455 676h7M447 678h8M447 686h8M151 698h78M447 704h8M229 708h45M229 712h45M447 714h8M455 718h7M455 724h7M447 728h8M51 730h100M447 730h8M462 730h7M51 732h100M151 742h123M462 742h7M475 744h6M455 754h7M51 758h100M455 758h7M481 760h6M151 762h78M455 768h7M229 780h45M151 786h78M455 788h7M462 792h7M447 798h8M51 800h100M455 808h7M229 810h45M455 810h7M455 812h7M151 814h123M51 828h100M51 840h100M455 844h7M151 850h78M455 852h7M447 856h8M455 860h7M455 864h7M229 872h45M455 878h7M151 884h78M447 884h8M455 886h7M51 888h100M455 892h7M447 912h8M455 914h7M151 924h78M447 930h15M455 944h7M229 950h45M455 950h7M151 952h123M455 952h7M51 954h100M447 964h8M51 976h100M462 982h7M447 990h8M51 994h100M455 996h7M455 1014h7M447 1016h8M455 1018h7M439 1022h8M455 1036h7M51 1038h100M447 1040h8M462 1044h7M455 1046h7M447 1048h8M455 1054h7M51 1064h100M151 1066h78M439 1066h8M455 1070h7M469 1092h6M51 1114h100M455 1124h7M455 1130h7M51 1146h100M455 1146h7M455 1156h7M51 1174h100M51 1188h100M447 1188h8M447 1190h8M439 1192h8M447 1208h8M462 1224h7M462 1226h7M462 1232h7M51 1250h100M447 1262h8M51 1272h100M462 1272h7M455 1276h7M475 1278h6M455 1280h7M51 1288h100M462 1306h7M455 1316h14M475 1316h6M455 1328h7M469 1332h6M447 1344h8M455 1346h7M469 1348h6M51 1358h100M447 1368h8M455 1374h7M447 1386h8M455 1388h7M455 1394h7M469 1402h6M151 1408h78M462 1416h7M447 1426h8M447 1432h8M447 1438h8M455 1446h7M455 1478h7M475 1490h6M462 1504h19M455 1512h7M447 1534h8M455 1538h7M455 1544h14"/>
<path stroke="#67ff98" d="M462 120h7M151 124h78M229 130h45M151 132h78M455 134h7M462 136h13M469 138h6M151 142h78M151 144h78M462 146h7M151 158h78M462 158h7M151 166h78M462 166h7M462 168h7M439 180h8M475 180h6M229 188h45M462 190h7M151 194h78M229 202h45M462 206h7M229 212h45M229 214h45M455 216h7M229 218h45M229 220h45M447 224h8M462 224h7M462 232h7M274 234h33M447 236h8M455 238h7M229 242h45M455 244h7M274 246h33M51 250h100M274 258h33M447 258h8M229 262h45M447 276h8M447 278h8M229 284h45M151 286h78M455 286h7M274 288h33M462 288h7M481 298h6M51 302h100M151 306h156M469 312h6M51 314h100M229 314h45M455 314h14M455 316h7M274 320h33M455 326h7M151 328h123M447 330h8M151 334h78M475 334h6M462 336h7M51 338h100M51 340h100M462 342h7M51 344h100M462 348h7M462 350h7M475 352h6M151 358h78M51 360h100M229 366h45M462 366h7M462 370h7M462 376h7M455 382h7M274 386h33M455 386h7M229 388h45M274 390h33M151 396h78M229 398h45M151 410h78M51 422h100M455 424h7M462 432h7M447 438h8M455 440h7M229 446h45M151 448h78M151 450h78M151 454h78M51 456h100M51 460h100M51 462h100M462 462h7M51 468h100M455 476h7M469 476h6M447 482h8M229 484h45M455 486h7M151 494h78M229 496h45M475 500h6M51 508h100M455 510h7M447 528h8M229 536h45M51 538h100M475 538h6M151 544h78M462 544h7M151 546h78M455 548h7M462 550h7M51 554h100M151 560h78M462 560h7M151 568h78M455 594h7M487 594h6M51 596h100M51 602h100M51 604h100M151 608h78M462 608h7M151 618h78M439 620h8M455 620h7M51 624h100M447 626h8M462 632h7M229 634h45M229 636h45M229 644h45M447 644h8M462 654h7M475 654h6M455 660h7M51 662h100M455 666h7M229 676h45M447 676h8M51 678h100M462 684h7M229 698h45M462 704h7M462 710h7M51 716h100M462 720h7M462 732h7M481 732h6M475 734h6M462 750h7M151 752h78M455 752h7M447 754h8M447 756h8M475 760h6M229 762h45M447 762h8M462 762h7M455 766h7M51 768h100M475 776h6M455 778h7M447 784h8M475 784h12M462 796h7M51 808h100M51 810h100M151 812h78M462 816h7M462 818h7M447 822h8M51 832h100M455 834h7M462 836h7M51 838h100M51 846h100M51 850h100M151 852h78M462 858h13M455 866h14M447 870h8M151 874h123M229 882h45M229 884h45M151 886h78M439 890h8M51 896h100M51 898h100M455 898h7M462 912h13M51 926h100M455 928h7M462 930h7M447 950h8M447 960h8M51 962h100M455 968h7M455 974h7M51 990h100M469 992h6M455 998h7M447 1006h8M462 1014h7M447 1018h8M447 1020h8M447 1022h8M455 1026h7M455 1052h7M462 1056h7M481 1062h6M51 1066h100M447 1066h8M481 1078h6M475 1082h6M455 1090h7M447 1096h8M469 1108h6M455 1120h7M455 1128h7M462 1134h7M469 1174h6M447 1176h8M469 1176h6M462 1182h7M455 1188h7M455 1190h7M447 1194h8M447 1206h8M455 1214h7M481 1214h6M462 1222h7M469 1226h6M447 1234h8M455 1264h7M455 1266h7M455 1272h7M447 1278h8M455 1288h7M462 1296h7M447 1300h8M455 1310h7M462 1314h7M462 1318h7M455 1320h14M455 1322h7M439 1332h16M447 1336h8M455 1340h7M455 1344h7M439 1346h8M469 1354h12M455 1366h7M462 1384h7M455 1398h7M229 1408h45M439 1410h8M455 1410h7M462 1414h7M469 1416h6M447 1420h8M447 1428h8M447 1436h8M469 1448h12M462 1464h7M475 1464h6M469 1470h6M455 1488h7M481 1496h6M447 1498h8M455 1504h7M455 1506h7M462 1516h7M462 1520h19M447 1526h8M462 1530h7M455 1548h7"/>
<path stroke="#0094ff" d="M503 120h5M508 126h4M493 128h5M498 138h5M51 140h100M469 142h6M498 142h5M493 146h5M498 156h5M498 158h5M493 162h5M503 164h5M487 166h6M498 166h10M481 168h6M487 178h11M503 178h5M475 192h6M493 192h5M503 198h5M498 202h5M508 212h4M503 218h5M508 220h4M498 226h5M487 232h6M475 234h12M503 238h5M487 252h6M503 254h5M493 256h5M498 258h5M462 264h7M503 264h5M508 276h4M493 280h5M498 282h5M493 288h5M487 290h11M508 296h4M503 304h5M498 316h5M493 320h5M487 324h6M475 326h6M493 326h5M469 330h6M493 334h5M508 344h4M508 348h4M503 350h5M498 358h5M493 362h5M498 364h5M498 372h5M498 374h5M487 376h6M498 376h5M503 380h5M498 382h5M498 384h5M503 386h5M503 394h5M493 396h10M498 398h5M498 402h5M503 406h5M498 408h5M487 414h6M493 420h5M493 422h5M498 430h5M498 440h5M498 442h10M498 446h5M508 452h4M503 454h5M475 456h6M493 456h5M493 464h5M508 474h4M487 476h6M481 482h6M503 486h5M498 488h5M498 490h10M503 494h5M475 504h6M503 516h5M503 520h5M508 522h4M498 536h5M503 544h5M481 548h6M487 552h6M508 552h4M503 568h5M493 572h15M475 574h12M487 588h6M508 596h4M503 602h5M503 606h5M493 608h5M503 612h5M503 616h5M493 622h5M481 634h6M498 634h10M493 642h5M508 646h4M503 658h5M475 660h6M508 664h4M503 670h5M487 672h6M508 678h4M498 688h5M503 692h5M487 694h6M481 698h6M498 698h5M493 700h10M475 702h6M493 704h5M487 706h6M475 708h12M508 710h4M498 716h5M503 718h5M503 720h5M503 724h5M493 726h5M503 726h9M503 728h5M493 736h5M503 740h5M493 750h5M493 752h5M503 752h5M503 754h5M503 756h5M487 762h6M498 762h5M508 772h4M493 774h5M503 776h5M503 780h5M503 782h5M503 786h5M503 794h5M498 796h5M493 798h5M508 804h4M493 810h5M503 810h5M498 812h5M503 816h5M493 822h5M503 822h9M508 824h4M481 830h6M498 834h5M481 836h6M481 840h6M508 842h4M503 844h5M487 854h6M503 854h5M508 858h4M498 860h5M493 862h5M503 874h5M481 876h6M498 876h5M503 882h5M508 890h4M493 894h15M508 900h4M503 918h5M498 920h5M503 922h5M493 932h5M498 934h5M498 936h5M503 944h5M475 948h12M503 952h5M487 958h6M508 958h4M498 962h5M503 964h5M503 966h5M493 974h5M487 976h21M493 984h10M508 984h4M493 988h5M503 988h5M481 990h6M493 990h15M481 994h6M487 1004h6M503 1008h5M503 1012h5M503 1018h5M503 1028h5M498 1040h5M508 1042h4M503 1044h9M508 1058h4M503 1060h5M493 1064h5M493 1066h5M475 1086h6M493 1104h5M498 1106h10M493 1112h15M508 1114h4M503 1120h5M493 1122h5M503 1124h5M481 1130h6M508 1130h4M508 1134h4M487 1148h6M493 1152h5M503 1152h5M487 1154h6M508 1160h4M493 1162h5M503 1162h5M493 1164h5M493 1168h5M487 1170h6M508 1170h4M498 1174h5M503 1176h5M493 1178h5M487 1182h6M469 1184h6M503 1186h5M508 1188h4M503 1210h5M487 1212h6M498 1212h5M498 1214h10M498 1216h5M475 1218h6M498 1224h5M508 1226h4M498 1230h5M503 1234h5M498 1236h5M493 1242h5M498 1244h5M498 1254h5M508 1264h4M493 1266h5M498 1270h10M498 1274h5M508 1276h4M503 1282h5M503 1288h5M481 1296h6M503 1298h5M498 1304h5M487 1306h6M498 1310h5M508 1314h4M498 1318h5M503 1322h5M493 1336h5M508 1346h4M503 1356h5M498 1360h5M503 1368h5M503 1376h5M508 1382h4M498 1386h5M503 1388h5M498 1398h5M503 1400h5M475 1404h6M493 1410h5M498 1414h5M498 1420h5M475 1430h6M493 1432h5M487 1436h6M503 1440h9M493 1448h5M508 1454h4M498 1466h5M493 1468h5M455 1474h7M469 1484h6M493 1484h5M498 1486h5M503 1490h5M508 1500h4M503 1506h5M481 1508h17M493 1512h5M493 1520h10M498 1542h10M498 1544h5M503 1546h5M498 1550h5M498 1552h5M498 1554h5M498 1556h5"/>
<path stroke="#0043ff" d="M512 120h5M512 124h5M508 132h4M508 140h4M503 146h5M512 152h5M512 158h5M517 160h4M508 164h4M512 166h5M517 174h4M512 176h5M508 182h4M517 188h4M503 192h5M512 200h5M512 206h5M512 210h5M512 212h5M512 216h5M512 222h5M512 248h5M503 262h14M512 264h5M508 266h4M512 272h5M503 280h5M512 286h5M503 288h5M512 290h5M508 294h4M508 298h4M508 300h9M508 306h4M508 314h4M508 316h4M512 322h5M512 332h5M508 334h4M517 340h4M512 344h5M512 348h5M512 350h5M512 352h5M508 362h4M508 374h4M517 380h4M503 382h5M498 388h10M508 398h4M508 402h4M512 416h5M512 418h5M503 420h9M512 424h5M508 430h4M498 432h5M508 434h4M508 440h4M503 450h5M512 452h5M512 454h5M508 458h4M512 460h5M512 470h5M512 474h5M503 480h5M512 486h5M512 490h5M512 492h5M498 496h5M512 498h5M498 502h5M508 504h4M512 506h5M512 514h5M512 520h5M512 534h5M508 538h4M508 540h4M508 544h4M498 550h5M512 552h5M512 554h5M512 566h5M508 574h4M503 578h5M512 590h5M512 594h5M512 598h5M517 600h4M512 606h5M517 614h4M512 616h5M512 620h5M508 628h4M512 646h5M512 650h5M512 652h9M508 656h4M512 660h5M512 662h5M517 668h4M512 670h9M512 684h5M512 686h5M508 690h4M503 694h5M512 696h9M508 700h4M512 718h5M512 724h5M508 744h4M512 762h5M512 768h5M512 778h5M508 792h4M512 800h5M512 804h5M508 806h4M512 808h5M503 814h5M493 816h5M512 824h5M487 826h6M512 830h5M508 834h4M512 842h5M508 846h4M512 848h5M503 850h5M517 858h4M508 864h4M508 866h9M508 872h4M508 874h4M508 888h4M512 892h5M512 894h5M512 898h5M512 900h5M512 902h5M512 914h5M517 916h4M508 922h4M517 938h4M512 948h5M512 950h5M512 954h5M512 956h9M517 958h4M508 960h4M508 964h4M512 970h5M512 978h5M512 1000h5M512 1008h5M512 1010h5M512 1014h5M508 1016h13M517 1018h4M512 1022h5M512 1026h5M512 1048h5M508 1050h4M512 1052h5M517 1054h4M517 1056h4M508 1064h4M512 1068h5M512 1074h5M493 1076h5M512 1078h5M517 1084h4M508 1088h4M512 1090h5M512 1092h5M508 1096h4M503 1100h5M508 1104h4M512 1106h5M512 1108h5M512 1110h5M512 1116h5M512 1118h5M512 1120h5M517 1128h4M512 1134h5M512 1136h5M508 1140h4M508 1150h4M512 1162h5M512 1170h5M512 1172h5M517 1178h4M503 1180h5M508 1186h4M503 1196h5M508 1198h4M512 1200h5M512 1202h5M512 1210h5M512 1226h5M508 1230h4M512 1240h5M512 1248h5M512 1256h5M517 1274h4M517 1276h4M517 1280h4M517 1284h4M512 1292h5M508 1296h4M508 1302h4M512 1320h5M508 1324h4M508 1344h4M512 1346h5M517 1348h4M508 1350h4M508 1358h4M517 1378h4M503 1392h5M508 1396h4M508 1400h4M503 1402h5M503 1404h5M503 1412h5M512 1414h5M512 1418h5M508 1424h4M512 1426h5M498 1432h5M512 1434h5M512 1442h5M503 1446h5M512 1448h5M512 1452h5M503 1456h5M508 1460h13M517 1462h4M512 1464h5M512 1466h5M503 1470h5M508 1474h4M508 1482h4M512 1518h5M512 1524h5M517 1526h4M517 1528h4M512 1536h5M512 1538h5M512 1544h5M512 1548h5M503 1552h5"/>
<path stroke="#ff8400" d="M307 122h25M430 122h9M447 126h8M274 136h33M439 138h8M307 144h25M274 152h33M439 160h8M447 180h8M307 182h25M307 204h25M307 246h25M307 254h25M430 266h9M439 268h8M307 278h25M430 278h9M307 282h25M447 290h8M447 294h8M307 296h25M307 308h25M430 312h9M430 330h9M274 336h33M274 338h33M439 350h8M307 352h25M430 378h9M430 406h9M439 418h8M430 428h9M274 430h33M430 450h9M439 458h8M430 466h17M274 490h33M420 496h10M274 498h33M274 506h33M430 506h9M430 508h9M274 520h33M430 520h9M430 528h9M430 536h9M430 538h17M439 542h8M430 574h9M430 608h9M274 620h33M439 622h8M420 626h10M430 642h9M274 654h33M274 688h33M430 714h9M274 728h33M274 732h33M420 734h10M430 740h9M274 748h33M439 748h8M420 762h10M274 768h33M274 770h33M274 788h33M274 796h33M430 798h9M439 824h8M430 844h9M430 854h9M274 866h33M274 872h33M430 872h9M430 876h9M430 900h9M151 916h78M430 922h9M274 950h33M439 960h8M447 972h8M439 980h8M430 982h9M229 988h45M274 992h33M430 1004h9M229 1008h45M229 1016h45M430 1018h9M430 1020h9M430 1078h9M151 1092h78M439 1118h8M430 1120h9M51 1128h100M430 1144h9M430 1148h9M229 1166h45M151 1168h123M439 1186h8M430 1198h9M151 1202h78M151 1222h78M439 1232h8M430 1236h9M439 1238h8M420 1252h10M439 1256h8M229 1300h45M51 1326h100M439 1330h8M420 1340h10M151 1348h123M151 1368h123M51 1372h100M151 1374h78M151 1384h123M430 1384h9M151 1388h78M151 1390h123M430 1394h9M151 1396h123M151 1398h123M51 1404h100M51 1412h100M51 1426h100M430 1442h9M151 1444h78M439 1446h8M229 1448h45M430 1454h9M229 1456h45M51 1470h100M229 1474h45M420 1474h10M229 1478h45M229 1488h45M430 1498h9M229 1504h78M51 1530h100M229 1540h45M229 1544h45"/>
<path stroke="#b00000" d="M420 122h10M430 126h9M430 146h9M409 150h21M430 172h9M420 180h10M420 204h10M409 240h11M307 252h25M420 268h10M420 270h10M307 274h25M420 274h10M439 284h8M420 294h10M420 296h10M409 312h11M420 338h10M307 340h25M307 342h25M420 346h10M420 354h10M420 364h10M420 396h10M420 412h10M420 446h10M420 460h10M420 462h10M420 466h10M307 484h25M307 498h25M420 520h10M307 546h25M409 572h11M420 586h10M420 588h10M409 590h11M420 614h10M274 616h33M420 656h10M409 658h11M420 662h10M420 664h10M307 666h25M420 670h10M420 698h10M307 710h25M420 720h10M420 732h10M430 766h9M409 770h11M409 772h11M420 776h10M409 796h11M409 800h11M420 844h10M409 846h11M420 850h10M420 860h10M420 870h10M420 916h10M420 918h10M409 946h21M409 956h11M420 958h10M409 978h11M420 996h10M274 1010h33M409 1014h11M274 1018h33M274 1034h33M420 1036h10M307 1038h25M409 1052h11M409 1062h11M274 1076h33M420 1092h10M420 1114h10M420 1132h10M274 1148h33M274 1154h33M274 1162h33M420 1166h19M420 1190h10M420 1196h10M409 1216h11M151 1232h123M274 1248h33M420 1256h10M409 1282h11M274 1288h33M229 1324h45M274 1340h33M409 1354h21M274 1374h33M409 1384h11M409 1402h11M420 1406h10M409 1428h11M420 1448h10M151 1462h78M229 1464h45M420 1464h10M409 1466h11M409 1476h11M409 1484h21M420 1522h10M420 1524h10"/>
<path stroke="#ffc400" d="M439 122h8M439 126h8M307 138h25M274 154h33M439 170h8M307 176h25M307 178h25M307 192h25M439 192h8M447 212h8M439 222h8M307 230h25M274 232h33M430 240h17M447 242h8M307 244h25M439 256h8M430 264h9M439 274h8M439 276h8M439 282h8M274 294h33M274 300h33M274 344h33M447 352h8M430 354h9M274 368h33M439 378h8M439 382h8M447 398h8M430 400h9M274 402h33M274 408h33M439 436h8M430 452h9M447 456h8M439 462h8M274 466h33M430 484h9M439 494h8M229 508h45M274 518h33M274 538h33M439 546h8M274 562h33M439 566h8M439 568h8M447 578h8M439 580h8M274 586h33M430 594h9M274 604h33M274 618h33M274 622h33M274 628h33M274 638h33M430 638h9M274 640h33M430 648h9M274 656h33M439 656h8M439 660h8M430 670h9M151 672h78M430 674h9M274 678h33M151 684h123M274 702h33M447 718h8M274 724h33M430 734h9M274 740h33M274 760h33M447 768h8M439 770h8M274 772h33M430 772h9M420 798h10M439 800h8M151 802h78M439 806h8M151 824h78M151 828h123M439 836h8M274 870h33M430 890h9M439 908h8M229 918h45M439 918h8M439 922h8M151 940h123M439 946h8M51 958h100M274 968h33M439 978h8M430 984h9M229 990h45M151 994h78M439 998h8M229 1002h45M229 1024h45M430 1038h9M439 1040h8M274 1064h33M430 1066h9M151 1070h78M151 1074h78M151 1078h78M447 1088h8M229 1090h45M151 1108h78M229 1112h45M151 1120h78M439 1124h8M151 1132h78M430 1132h9M151 1136h78M430 1136h9M151 1142h123M151 1144h78M430 1156h9M439 1164h8M430 1176h9M430 1194h9M151 1200h123M51 1202h100M274 1206h33M430 1206h9M430 1208h9M430 1212h9M151 1220h123M430 1224h17M439 1226h16M439 1240h8M151 1266h78M229 1270h45M430 1274h9M439 1278h8M151 1282h78M439 1310h8M439 1316h8M51 1320h100M447 1322h8M151 1334h123M439 1338h8M439 1340h8M439 1344h8M51 1346h100M51 1354h100M430 1364h9M430 1366h9M151 1400h123M447 1406h8M430 1408h9M51 1418h100M51 1446h100M51 1452h100M439 1452h16M51 1454h100M51 1458h100M51 1460h100M430 1460h9M439 1462h8M447 1472h8M151 1476h78M229 1486h45M51 1490h100M51 1494h100M51 1502h100M51 1508h100M430 1510h9M439 1520h8M51 1538h100"/>
<path stroke="#e9ff16" d="M447 122h8M274 140h33M447 152h8M229 154h45M274 166h33M447 166h8M274 170h33M229 172h78M455 182h7M274 188h33M447 214h8M447 222h8M447 228h8M274 230h33M274 248h33M274 252h33M447 264h8M447 272h8M274 276h33M274 278h33M274 286h33M447 288h8M274 296h33M274 298h33M447 318h8M447 320h8M274 328h33M455 332h7M151 336h78M439 346h8M229 350h45M274 364h33M439 392h8M274 396h33M229 418h45M274 420h33M439 422h16M439 428h8M307 438h25M439 472h8M229 476h45M439 476h8M439 480h8M274 496h33M447 502h8M447 518h8M439 520h8M439 524h8M151 538h123M151 552h78M439 552h8M274 556h33M274 560h33M447 560h8M439 562h8M447 564h8M439 574h8M447 586h8M151 598h78M151 600h78M229 606h45M447 610h8M439 612h8M229 614h45M447 616h8M447 618h8M430 622h9M447 624h8M447 632h8M439 638h8M274 646h33M455 648h7M274 650h33M439 650h8M151 654h78M151 658h78M274 660h33M229 664h45M151 674h78M439 674h8M151 688h123M439 694h8M274 696h33M430 708h9M439 718h8M229 724h45M151 734h123M274 736h33M430 736h9M430 738h9M439 742h8M439 746h8M274 752h33M439 772h8M151 782h78M229 784h45M455 790h7M151 800h123M439 804h8M229 830h45M151 838h123M439 842h8M447 844h8M447 846h8M274 852h33M439 856h8M447 860h8M439 862h8M229 880h45M447 894h8M447 904h8M447 910h8M151 912h78M447 914h8M447 918h8M447 934h8M229 948h45M447 978h8M439 982h8M229 1010h45M439 1012h8M439 1032h8M151 1042h78M274 1046h33M229 1048h45M51 1054h100M151 1058h78M439 1062h8M51 1082h100M229 1096h45M229 1098h45M439 1114h8M447 1128h8M430 1138h9M439 1140h8M439 1144h8M151 1150h78M229 1152h45M439 1156h8M51 1162h100M51 1168h100M447 1170h8M439 1172h8M151 1176h78M447 1182h8M51 1194h100M229 1198h45M447 1222h8M51 1238h100M51 1244h100M229 1250h45M439 1252h8M151 1256h78M447 1282h8M229 1286h45M447 1298h8M51 1304h100M51 1306h100M229 1308h45M439 1312h8M430 1318h9M439 1322h8M51 1342h100M51 1344h100M51 1348h100M51 1350h100M447 1350h8M151 1356h78M151 1358h78M151 1360h123M229 1362h45M447 1366h8M151 1376h78M51 1386h100M439 1386h8M229 1410h45M51 1432h100M439 1434h8M51 1436h100M430 1436h9M439 1444h8M447 1446h8M439 1454h8M51 1456h100M430 1458h9M447 1464h8M430 1470h17M439 1474h8M51 1480h178M439 1486h8M447 1490h8M439 1516h8M439 1522h8M455 1522h7M455 1536h7M439 1540h8M447 1542h8M51 1544h100M51 1548h100M51 1552h100M447 1552h8"/>
<path stroke="#57ffa8" d="M455 122h7M229 124h45M469 124h6M274 128h33M229 132h45M455 132h7M475 136h6M462 140h7M229 142h45M455 148h14M151 160h78M481 160h6M462 162h7M151 170h78M469 170h6M455 172h7M469 172h6M487 172h6M481 174h6M469 178h6M274 182h33M274 184h33M447 192h8M462 192h7M455 202h14M151 204h78M469 204h6M469 206h6M487 210h6M455 212h7M274 214h33M447 218h8M462 218h7M229 228h45M462 228h7M462 230h7M229 232h45M151 236h78M462 236h7M462 238h7M151 240h123M455 246h7M455 248h14M462 254h7M469 256h6M455 260h7M455 268h7M151 270h78M229 274h45M455 274h14M151 276h123M51 282h100M229 286h45M51 292h100M51 296h100M462 304h7M469 314h6M151 316h78M462 322h7M475 324h6M462 328h7M455 330h7M462 334h7M481 334h6M469 346h6M455 356h7M51 372h100M274 374h33M455 376h7M51 378h100M455 380h7M229 384h45M151 388h78M151 390h123M487 394h6M229 396h45M447 396h15M439 400h8M151 402h78M51 404h100M455 404h14M462 406h7M455 410h14M447 412h8M51 430h100M274 434h33M274 436h33M481 440h12M51 442h100M229 448h45M462 450h7M51 452h100M455 452h7M455 458h7M462 460h13M455 462h7M455 466h7M469 468h6M481 472h6M462 474h13M475 476h6M51 486h100M462 486h13M151 488h78M455 490h7M455 492h7M229 494h45M469 500h6M462 504h7M498 506h5M51 510h100M151 512h78M455 520h7M51 522h100M51 532h100M481 532h6M469 538h6M469 544h6M151 550h78M455 554h7M447 566h8M51 574h100M151 576h123M469 584h6M151 588h78M447 588h8M462 592h7M51 598h100M469 600h6M455 602h14M455 604h7M455 608h7M151 610h78M51 612h100M455 618h7M151 624h78M51 626h100M462 630h7M462 642h7M51 644h178M455 644h7M51 646h100M51 654h100M469 654h6M455 656h14M455 658h7M51 660h100M51 664h100M455 664h7M151 666h78M447 680h8M462 682h7M462 686h13M455 688h7M151 692h123M151 694h123M469 694h6M151 696h78M447 696h8M51 702h100M455 704h7M469 704h6M151 714h78M469 716h6M51 722h100M455 730h7M439 734h8M447 738h8M455 744h7M469 744h6M469 748h6M151 750h78M229 752h45M439 760h8M151 764h78M447 766h8M51 770h100M455 772h7M469 776h6M51 778h100M51 782h100M462 790h7M455 794h7M475 794h6M455 798h7M455 820h7M447 826h8M51 834h100M447 836h8M455 840h7M469 848h6M229 850h45M51 852h100M229 852h45M462 852h7M475 858h6M151 870h78M51 882h178M51 886h100M229 886h45M455 894h7M462 904h7M481 908h6M51 912h100M51 914h100M462 916h7M462 918h13M455 932h7M51 934h100M455 934h14M455 936h14M447 944h8M455 946h7M151 950h78M447 962h8M462 962h13M447 966h15M462 968h7M51 970h100M469 982h12M447 992h8M475 992h6M462 1002h7M447 1008h8M447 1010h8M455 1030h7M462 1034h13M462 1042h7M469 1044h6M455 1050h7M475 1052h6M487 1054h6M447 1058h8M487 1058h6M462 1060h7M151 1064h123M462 1082h7M455 1088h7M469 1088h6M455 1100h7M469 1102h12M462 1104h7M455 1106h7M481 1110h6M462 1114h7M447 1118h8M469 1134h6M455 1138h7M487 1144h6M51 1148h100M455 1158h7M455 1160h7M455 1162h7M462 1164h7M455 1170h14M462 1172h7M475 1174h6M455 1178h7M455 1180h7M447 1184h8M462 1188h7M455 1194h7M447 1196h8M447 1198h8M439 1204h8M462 1204h7M475 1214h6M462 1230h7M469 1238h12M447 1244h8M469 1244h6M462 1252h13M455 1262h7M493 1264h5M447 1268h8M469 1278h6M447 1286h8M475 1290h6M462 1292h7M469 1306h6M469 1320h6M447 1324h8M462 1324h7M462 1330h7M487 1332h6M455 1334h7M455 1336h7M462 1344h7M487 1348h6M481 1354h6M462 1358h7M455 1362h7M455 1364h7M462 1368h7M469 1380h6M455 1382h7M455 1386h7M447 1388h8M462 1392h7M447 1404h8M447 1416h15M447 1418h8M455 1420h7M455 1434h7M462 1458h7M462 1460h7M469 1464h6M462 1468h7M462 1470h7M462 1472h13M455 1482h7M462 1490h13M455 1492h7M462 1496h7M475 1522h6M447 1544h8M469 1544h6"/>
<path stroke="#f9ff06" d="M274 124h33M274 132h33M439 134h8M274 142h33M455 158h7M455 160h7M455 178h7M274 186h33M455 186h7M447 194h8M447 198h8M274 202h33M307 206h25M447 206h8M447 208h8M274 220h33M274 224h33M439 252h8M439 254h8M274 266h33M430 288h9M274 290h33M439 296h8M455 300h7M439 308h8M151 338h123M151 348h78M447 364h8M447 372h8M307 374h25M430 384h9M274 388h33M439 412h8M307 436h25M274 440h33M274 448h33M151 460h78M151 462h78M274 468h33M439 470h8M151 474h78M274 480h33M151 490h78M430 498h9M274 504h33M447 504h8M151 506h78M447 512h8M274 514h33M439 534h16M274 542h33M447 554h8M439 556h16M455 558h7M274 568h33M447 568h8M274 570h33M151 580h78M274 582h33M229 596h45M151 604h78M151 614h78M151 616h78M430 618h9M439 624h8M439 628h8M447 630h8M439 634h8M439 642h8M447 656h8M439 670h8M51 672h100M439 672h8M455 672h7M447 690h8M430 692h9M430 698h9M274 704h33M447 708h8M455 710h7M439 714h8M430 742h9M447 746h8M151 748h78M151 758h78M151 770h78M229 776h45M439 776h8M229 782h45M439 784h8M455 792h7M51 806h100M274 812h33M439 828h8M430 842h9M274 854h33M447 858h8M439 864h8M447 876h8M151 878h78M439 898h8M439 900h8M151 902h78M151 904h78M439 904h8M51 908h100M439 914h8M430 918h9M439 920h8M439 928h8M151 930h78M439 936h16M439 948h8M439 954h8M274 970h33M274 972h33M439 972h8M439 1008h8M430 1010h17M151 1034h78M439 1054h8M51 1060h100M447 1060h8M447 1062h8M439 1086h8M51 1090h100M447 1090h8M439 1110h8M51 1116h100M151 1124h123M439 1128h8M439 1132h16M439 1136h8M430 1142h9M447 1146h8M229 1150h45M151 1154h78M229 1158h45M439 1160h8M51 1178h100M447 1178h8M229 1188h45M151 1192h78M455 1192h7M229 1194h45M439 1194h8M439 1196h8M439 1210h8M439 1216h8M51 1222h100M447 1240h8M439 1246h8M455 1248h7M151 1250h78M447 1250h8M229 1252h45M447 1258h8M439 1262h8M229 1264h45M447 1280h8M151 1290h78M51 1300h100M439 1302h8M439 1304h8M51 1322h100M455 1324h7M430 1326h9M455 1332h7M439 1342h8M439 1348h16M229 1356h45M229 1358h45M439 1358h8M151 1362h78M430 1362h9M51 1380h100M51 1384h100M447 1390h8M51 1392h100M51 1398h100M447 1408h8M51 1420h100M151 1428h78M439 1436h8M439 1448h8M447 1460h8M439 1478h8M229 1480h45M51 1504h100M229 1506h45M51 1512h100M51 1514h100M439 1532h8M447 1540h8"/>
<path stroke="#c00000" d="M430 124h9M307 130h25M430 138h9M430 166h9M430 180h9M409 186h21M430 190h9M420 192h10M420 194h10M420 214h10M430 242h9M420 248h10M420 250h10M307 320h25M430 362h9M307 384h25M420 404h10M409 422h11M420 442h10M420 444h10M307 452h25M409 468h11M420 474h10M307 476h25M420 478h10M430 480h9M307 482h25M420 482h10M307 490h25M420 504h10M420 506h10M420 514h10M430 532h9M307 548h25M420 562h10M420 564h10M420 566h10M420 568h10M420 592h10M420 612h10M274 614h33M420 634h10M420 648h10M409 650h11M420 668h10M420 684h10M409 698h11M420 700h10M274 720h33M409 722h11M420 756h10M307 764h25M420 772h10M430 784h9M420 790h10M420 804h10M409 864h11M307 886h25M420 894h10M274 918h33M409 944h11M274 948h33M420 968h10M420 980h10M409 984h11M420 986h10M409 1006h11M409 1012h11M274 1014h33M409 1022h11M420 1028h10M307 1032h25M274 1042h33M420 1042h10M274 1044h33M420 1052h10M420 1054h10M430 1060h9M409 1078h11M420 1084h10M274 1088h33M420 1104h10M229 1116h45M420 1116h10M420 1130h10M420 1154h10M409 1160h11M274 1172h33M409 1176h21M420 1186h10M274 1210h33M274 1214h33M420 1222h10M274 1224h33M409 1230h11M420 1240h10M274 1260h33M274 1264h33M420 1268h10M420 1270h10M420 1272h10M274 1318h33M274 1322h33M420 1322h10M151 1324h78M420 1330h10M409 1358h11M274 1368h33M420 1368h10M274 1376h33M274 1386h33M420 1388h10M409 1392h11M229 1404h45M409 1404h11M409 1406h11M420 1432h10M420 1438h10M420 1442h10M151 1464h78M274 1468h33M409 1512h11M51 1520h100M151 1526h78M420 1534h10M229 1542h45M420 1548h10M420 1552h10"/>
<path stroke="#0073ff" d="M503 124h5M503 128h5M493 134h5M503 140h5M503 144h5M503 158h5M503 162h5M508 166h4M508 176h4M493 180h5M503 180h5M498 192h5M51 198h100M503 202h5M508 210h4M498 216h10M498 220h5M493 222h5M493 224h5M503 226h5M508 230h4M508 250h4M498 252h5M51 288h100M508 292h4M498 300h5M498 306h5M498 310h5M498 318h5M508 322h4M503 326h5M487 328h6M508 328h4M498 330h10M503 334h5M503 346h5M503 364h5M508 366h4M503 374h5M481 376h6M508 380h4M503 384h5M51 390h100M498 390h5M503 398h5M508 400h4M503 402h5M508 406h4M503 408h5M493 414h15M498 422h5M508 424h4M503 430h5M493 432h5M493 438h10M503 446h5M508 448h4M508 454h4M498 456h5M498 458h5M498 460h10M498 464h10M508 470h4M493 476h5M498 480h5M493 482h5M508 484h4M508 488h4M508 490h4M503 498h5M503 518h5M508 520h4M487 536h6M498 540h5M498 542h5M508 548h4M493 550h5M508 556h4M508 572h4M498 578h5M503 582h5M512 584h5M493 588h5M508 588h4M503 592h5M508 594h4M508 598h4M503 604h5M498 608h5M508 610h4M508 618h4M508 630h4M487 634h6M508 634h4M498 642h10M503 672h5M508 674h4M498 682h5M503 688h5M493 694h5M503 696h9M503 698h5M493 702h10M493 706h15M508 708h4M508 712h4M508 718h4M508 724h4M508 728h4M508 732h4M503 734h5M493 738h5M503 750h5M508 754h4M498 764h5M508 768h4M508 780h4M508 788h4M503 806h5M481 810h6M498 816h5M508 816h4M508 830h4M487 832h6M503 832h5M493 850h5M508 862h4M498 870h5M503 876h5M498 878h5M503 906h5M512 908h5M508 910h4M498 932h5M508 936h4M487 954h6M503 954h9M508 988h4M508 990h4M508 996h4M508 1002h4M508 1008h4M508 1018h4M503 1020h5M508 1022h4M508 1026h4M503 1034h5M493 1044h10M498 1052h10M503 1054h5M498 1064h5M498 1066h5M498 1072h5M481 1076h6M503 1076h5M508 1078h4M498 1090h5M503 1094h5M498 1100h5M498 1104h10M508 1106h4M508 1110h4M508 1112h4M508 1136h4M503 1140h5M493 1150h5M508 1152h4M493 1154h5M503 1156h5M503 1158h5M508 1172h4M503 1174h5M498 1196h5M508 1202h4M503 1208h5M481 1218h6M498 1222h5M508 1228h4M503 1230h5M503 1232h5M508 1234h4M498 1240h5M508 1242h4M498 1250h5M508 1258h4M508 1260h4M493 1270h5M481 1272h12M508 1274h4M512 1280h5M508 1286h4M508 1292h4M498 1302h5M508 1308h4M508 1320h4M498 1324h5M512 1330h5M503 1350h5M508 1352h4M508 1354h4M503 1358h5M503 1360h5M503 1370h5M503 1374h9M503 1378h5M498 1380h5M493 1392h5M508 1398h4M498 1402h5M498 1406h10M487 1408h6M498 1410h5M503 1416h5M508 1418h4M503 1420h5M498 1422h5M508 1422h4M493 1424h5M469 1430h6M503 1436h5M508 1442h4M498 1446h5M498 1456h5M508 1458h4M498 1460h5M503 1474h5M498 1478h5M481 1484h6M508 1484h4M503 1488h5M503 1504h5M493 1518h5M503 1518h5M498 1522h5M498 1524h10M508 1530h4M508 1536h4M508 1540h4M508 1542h4M508 1546h4M508 1550h4"/>
<path stroke="#f10000" d="M307 128h25M430 132h9M430 158h9M307 172h25M307 174h25M430 192h9M430 200h9M420 238h10M307 240h25M420 242h10M430 270h9M307 272h25M420 272h10M420 284h10M420 288h10M307 294h25M430 294h9M307 300h25M420 302h10M420 308h10M420 320h10M307 334h25M430 342h9M307 344h25M430 360h9M430 364h9M420 378h10M420 386h10M307 394h25M307 402h25M420 410h10M307 426h25M420 428h10M420 430h10M409 442h11M420 458h10M307 486h25M307 500h25M307 514h25M420 528h10M409 534h21M409 542h11M430 554h9M420 558h10M409 560h11M430 564h9M420 572h10M430 592h9M420 600h10M420 604h10M420 618h10M420 620h10M420 654h10M430 676h9M307 708h25M420 710h10M420 712h10M420 726h10M420 750h10M430 758h9M420 760h10M409 790h11M420 794h10M420 826h10M420 834h10M420 846h10M420 858h10M420 872h10M307 882h25M420 888h10M409 894h11M430 898h9M430 902h9M420 904h10M420 906h10M430 908h9M274 928h33M420 940h10M420 944h10M274 960h33M420 962h10M229 964h45M229 968h45M229 976h45M430 976h9M229 978h45M420 1002h10M430 1008h9M420 1074h10M420 1088h10M420 1100h10M420 1108h10M420 1122h10M274 1124h33M420 1126h10M430 1130h9M274 1134h33M430 1172h9M420 1174h10M274 1176h33M420 1178h19M274 1184h33M274 1190h33M420 1198h10M420 1204h10M420 1212h10M420 1216h10M409 1224h11M151 1228h78M430 1230h9M409 1242h11M151 1276h78M420 1282h10M229 1292h45M420 1310h10M229 1320h45M151 1326h78M151 1332h123M420 1332h10M420 1344h10M229 1346h45M420 1356h10M274 1406h33M274 1412h33M430 1416h9M420 1418h10M420 1436h10M274 1446h33M151 1460h78M409 1474h11M420 1480h10M420 1482h10M274 1486h33M420 1494h19M274 1498h33M420 1512h10M430 1518h9M151 1530h123M420 1536h10M151 1542h78M420 1546h10"/>
<path stroke="#d00000" d="M420 128h10M307 184h25M430 212h9M430 220h9M307 222h25M420 244h10M420 246h10M420 256h10M420 300h10M307 302h25M307 322h25M409 336h11M307 346h25M307 358h25M420 376h10M420 382h10M420 400h10M307 420h25M420 422h10M420 432h10M409 454h11M307 480h25M420 480h10M420 490h10M420 494h10M307 502h25M420 508h10M420 510h10M420 526h10M409 530h21M420 532h10M420 536h10M420 542h10M409 544h11M409 564h11M409 566h11M420 574h10M420 602h10M420 608h10M420 622h10M430 644h9M420 682h10M420 694h10M409 706h11M420 728h10M307 736h25M420 742h10M409 756h11M409 764h11M409 768h11M420 816h10M430 820h9M420 822h10M420 836h10M307 844h25M420 854h10M420 856h10M430 884h9M420 898h10M274 914h33M420 926h10M420 930h10M430 934h9M274 956h33M420 960h10M409 962h11M420 998h10M274 1012h33M420 1014h10M420 1026h10M420 1034h10M420 1040h19M409 1048h11M430 1054h9M420 1076h10M430 1090h9M274 1096h33M409 1102h11M409 1114h11M151 1116h78M409 1120h11M274 1132h33M409 1148h21M274 1196h33M420 1206h10M274 1220h33M420 1228h10M420 1232h10M420 1236h10M274 1250h33M274 1254h33M420 1260h10M409 1262h11M420 1296h10M420 1306h10M420 1314h10M420 1326h10M151 1330h78M420 1336h10M274 1360h33M420 1384h10M430 1386h9M274 1390h33M420 1390h10M274 1400h33M151 1404h78M151 1414h78M274 1432h33M420 1454h10M274 1456h33M420 1458h10M151 1472h123M409 1478h11M409 1480h11M420 1486h10M420 1496h10M51 1518h100M151 1528h78M409 1532h11M151 1534h123M420 1538h10"/>
<path stroke="#ff0200" d="M430 128h9M430 140h9M430 194h9M307 200h25M430 218h9M420 230h10M307 288h25M420 290h10M307 304h25M307 306h25M430 310h9M420 318h10M420 324h10M430 336h9M430 344h9M420 360h10M420 374h10M307 396h25M420 402h10M430 404h9M307 408h25M409 408h11M307 416h25M307 422h25M420 424h10M307 430h25M430 440h9M307 460h25M430 468h9M409 482h11M420 492h10M307 494h25M430 500h9M430 510h9M420 516h10M307 534h25M307 540h25M307 542h25M307 560h25M420 606h19M430 610h9M409 612h11M420 650h10M420 686h19M409 688h11M420 696h10M420 716h10M307 738h25M430 744h9M420 748h10M420 754h10M420 782h10M420 796h10M420 802h10M420 810h10M420 862h10M420 866h10M420 876h10M307 884h25M274 896h33M420 934h10M274 940h33M420 952h10M430 958h9M420 972h10M229 974h78M420 974h10M420 976h10M229 986h45M420 988h10M420 1018h10M420 1020h10M274 1022h33M420 1030h10M229 1054h45M274 1062h33M420 1078h10M430 1092h9M420 1098h10M430 1100h9M420 1106h10M151 1118h123M420 1118h10M409 1124h11M420 1138h10M409 1144h11M274 1158h33M274 1170h33M274 1182h33M420 1192h10M420 1210h10M420 1214h10M420 1224h10M430 1226h9M229 1228h45M420 1230h10M274 1236h33M420 1246h10M274 1252h33M420 1262h10M430 1272h9M420 1294h10M420 1300h10M151 1314h123M430 1314h9M229 1322h45M151 1346h78M151 1352h78M420 1352h10M430 1382h9M430 1392h9M420 1402h10M420 1404h10M420 1414h10M420 1416h10M229 1426h45M420 1428h10M51 1440h100M420 1440h10M151 1446h78M420 1456h10M229 1460h45M274 1484h33M420 1508h10M307 1550h25M420 1550h10M151 1554h123M151 1556h123"/>
<path stroke="#c8ff37" d="M439 128h8M447 132h8M469 132h6M229 136h45M274 148h33M151 154h78M151 156h78M447 158h8M229 176h45M439 178h8M447 182h8M229 200h45M455 218h7M455 224h7M455 236h7M274 238h33M439 244h8M447 254h8M274 260h33M455 262h7M439 264h8M151 268h78M455 278h7M274 282h33M151 290h78M151 292h78M455 296h7M151 300h78M447 300h8M229 302h45M274 314h33M439 320h8M439 324h8M447 328h15M447 342h8M151 350h78M274 350h33M151 360h78M447 362h8M455 368h7M455 374h7M274 376h33M447 376h8M51 380h100M274 382h33M455 394h7M151 404h78M455 406h7M447 414h8M151 418h78M439 426h8M447 432h8M439 438h8M447 452h8M151 458h123M447 462h8M151 470h78M455 474h7M447 484h8M439 492h8M151 498h123M274 502h33M447 514h8M447 516h8M229 520h45M447 522h8M229 530h45M151 534h78M447 546h8M274 548h33M229 554h45M274 558h33M151 562h123M455 570h7M439 576h8M455 600h7M151 606h78M439 608h8M229 620h45M229 630h45M51 642h178M447 642h8M274 644h33M274 648h33M229 654h45M51 656h100M229 668h45M439 668h8M51 674h100M447 688h8M439 696h8M455 700h7M455 712h7M51 718h100M274 718h33M229 720h45M455 720h7M447 732h8M274 738h33M229 744h45M51 748h100M430 754h9M229 760h45M447 764h8M447 772h8M151 774h78M439 774h16M439 778h8M447 780h8M151 784h78M439 788h8M439 794h8M439 798h8M447 800h8M439 802h8M447 808h8M51 820h100M447 820h8M447 828h8M439 830h8M51 836h100M439 844h8M151 846h78M229 856h45M439 876h8M51 878h100M439 882h8M447 886h8M447 898h8M229 902h45M447 906h8M229 926h45M447 928h8M51 930h100M447 940h8M151 948h78M229 954h45M455 954h7M439 968h8M455 990h7M151 1006h78M51 1008h100M51 1012h100M439 1020h8M51 1034h100M151 1038h78M439 1042h8M151 1048h78M51 1052h100M439 1056h8M447 1068h8M447 1074h8M439 1088h8M51 1094h100M51 1100h100M151 1102h78M439 1102h8M229 1104h45M447 1110h8M447 1116h8M151 1122h78M51 1132h100M229 1148h45M151 1152h78M51 1156h178M447 1156h8M51 1160h100M447 1162h8M51 1164h100M447 1164h8M51 1166h100M447 1168h8M51 1170h100M51 1172h100M229 1176h45M447 1186h8M151 1210h78M447 1210h8M51 1212h100M447 1214h8M455 1216h7M439 1220h8M447 1224h8M455 1226h7M439 1244h8M51 1248h100M51 1260h100M51 1264h100M447 1266h8M51 1282h100M51 1286h178M455 1286h7M455 1296h7M51 1302h100M447 1308h15M447 1312h8M439 1326h8M51 1338h100M229 1342h45M447 1346h8M51 1356h100M439 1368h8M439 1370h8M51 1374h100M439 1376h8M447 1382h8M447 1410h8M439 1418h8M455 1428h7M51 1430h100M455 1440h7M447 1448h8M447 1458h8M447 1468h8M51 1478h100M439 1488h8M455 1496h7M439 1534h8M439 1536h8"/>
<path stroke="#ffe500" d="M447 128h8M439 146h16M439 152h8M274 160h33M447 160h8M455 166h7M447 170h8M151 174h78M274 178h33M307 180h25M439 188h8M447 204h8M447 210h8M439 212h8M274 216h33M447 230h8M455 242h7M447 250h8M439 262h8M439 266h8M439 270h8M274 274h33M439 278h8M274 292h33M439 298h8M439 310h16M439 312h16M439 326h8M274 330h33M274 332h33M229 336h45M439 340h8M274 346h33M274 348h33M447 348h8M274 360h33M274 362h33M307 376h25M439 386h8M307 400h25M447 408h8M274 410h33M274 422h33M430 424h17M447 426h8M447 434h8M274 446h33M447 460h8M439 464h8M229 474h45M447 476h8M447 478h8M274 488h33M439 488h8M229 490h45M447 490h8M439 506h8M151 528h78M274 530h33M274 540h33M430 540h9M439 550h8M430 558h9M447 562h8M447 574h8M274 578h33M229 580h45M430 588h9M439 590h8M439 594h8M439 600h8M274 610h33M439 632h8M274 652h33M151 662h123M430 666h9M151 670h123M439 676h8M439 684h16M229 686h45M274 690h33M274 694h33M430 718h9M447 722h8M439 728h8M274 754h33M274 764h33M151 768h78M274 786h33M439 792h8M151 804h123M430 806h9M430 810h9M439 818h8M439 820h8M439 822h8M151 832h78M430 838h9M151 840h78M151 866h123M274 880h33M430 886h17M430 896h9M151 898h123M274 900h33M455 904h7M151 910h78M151 914h78M274 926h33M439 926h8M229 928h45M439 932h8M430 950h9M430 960h9M439 974h8M439 984h8M430 990h9M439 992h8M439 1002h8M439 1018h8M229 1022h45M51 1026h100M229 1030h45M229 1034h45M229 1040h45M447 1042h8M439 1046h8M439 1052h8M229 1068h45M51 1074h100M151 1076h123M51 1078h100M439 1078h8M151 1080h78M439 1092h8M229 1106h45M51 1110h100M151 1112h78M151 1114h78M447 1114h8M51 1118h100M439 1126h8M151 1134h123M439 1134h8M51 1144h100M229 1144h45M439 1146h8M439 1154h8M229 1180h45M229 1190h45M229 1192h45M151 1194h78M151 1196h123M455 1228h7M439 1234h8M439 1236h8M51 1242h100M151 1248h78M151 1252h78M229 1256h45M51 1258h100M229 1260h45M151 1262h78M229 1272h45M51 1278h100M439 1284h8M430 1290h9M151 1308h78M229 1310h45M51 1316h100M51 1328h100M51 1330h100M447 1356h8M447 1376h8M51 1378h100M439 1390h8M51 1396h100M439 1422h8M439 1426h8M229 1428h45M229 1430h45M51 1434h100M439 1440h8M439 1466h8M439 1476h8M51 1484h100M151 1486h78M439 1510h8M430 1522h9M51 1524h100M430 1538h9M447 1546h8M439 1548h8"/>
<path stroke="#ff2200" d="M430 130h9M307 148h25M430 160h9M430 162h9M307 170h25M430 178h9M307 196h25M439 206h8M307 210h25M430 238h9M430 246h9M430 248h9M430 250h9M307 262h25M430 268h9M430 284h9M439 314h8M430 324h9M420 332h10M430 334h9M307 360h25M307 404h25M420 408h10M420 414h10M420 420h10M430 432h9M420 468h10M274 472h33M307 492h25M420 512h10M307 516h25M430 524h9M420 544h10M439 592h8M274 594h33M420 598h10M430 620h9M430 628h9M274 634h33M420 658h10M274 684h33M274 686h33M430 696h9M430 702h9M420 722h10M420 724h10M420 752h10M430 760h9M420 768h10M420 786h10M420 800h10M274 820h33M274 832h33M420 838h10M439 858h8M420 880h10M420 890h10M430 892h9M274 898h33M455 908h7M274 912h33M274 938h33M430 938h9M420 942h10M430 946h9M420 956h10M151 960h78M229 962h45M274 966h33M430 968h9M420 970h10M430 974h9M151 976h78M151 978h78M430 978h9M420 982h10M229 992h45M420 1004h10M151 1020h123M430 1028h9M274 1032h33M430 1036h9M274 1056h33M430 1064h9M420 1066h10M420 1082h10M430 1110h9M420 1120h10M151 1130h78M420 1146h10M420 1160h10M430 1182h9M430 1184h9M430 1240h9M420 1242h10M420 1248h10M430 1252h9M274 1256h33M420 1264h10M420 1266h10M430 1276h9M420 1278h10M151 1280h78M420 1290h10M151 1296h78M430 1306h9M151 1312h78M420 1320h19M151 1322h78M420 1334h10M430 1348h9M430 1356h9M274 1366h33M420 1370h10M229 1372h45M151 1382h78M430 1396h9M274 1402h33M430 1414h9M430 1444h9M420 1450h10M420 1452h10M420 1462h10M151 1468h78M151 1470h78M229 1490h45M420 1492h10M151 1496h78M420 1498h10M274 1506h33M420 1506h10M274 1514h33M420 1530h10M274 1540h33M430 1542h9"/>
<path stroke="#0084ff" d="M498 130h5M503 132h5M487 134h6M498 134h10M503 142h5M503 148h5M508 150h4M493 154h5M498 162h5M487 180h6M503 182h5M51 184h100M508 186h4M481 192h6M503 194h5M51 208h100M503 208h5M493 216h5M493 220h5M503 220h5M503 228h5M503 242h5M493 244h19M508 246h4M508 248h4M481 252h6M493 252h5M498 256h10M493 260h5M508 264h4M503 266h5M503 270h5M508 278h4M503 282h5M498 284h5M508 290h4M475 296h6M503 298h5M503 302h5M493 306h5M508 312h4M498 314h5M503 316h5M475 318h6M493 328h5M475 330h6M493 330h5M508 332h4M498 334h5M508 338h4M503 354h5M498 356h5M503 368h5M503 372h5M493 376h5M508 376h4M498 392h10M503 396h5M508 404h4M493 406h10M503 410h5M508 416h4M508 418h4M508 426h4M508 428h4M487 438h6M508 442h4M503 444h5M493 450h5M493 458h5M493 460h5M503 472h5M487 482h6M503 488h5M498 492h5M493 496h5M487 502h6M503 504h5M508 508h4M503 510h5M503 512h5M498 514h14M487 522h6M508 526h4M508 534h4M493 536h5M503 536h5M487 538h21M51 548h100M51 550h100M498 558h5M508 560h4M498 564h5M508 566h4M487 572h6M498 574h5M498 576h5M503 586h5M498 622h10M503 624h5M503 628h5M503 632h5M493 634h5M503 640h5M503 644h5M469 648h6M508 650h4M481 652h6M503 656h5M508 660h4M508 662h4M498 666h5M508 668h4M493 672h10M498 680h5M503 686h5M503 690h5M481 694h6M493 696h5M487 700h6M503 700h5M481 702h12M498 704h5M469 722h6M498 722h5M498 726h5M493 728h10M508 742h4M503 744h5M498 748h5M498 750h5M487 752h6M475 762h6M493 762h5M493 764h5M508 766h4M503 770h5M498 774h5M508 778h4M503 784h5M503 790h5M503 792h5M498 794h5M508 794h4M508 800h4M487 810h6M503 812h5M508 818h4M498 822h5M498 828h5M487 830h21M493 832h10M475 836h6M487 840h6M503 846h5M508 852h4M503 856h5M487 862h6M493 866h5M503 868h5M493 870h5M503 872h5M487 888h6M503 888h5M487 892h6M508 894h4M469 896h6M503 896h5M508 898h4M508 902h4M503 912h5M508 916h4M503 924h5M503 934h5M503 936h5M503 940h5M508 948h4M498 960h5M493 972h5M503 978h5M498 988h5M487 990h6M503 992h5M503 994h5M508 998h4M493 1004h10M498 1006h5M508 1014h4M498 1016h5M508 1030h4M503 1040h5M503 1050h5M503 1080h5M493 1086h15M503 1088h5M493 1090h5M503 1090h5M498 1092h14M503 1096h5M508 1098h4M503 1108h5M508 1116h4M508 1120h4M508 1128h4M498 1138h5M498 1140h5M498 1152h5M498 1158h5M498 1162h5M508 1162h4M493 1170h10M487 1178h6M508 1178h4M493 1180h5M475 1182h12M493 1184h5M508 1192h4M503 1198h5M508 1206h4M508 1210h4M493 1218h5M503 1220h5M493 1236h5M498 1242h10M503 1246h5M508 1248h4M503 1252h5M503 1254h5M503 1262h5M481 1270h6M503 1272h5M503 1274h5M498 1288h5M503 1290h5M503 1296h5M508 1300h4M493 1306h5M508 1316h4M493 1324h5M498 1338h5M503 1344h5M498 1358h5M455 1360h7M498 1374h5M493 1378h5M508 1378h4M503 1384h5M498 1390h5M493 1394h5M503 1396h5M503 1398h5M498 1404h5M481 1406h6M481 1408h6M503 1414h5M493 1422h5M503 1422h5M508 1426h4M508 1430h4M508 1450h4M508 1464h4M493 1470h5M508 1472h4M498 1474h5M503 1480h5M503 1482h5M493 1488h5M503 1492h5M503 1494h5M498 1502h5M508 1508h4M498 1512h5M503 1522h5M493 1524h5M503 1532h5M503 1538h5M503 1544h5M508 1548h4M503 1550h5"/>
<path stroke="#ff9400" d="M307 132h25M439 156h8M307 162h25M430 210h9M439 214h8M430 230h9M430 232h17M430 244h9M307 276h25M307 284h25M439 302h8M430 392h9M430 398h9M274 406h33M439 410h8M430 430h9M439 432h8M430 436h9M274 454h33M274 458h33M430 458h9M430 462h9M430 492h9M439 502h8M274 522h33M439 536h8M439 544h8M274 596h33M274 602h33M439 614h8M274 630h33M430 634h9M430 640h17M274 658h33M430 658h9M430 678h9M439 682h8M430 700h17M430 706h17M439 712h8M420 736h10M430 746h9M430 756h9M430 768h9M439 782h8M430 786h9M229 794h45M430 818h9M447 824h8M274 826h33M439 826h8M439 838h8M430 850h9M229 858h45M430 864h9M430 866h9M274 874h33M274 890h33M439 892h8M439 894h8M430 904h9M439 906h8M430 910h9M229 916h45M430 920h9M430 932h9M439 942h8M439 944h8M274 946h33M151 956h123M430 964h9M420 994h10M229 996h45M430 1002h9M151 1026h123M439 1030h8M439 1034h8M151 1036h123M274 1038h33M439 1044h8M274 1048h33M274 1058h33M439 1060h8M151 1082h78M151 1090h78M151 1094h123M439 1098h8M229 1108h45M439 1108h8M430 1114h9M439 1120h8M439 1122h8M274 1138h33M430 1140h9M447 1140h8M439 1150h8M229 1160h45M229 1162h45M151 1164h78M151 1178h123M439 1184h8M430 1186h9M439 1200h8M229 1204h45M430 1210h9M430 1216h9M229 1242h45M151 1246h78M430 1250h9M430 1254h17M430 1262h9M151 1268h123M229 1274h45M430 1278h9M420 1286h19M274 1290h33M430 1292h9M439 1296h8M151 1306h123M439 1324h8M151 1328h78M430 1334h17M430 1342h9M430 1346h9M229 1350h45M430 1354h9M274 1356h33M151 1364h78M439 1364h8M229 1366h45M430 1374h9M430 1380h9M229 1388h45M430 1390h9M430 1398h17M151 1406h78M430 1432h9M229 1444h45M430 1450h9M151 1456h78M430 1462h9M151 1474h78M229 1476h45M151 1478h78M151 1484h78M439 1484h8M439 1490h8M430 1500h9M229 1502h45M151 1512h78M274 1516h33M439 1530h8M51 1534h100M51 1536h100M439 1544h8M439 1552h8M439 1554h8M439 1556h8"/>
<path stroke="#ff6300" d="M307 134h25M307 150h25M274 158h33M439 174h8M307 194h25M439 202h8M430 208h9M307 226h25M307 250h25M430 254h9M447 292h8M430 302h9M430 332h9M420 350h10M430 352h9M439 364h8M430 368h9M430 376h9M307 378h25M420 384h10M439 384h8M430 388h9M274 418h33M274 452h33M439 454h8M430 476h9M430 494h9M430 522h9M430 544h9M430 548h9M430 550h9M430 560h9M430 566h9M274 592h33M420 596h10M274 600h33M430 602h9M430 612h9M439 626h8M430 652h9M430 668h9M420 672h10M420 676h10M274 682h33M420 690h10M420 692h10M409 704h11M439 710h8M430 730h9M420 764h10M274 776h33M439 780h8M274 784h33M430 788h9M274 790h33M274 792h33M274 800h33M430 804h9M439 808h8M430 826h9M420 852h10M274 856h33M274 878h33M420 886h10M274 892h33M151 908h78M430 916h9M430 930h9M420 936h10M151 962h78M439 976h8M430 980h9M274 990h33M430 998h9M274 1004h33M430 1006h9M151 1016h78M51 1018h100M151 1028h123M420 1046h10M274 1050h33M430 1050h9M151 1056h78M151 1060h78M430 1082h9M430 1084h9M151 1088h78M439 1094h8M430 1104h9M151 1110h78M274 1112h33M430 1134h9M430 1170h9M420 1180h19M274 1192h33M430 1202h9M229 1214h45M430 1228h9M151 1244h123M430 1270h9M439 1274h8M151 1298h78M151 1302h123M430 1308h9M229 1316h45M430 1332h9M420 1342h10M151 1350h78M151 1354h78M151 1380h78M51 1416h100M151 1420h78M420 1420h10M430 1446h9M151 1448h78M151 1458h78M229 1492h45M430 1492h9M229 1508h45M430 1530h9M151 1552h123"/>
<path stroke="#ff4300" d="M430 134h9M307 152h25M430 154h9M439 164h8M439 194h8M430 202h9M430 204h17M430 214h9M307 218h25M430 226h9M307 232h25M420 252h19M430 256h9M439 260h8M307 270h25M307 280h25M430 282h9M430 286h9M430 304h9M307 364h25M430 370h9M430 372h9M439 376h8M430 390h9M420 392h10M430 418h9M307 432h25M430 454h9M307 458h25M420 476h10M430 496h9M274 508h33M307 524h25M420 538h10M420 576h10M420 578h10M430 582h9M430 586h9M420 594h10M430 632h9M274 672h33M430 680h9M420 704h10M439 724h8M420 738h10M420 744h10M274 782h33M274 794h33M430 802h9M274 836h33M430 840h9M439 846h8M430 874h9M420 878h10M430 880h9M430 888h9M430 924h9M274 942h33M430 954h9M420 964h10M151 968h78M274 978h33M151 982h78M151 986h78M439 990h8M151 992h78M229 1000h45M439 1004h8M274 1008h33M430 1032h9M274 1052h33M430 1052h9M420 1070h10M430 1072h9M430 1076h9M420 1086h10M430 1102h9M274 1106h33M430 1112h9M420 1124h19M274 1152h33M274 1156h33M420 1156h10M430 1162h9M274 1188h33M430 1190h9M274 1216h33M420 1218h10M430 1244h9M151 1258h78M430 1268h9M151 1278h78M430 1280h9M274 1286h33M430 1294h9M229 1298h45M151 1304h78M151 1338h123M151 1340h123M151 1344h123M420 1350h10M229 1352h45M420 1364h10M229 1370h45M430 1372h9M229 1378h45M420 1382h10M420 1396h10M229 1468h45M430 1468h9M229 1470h45M439 1472h8M420 1478h10M274 1480h33M430 1484h9M151 1490h78M151 1494h78M274 1502h33M430 1512h9M151 1524h78M430 1526h9M229 1538h45M420 1544h10M151 1546h123M151 1548h78M430 1552h9"/>
<path stroke="#900000" d="M420 136h10M420 148h10M420 198h10M420 218h10M409 230h11M420 232h10M307 260h25M420 266h10M420 276h10M409 294h11M409 302h11M420 304h10M307 314h25M420 314h10M409 324h11M420 328h10M409 330h11M307 336h25M409 344h11M420 356h10M420 366h10M409 388h11M307 392h25M409 398h11M409 436h11M409 440h11M409 446h11M409 462h11M307 468h25M420 472h10M409 494h11M409 500h11M307 504h25M409 512h11M409 514h11M307 518h25M409 526h11M420 540h10M420 556h10M307 558h25M420 560h10M307 562h25M420 590h10M307 600h25M409 618h11M307 624h25M420 628h10M409 630h11M420 632h10M420 646h10M409 668h11M307 678h25M409 678h11M307 682h25M409 690h11M307 694h25M409 708h11M409 718h11M409 724h11M409 742h11M409 752h11M409 760h11M307 768h25M307 788h25M420 788h10M420 824h10M307 846h25M409 868h21M307 872h25M409 892h11M409 910h11M409 918h11M307 926h25M409 926h11M409 928h11M409 942h11M229 958h45M409 958h11M409 972h11M409 1020h11M274 1068h33M274 1086h58M420 1112h10M409 1128h11M409 1136h21M420 1162h10M409 1166h11M409 1184h11M409 1186h11M409 1190h11M420 1202h10M274 1204h33M409 1204h11M274 1222h33M151 1240h78M409 1246h11M409 1254h21M420 1258h10M409 1276h11M420 1302h10M274 1324h33M274 1336h33M409 1338h11M409 1352h11M409 1366h11M420 1374h10M274 1382h33M274 1418h33M409 1422h21M307 1436h25M409 1446h21M409 1454h11M274 1476h33M409 1486h11M409 1498h11M409 1506h11M409 1508h11M409 1510h11M409 1516h11M409 1518h11M420 1526h10M274 1532h33M420 1540h10"/>
<path stroke="#800000" d="M430 136h9M409 176h30M409 216h30M430 298h9M274 930h58M274 958h58M274 1000h58M151 1018h123M274 1024h58M274 1026h58M274 1028h58M274 1040h58M274 1054h58M274 1060h58M274 1066h58M274 1074h58M274 1078h58M274 1080h58M274 1084h58M274 1092h58M274 1094h58M274 1104h58M274 1116h58M274 1118h58M274 1120h58M274 1122h58M274 1128h58M274 1130h58M274 1140h58M274 1142h58M274 1160h58M274 1168h58M274 1178h58M274 1180h58M274 1186h58M274 1194h58M274 1202h58M274 1208h58M151 1226h181M274 1228h58M274 1232h58M274 1234h58M274 1238h58M229 1240h103M274 1242h58M274 1244h58M274 1266h58M274 1272h58M274 1274h58M274 1276h58M274 1280h58M274 1284h58M274 1292h58M274 1294h58M274 1296h58M274 1298h58M274 1300h58M274 1302h58M274 1304h58M274 1306h58M274 1312h58M274 1314h58M274 1316h58M274 1320h58M274 1326h58M274 1330h58M274 1332h58M274 1346h58M274 1348h58M274 1350h58M274 1352h58M274 1354h58M274 1364h58M274 1370h58M274 1372h58M274 1378h58M274 1380h58M274 1388h58M274 1392h58M274 1394h58M274 1414h58M274 1416h58M274 1420h58M274 1422h58M274 1424h58M274 1426h58M274 1428h58M274 1430h58M274 1434h58M274 1436h33M151 1438h181M151 1440h181M151 1442h181M274 1444h58M274 1448h58M274 1450h58M274 1452h58M274 1454h58M274 1458h58M274 1460h58M229 1462h103M274 1464h58M274 1466h58M274 1472h58M274 1478h58M274 1488h58M274 1490h58M274 1492h58M274 1496h58M274 1510h58M274 1512h58M151 1518h181M151 1520h181M151 1522h181M274 1524h58M274 1526h58M274 1528h58M274 1530h58M274 1534h58M151 1536h181M274 1542h58M274 1544h58M274 1546h58M274 1548h58M274 1550h33M274 1552h58M274 1554h58M274 1556h58"/>
<path stroke="#ff1200" d="M439 144h8M430 152h9M439 154h8M307 156h25M430 168h9M430 174h9M430 188h9M430 196h9M307 212h25M430 224h9M307 228h25M307 238h25M420 258h19M430 260h9M420 264h10M420 280h10M307 286h25M307 350h25M430 350h9M307 354h25M420 370h10M430 380h9M307 388h25M307 412h25M420 418h10M307 442h25M307 446h25M420 450h10M307 454h25M420 470h10M430 474h9M430 514h9M430 530h9M420 546h10M430 578h9M274 632h33M420 638h10M420 640h10M430 650h9M430 664h9M420 666h10M307 706h25M430 710h9M430 722h9M430 752h9M420 774h10M307 786h25M409 806h11M420 808h10M420 814h19M420 820h10M430 828h9M420 830h10M430 856h9M274 858h33M420 896h10M420 902h10M274 908h33M420 908h10M420 920h10M420 932h10M420 938h10M307 950h25M151 964h78M274 976h33M420 978h10M274 980h33M274 986h33M274 998h33M274 1002h33M420 1012h10M420 1022h10M420 1032h10M274 1036h33M420 1044h10M151 1054h78M420 1056h19M430 1058h9M274 1082h33M420 1094h10M420 1096h10M409 1106h11M274 1110h33M430 1122h9M151 1128h123M274 1136h33M420 1152h10M430 1158h9M430 1160h9M420 1164h10M420 1188h10M274 1200h33M420 1234h10M420 1250h10M430 1260h9M420 1274h10M229 1276h45M274 1282h33M420 1284h10M151 1292h78M151 1294h78M229 1296h45M430 1304h9M420 1324h10M274 1338h33M420 1338h10M430 1344h9M420 1348h10M430 1350h9M430 1352h9M274 1362h33M430 1368h9M420 1376h10M151 1392h78M274 1398h33M430 1400h9M151 1412h123M151 1422h78M151 1426h78M430 1428h9M51 1442h100M151 1450h78M430 1456h9M420 1466h10M420 1472h10M274 1474h33M420 1476h10M229 1496h45M430 1502h9M420 1510h10M430 1516h9M420 1520h10M420 1528h10M420 1532h10M430 1548h9"/>
<path stroke="#0000b0" d="M543 184h5M543 400h5M540 558h8M536 628h7M543 638h5M529 736h11M536 738h4M543 738h5M543 882h5M543 888h5M543 984h5M543 1152h5M543 1184h5M543 1342h5M543 1406h5M543 1430h5M533 1532h15"/>
<path stroke="#0000a0" d="M543 628h5"/>
</g>
</g>
<rect x="128" y="115" width="1" height="1439" fill="#888"/>
<rect x="174" y="115" width="1" height="1439" fill="#888"/>
<rect x="206" y="115" width="1" height="1439" fill="#888"/>
<rect x="231" y="115" width="1" height="1439" fill="#888"/>
<rect x="252" y="115" width="1" height="1439" fill="#888"/>
<rect x="269" y="115" width="1" height="1439" fill="#888"/>
<rect x="284" y="115" width="1" height="1439" fill="#888"/>
<rect x="297" y="115" width="1" height="1439" fill="#888"/>
<rect x="309" y="115" width="1" height="1439" fill="#000"/>
<rect x="387" y="115" width="1" height="1439" fill="#888"/>
<rect x="432" y="115" width="1" height="1439" fill="#888"/>
<rect x="465" y="115" width="1" height="1439" fill="#888"/>
<rect x="490" y="115" width="1" height="1439" fill="#888"/>
<rect x="510" y="115" width="1" height="1439" fill="#888"/>
<rect x="527" y="115" width="1" height="1439" fill="#888"/>
<rect x="542" y="115" width="1" height="1439" fill="#888"/>
<rect x="556" y="115" width="1" height="1439" fill="#888"/>
<rect x="568" y="115" width="1" height="1439" fill="#000"/>
<rect x="645" y="115" width="1" height="1439" fill="#888"/>
<rect x="691" y="115" width="1" height="1439" fill="#888"/>
<rect x="723" y="115" width="1" height="1439" fill="#888"/>
<rect x="748" y="115" width="1" height="1439" fill="#888"/>
<rect x="769" y="115" width="1" height="1439" fill="#888"/>
<rect x="786" y="115" width="1" height="1439" fill="#888"/>
<rect x="801" y="115" width="1" height="1439" fill="#888"/>
<rect x="814" y="115" width="1" height="1439" fill="#888"/>
<rect x="826" y="115" width="1" height="1439" fill="#000"/>
<rect x="904" y="115" width="1" height="1439" fill="#888"/>
<rect x="50" y="114" width="901" height="1" fill="#000"/>
<rect x="50" y="114" width="1" height="1441" fill="#000"/>
<rect x="50" y="1554" width="901" height="1" fill="#000"/>
<rect x="950" y="115" width="1" height="1439" fill="#9a9686"/>
<rect x="38" y="1554" width="12" height="1" fill="#000"/>
<rect x="951" y="1554" width="12" height="1" fill="#000"/>
<rect x="44" y="1544" width="6" height="1" fill="#000"/>
<rect x="951" y="1544" width="6" height="1" fill="#000"/>
<rect x="44" y="1534" width="6" height="1" fill="#000"/>
<rect x="951" y="1534" width="6" height="1" fill="#000"/>
<rect x="44" y="1524" width="6" height="1" fill="#000"/>
<rect x="951" y="1524" width="6" height="1" fill="#000"/>
<rect x="44" y="1514" width="6" height="1" fill="#000"/>
<rect x="951" y="1514" width="6" height="1" fill="#000"/>
<rect x="44" y="1504" width="6" height="1" fill="#000"/>
<rect x="951" y="1504" width="6" height="1" fill="#000"/>
<rect x="38" y="1494" width="12" height="1" fill="#000"/>
<rect x="951" y="1494" width="12" height="1" fill="#000"/>
<rect x="44" y="1484" width="6" height="1" fill="#000"/>
<rect x="951" y="1484" width="6" height="1" fill="#000"/>
<rect x="44" y="1474" width="6" height="1" fill="#000"/>
<rect x="951" y="1474" width="6" height="1" fill="#000"/>
<rect x="44" y="1464" width="6" height="1" fill="#000"/>
<rect x="951" y="1464" width="6" height="1" fill="#000"/>
<rect x="44" y="1454" width="6" height="1" fill="#000"/>
<rect x="951" y="1454" width="6" height="1" fill="#000"/>
<rect x="44" y="1444" width="6" height="1" fill="#000"/>
<rect x="951" y="1444" width="6" height="1" fill="#000"/>
<rect x="38" y="1434" width="12" height="1" fill="#000"/>
<rect x="951" y="1434" width="12" height="1" fill="#000"/>
<rect x="44" y="1424" width="6" height="1" fill="#000"/>
<rect x="951" y="1424" width="6" height="1" fill="#000"/>
<rect x="44" y="1414" width="6" height="1" fill="#000"/>
<rect x="951" y="1414" width="6" height="1" fill="#000"/>
<rect x="44" y="1404" width="6" height="1" fill="#000"/>
<rect x="951" y="1404" width="6" height="1" fill="#000"/>
<rect x="44" y="1394" width="6" height="1" fill="#000"/>
<rect x="951" y="1394" width="6" height="1" fill="#000"/>
<rect x="44" y="1384" width="6" height="1" fill="#000"/>
<rect x="951" y="1384" width="6" height="1" fill="#000"/>
<rect x="38" y="1374" width="12" height="1" fill="#000"/>
<rect x="951" y="1374" width="12" height="1" fill="#000"/>
<rect x="44" y="1364" width="6" height="1" fill="#000"/>
<rect x="951" y="1364" width="6" height="1" fill="#000"/>
<rect x="44" y="1354" width="6" height="1" fill="#000"/>
<rect x="951" y="1354" width="6" height="1" fill="#000"/>
<rect x="44" y="1344" width="6" height="1" fill="#000"/>
<rect x="951" y="1344" width="6" height="1" fill="#000"/>
<rect x="44" y="1334" width="6" height="1" fill="#000"/>
<rect x="951" y="1334" width="6" height="1" fill="#000"/>
<rect x="44" y="1324" width="6" height="1" fill="#000"/>
<rect x="951" y="1324" width="6" height="1" fill="#000"/>
<rect x="38" y="1314" width="12" height="1" fill="#000"/>
<rect x="951" y="1314" width="12" height="1" fill="#000"/>
<rect x="44" y="1304" width="6" height="1" fill="#000"/>
<rect x="951" y="1304" width="6" height="1" fill="#000"/>
<rect x="44" y="1294" width="6" height="1" fill="#000"/>
<rect x="951" y="1294" width="6" height="1" fill="#000"/>
<rect x="44" y="1284" width="6" height="1" fill="#000"/>
<rect x="951" y="1284" width="6" height="1" fill="#000"/>
<rect x="44" y="1274" width="6" height="1" fill="#000"/>
<rect x="951" y="1274" width="6" height="1" fill="#000"/>
<rect x="44" y="1264" width="6" height="1" fill="#000"/>
<rect x="951" y="1264" width="6" height="1" fill="#000"/>
<rect x="38" y="1254" width="12" height="1" fill="#000"/>
<rect x="951" y="1254" width="12" height="1" fill="#000"/>
<rect x="44" y="1244" width="6" height="1" fill="#000"/>
<rect x="951" y="1244" width="6" height="1" fill="#000"/>
<rect x="44" y="1234" width="6" height="1" fill="#000"/>
<rect x="951" y="1234" width="6" height="1" fill="#000"/>
<rect x="44" y="1224" width="6" height="1" fill="#000"/>
<rect x="951" y="1224" width="6" height="1" fill="#000"/>
<rect x="44" y="1214" width="6" height="1" fill="#000"/>
<rect x="951" y="1214" width="6" height="1" fill="#000"/>
<rect x="44" y="1204" width="6" height="1" fill="#000"/>
<rect x="951" y="1204" width="6" height="1" fill="#000"/>
<rect x="38" y="1194" width="12" height="1" fill="#000"/>
<rect x="951" y="1194" width="12" height="1" fill="#000"/>
<rect x="44" y="1184" width="6" height="1" fill="#000"/>
<rect x="951" y="1184" width="6" height="1" fill="#000"/>
<rect x="44" y="1174" width="6" height="1" fill="#000"/>
<rect x="951" y="1174" width="6" height="1" fill="#000"/>
<rect x="44" y="1164" width="6" height="1" fill="#000"/>
<rect x="951" y="1164" width="6" height="1" fill="#000"/>
<rect x="44" y="1154" width="6" height="1" fill="#000"/>
<rect x="951" y="1154" width="6" height="1" fill="#000"/>
<rect x="44" y="1144" width="6" height="1" fill="#000"/>
<rect x="951" y="1144" width="6" height="1" fill="#000"/>
<rect x="38" y="1134" width="12" height="1" fill="#000"/>
<rect x="951" y="1134" width="12" height="1" fill="#000"/>
<rect x="44" y="1124" width="6" height="1" fill="#000"/>
<rect x="951" y="1124" width="6" height="1" fill="#000"/>
<rect x="44" y="1114" width="6" height="1" fill="#000"/>
<rect x="951" y="1114" width="6" height="1" fill="#000"/>
<rect x="44" y="1104" width="6" height="1" fill="#000"/>
<rect x="951" y="1104" width="6" height="1" fill="#000"/>
<rect x="44" y="1094" width="6" height="1" fill="#000"/>
<rect x="951" y="1094" width="6" height="1" fill="#000"/>
<rect x="44" y="1084" width="6" height="1" fill="#000"/>
<rect x="951" y="1084" width="6" height="1" fill="#000"/>
<rect x="38" y="1074" width="12" height="1" fill="#000"/>
<rect x="951" y="1074" width="12" height="1" fill="#000"/>
<rect x="44" y="1064" width="6" height="1" fill="#000"/>
<rect x="951" y="1064" width="6" height="1" fill="#000"/>
<rect x="44" y="1054" width="6" height="1" fill="#000"/>
<rect x="951" y="1054" width="6" height="1" fill="#000"/>
<rect x="44" y="1044" width="6" height="1" fill="#000"/>
<rect x="951" y="1044" width="6" height="1" fill="#000"/>
<rect x="44" y="1034" width="6" height="1" fill="#000"/>
<rect x="951" y="1034" width="6" height="1" fill="#000"/>
<rect x="44" y="1024" width="6" height="1" fill="#000"/>
<rect x="951" y="1024" width="6" height="1" fill="#000"/>
<rect x="38" y="1014" width="12" height="1" fill="#000"/>
<rect x="951" y="1014" width="12" height="1" fill="#000"/>
<rect x="44" y="1004" width="6" height="1" fill="#000"/>
<rect x="951" y="1004" width="6" height="1" fill="#000"/>
<rect x="44" y="994" width="6" height="1" fill="#000"/>
<rect x="951" y="994" width="6" height="1" fill="#000"/>
<rect x="44" y="984" width="6" height="1" fill="#000"/>
<rect x="951" y="984" width="6" height="1" fill="#000"/>
<rect x="44" y="974" width="6" height="1" fill="#000"/>
<rect x="951" y="974" width="6" height="1" fill="#000"/>
<rect x="44" y="964" width="6" height="1" fill="#000"/>
<rect x="951" y="964" width="6" height="1" fill="#000"/>
<rect x="38" y="954" width="12" height="1" fill="#000"/>
<rect x="951" y="954" width="12" height="1" fill="#000"/>
<rect x="44" y="944" width="6" height="1" fill="#000"/>
<rect x="951" y="944" width="6" height="1" fill="#000"/>
<rect x="44" y="934" width="6" height="1" fill="#000"/>
<rect x="951" y="934" width="6" height="1" fill="#000"/>
<rect x="44" y="924" width="6" height="1" fill="#000"/>
<rect x="951" y="924" width="6" height="1" fill="#000"/>
<rect x="44" y="914" width="6" height="1" fill="#000"/>
<rect x="951" y="914" width="6" height="1" fill="#000"/>
<rect x="44" y="904" width="6" height="1" fill="#000"/>
<rect x="951" y="904" width="6" height="1" fill="#000"/>
<rect x="38" y="894" width="12" height="1" fill="#000"/>
<rect x="951" y="894" width="12" height="1" fill="#000"/>
<rect x="44" y="884" width="6" height="1" fill="#000"/>
<rect x="951" y="884" width="6" height="1" fill="#000"/>
<rect x="44" y="874" width="6" height="1" fill="#000"/>
<rect x="951" y="874" width="6" height="1" fill="#000"/>
<rect x="44" y="864" width="6" height="1" fill="#000"/>
<rect x="951" y="864" width="6" height="1" fill="#000"/>
<rect x="44" y="854" width="6" height="1" fill="#000"/>
<rect x="951" y="854" width="6" height="1" fill="#000"/>
<rect x="44" y="844" width="6" height="1" fill="#000"/>
<rect x="951" y="844" width="6" height="1" fill="#000"/>
<rect x="38" y="834" width="12" height="1" fill="#000"/>
<rect x="951" y="834" width="12" height="1" fill="#000"/>
<rect x="44" y="824" width="6" height="1" fill="#000"/>
<rect x="951" y="824" width="6" height="1" fill="#000"/>
<rect x="44" y="814" width="6" height="1" fill="#000"/>
<rect x="951" y="814" width="6" height="1" fill="#000"/>
<rect x="44" y="804" width="6" height="1" fill="#000"/>
<rect x="951" y="804" width="6" height="1" fill="#000"/>
<rect x="44" y="794" width="6" height="1" fill="#000"/>
<rect x="951" y="794" width="6" height="1" fill="#000"/>
<rect x="44" y="784" width="6" height="1" fill="#000"/>
<rect x="951" y="784" width="6" height="1" fill="#000"/>
<rect x="38" y="774" width="12" height="1" fill="#000"/>
<rect x="951" y="774" width="12" height="1" fill="#000"/>
<rect x="44" y="764" width="6" height="1" fill="#000"/>
<rect x="951" y="764" width="6" height="1" fill="#000"/>
<rect x="44" y="754" width="6" height="1" fill="#000"/>
<rect x="951" y="754" width="6" height="1" fill="#000"/>
<rect x="44" y="744" width="6" height="1" fill="#000"/>
<rect x="951" y="744" width="6" height="1" fill="#000"/>
<rect x="44" y="734" width="6" height="1" fill="#000"/>
<rect x="951" y="734" width="6" height="1" fill="#000"/>
<rect x="44" y="724" width="6" height="1" fill="#000"/>
<rect x="951" y="724" width="6" height="1" fill="#000"/>
<rect x="38" y="714" width="12" height="1" fill="#000"/>
<rect x="951" y="714" width="12" height="1" fill="#000"/>
<rect x="44" y="704" width="6" height="1" fill="#000"/>
<rect x="951" y="704" width="6" height="1" fill="#000"/>
<rect x="44" y="694" width="6" height="1" fill="#000"/>
<rect x="951" y="694" width="6" height="1" fill="#000"/>
<rect x="44" y="684" width="6" height="1" fill="#000"/>
<rect x="951" y="684" width="6" height="1" fill="#000"/>
<rect x="44" y="674" width="6" height="1" fill="#000"/>
<rect x="951" y="674" width="6" height="1" fill="#000"/>
<rect x="44" y="664" width="6" height="1" fill="#000"/>
<rect x="951" y="664" width="6" height="1" fill="#000"/>
<rect x="38" y="654" width="12" height="1" fill="#000"/>
<rect x="951" y="654" width="12" height="1" fill="#000"/>
<rect x="44" y="644" width="6" height="1" fill="#000"/>
<rect x="951" y="644" width="6" height="1" fill="#000"/>
<rect x="44" y="634" width="6" height="1" fill="#000"/>
<rect x="951" y="634" width="6" height="1" fill="#000"/>
<rect x="44" y="624" width="6" height="1" fill="#000"/>
<rect x="951" y="624" width="6" height="1" fill="#000"/>
<rect x="44" y="614" width="6" height="1" fill="#000"/>
<rect x="951" y="614" width="6" height="1" fill="#000"/>
<rect x="44" y="604" width="6" height="1" fill="#000"/>
<rect x="951" y="604" width="6" height="1" fill="#000"/>
<rect x="38" y="594" width="12" height="1" fill="#000"/>
<rect x="951" y="594" width="12" height="1" fill="#000"/>
<rect x="44" y="584" width="6" height="1" fill="#000"/>
<rect x="951" y="584" width="6" height="1" fill="#000"/>
<rect x="44" y="574" width="6" height="1" fill="#000"/>
<rect x="951" y="574" width="6" height="1" fill="#000"/>
<rect x="44" y="564" width="6" height="1" fill="#000"/>
<rect x="951" y="564" width="6" height="1" fill="#000"/>
<rect x="44" y="554" width="6" height="1" fill="#000"/>
<rect x="951" y="554" width="6" height="1" fill="#000"/>
<rect x="44" y="544" width="6" height="1" fill="#000"/>
<rect x="951" y="544" width="6" height="1" fill="#000"/>
<rect x="38" y="534" width="12" height="1" fill="#000"/>
<rect x="951" y="534" width="12" height="1" fill="#000"/>
<rect x="44" y="524" width="6" height="1" fill="#000"/>
<rect x="951" y="524" width="6" height="1" fill="#000"/>
<rect x="44" y="514" width="6" height="1" fill="#000"/>
<rect x="951" y="514" width="6" height="1" fill="#000"/>
<rect x="44" y="504" width="6" height="1" fill="#000"/>
<rect x="951" y="504" width="6" height="1" fill="#000"/>
<rect x="44" y="494" width="6" height="1" fill="#000"/>
<rect x="951" y="494" width="6" height="1" fill="#000"/>
<rect x="44" y="484" width="6" height="1" fill="#000"/>
<rect x="951" y="484" width="6" height="1" fill="#000"/>
<rect x="38" y="474" width="12" height="1" fill="#000"/>
<rect x="951" y="474" width="12" height="1" fill="#000"/>
<rect x="44" y="464" width="6" height="1" fill="#000"/>
<rect x="951" y="464" width="6" height="1" fill="#000"/>
<rect x="44" y="454" width="6" height="1" fill="#000"/>
<rect x="951" y="454" width="6" height="1" fill="#000"/>
<rect x="44" y="444" width="6" height="1" fill="#000"/>
<rect x="951" y="444" width="6" height="1" fill="#000"/>
<rect x="44" y="434" width="6" height="1" fill="#000"/>
<rect x="951" y="434" width="6" height="1" fill="#000"/>
<rect x="44" y="424" width="6" height="1" fill="#000"/>
<rect x="951" y="424" width="6" height="1" fill="#000"/>
<rect x="38" y="414" width="12" height="1" fill="#000"/>
<rect x="951" y="414" width="12" height="1" fill="#000"/>
<rect x="44" y="404" width="6" height="1" fill="#000"/>
<rect x="951" y="404" width="6" height="1" fill="#000"/>
<rect x="44" y="394" width="6" height="1" fill="#000"/>
<rect x="951" y="394" width="6" height="1" fill="#000"/>
<rect x="44" y="384" width="6" height="1" fill="#000"/>
<rect x="951" y="384" width="6" height="1" fill="#000"/>
<rect x="44" y="374" width="6" height="1" fill="#000"/>
<rect x="951" y="374" width="6" height="1" fill="#000"/>
<rect x="44" y="364" width="6" height="1" fill="#000"/>
<rect x="951" y="364" width="6" height="1" fill="#000"/>
<rect x="38" y="354" width="12" height="1" fill="#000"/>
<rect x="951" y="354" width="12" height="1" fill="#000"/>
<rect x="44" y="344" width="6" height="1" fill="#000"/>
<rect x="951" y="344" width="6" height="1" fill="#000"/>
<rect x="44" y="334" width="6" height="1" fill="#000"/>
<rect x="951" y="334" width="6" height="1" fill="#000"/>
<rect x="44" y="324" width="6" height="1" fill="#000"/>
<rect x="951" y="324" width="6" height="1" fill="#000"/>
<rect x="44" y="314" width="6" height="1" fill="#000"/>
<rect x="951" y="314" width="6" height="1" fill="#000"/>
<rect x="44" y="304" width="6" height="1" fill="#000"/>
<rect x="951" y="304" width="6" height="1" fill="#000"/>
<rect x="38" y="294" width="12" height="1" fill="#000"/>
<rect x="951" y="294" width="12" height="1" fill="#000"/>
<rect x="44" y="284" width="6" height="1" fill="#000"/>
<rect x="951" y="284" width="6" height="1" fill="#000"/>
<rect x="44" y="274" width="6" height="1" fill="#000"/>
<rect x="951" y="274" width="6" height="1" fill="#000"/>
<rect x="44" y="264" width="6" height="1" fill="#000"/>
<rect x="951" y="264" width="6" height="1" fill="#000"/>
<rect x="44" y="254" width="6" height="1" fill="#000"/>
<rect x="951" y="254" width="6" height="1" fill="#000"/>
<rect x="44" y="244" width="6" height="1" fill="#000"/>
<rect x="951" y="244" width="6" height="1" fill="#000"/>
<rect x="38" y="234" width="12" height="1" fill="#000"/>
<rect x="951" y="234" width="12" height="1" fill="#000"/>
<rect x="44" y="224" width="6" height="1" fill="#000"/>
<rect x="951" y="224" width="6" height="1" fill="#000"/>
<rect x="44" y="214" width="6" height="1" fill="#000"/>
<rect x="951" y="214" width="6" height="1" fill="#000"/>
<rect x="44" y="204" width="6" height="1" fill="#000"/>
<rect x="951" y="204" width="6" height="1" fill="#000"/>
<rect x="44" y="194" width="6" height="1" fill="#000"/>
<rect x="951" y="194" width="6" height="1" fill="#000"/>
<rect x="44" y="184" width="6" height="1" fill="#000"/>
<rect x="951" y="184" width="6" height="1" fill="#000"/>
<rect x="38" y="174" width="12" height="1" fill="#000"/>
<rect x="951" y="174" width="12" height="1" fill="#000"/>
<rect x="44" y="164" width="6" height="1" fill="#000"/>
<rect x="951" y="164" width="6" height="1" fill="#000"/>
<rect x="44" y="154" width="6" height="1" fill="#000"/>
<rect x="951" y="154" width="6" height="1" fill="#000"/>
<rect x="44" y="144" width="6" height="1" fill="#000"/>
<rect x="951" y="144" width="6" height="1" fill="#000"/>
<rect x="44" y="134" width="6" height="1" fill="#000"/>
<rect x="951" y="134" width="6" height="1" fill="#000"/>
<rect x="44" y="124" width="6" height="1" fill="#000"/>
<rect x="951" y="124" width="6" height="1" fill="#000"/>
<rect x="50" y="1555" width="1" height="10" fill="#000"/>
<rect x="309" y="1555" width="1" height="10" fill="#000"/>
<rect x="568" y="1555" width="1" height="10" fill="#000"/>
<rect x="826" y="1555" width="1" height="10" fill="#000"/>
<path stroke="#000" stroke-width="1" fill="none" transform="translate(0,0.5)" d="M1052 115h13M1053 116h12M1053 117h11M1053 118h12M1052 119h12M1054 120h10M1054 121h10M1052 122h13M1053 123h11M1053 124h11M1052 125h14M1051 126h16M1052 127h13M1051 128h16M1051 129h14M1053 130h11M1053 131h11M1052 132h12M1053 133h11M1053 134h12M1051 135h15M1052 136h14M1053 137h11M1053 138h11M1048 139h19M1054 140h9M1051 141h15M1053 142h11M1053 143h10M1053 144h11M1054 145h9M1053 146h10M1050 147h17M1053 148h11M1054 149h10M1053 150h11M1052 151h13M1054 152h10M1051 153h15M1052 154h13M1053 155h11M1051 156h15M1054 157h9M1051 158h14M1052 159h13M1052 160h14M1052 161h14M1053 162h12M1053 163h13M1053 164h11M1051 165h15M1054 166h10M1053 167h11M1053 168h12M1053 169h11M1051 170h15M1052 171h13M1052 172h13M1054 173h10M1053 174h11M1053 175h12M1049 176h19M1053 177h12M1054 178h10M1054 179h10M1053 180h11M1053 181h11M1052 182h13M1051 183h15M1053 184h11M1052 185h13M1053 186h11M1052 187h13M1054 188h9M1052 189h13M1053 190h11M1053 191h12M1052 192h13M1053 193h12M1053 194h12M1053 195h12M1054 196h10M1049 197h20M1053 198h11M1051 199h16M1053 200h12M1052 201h13M1054 202h9M1053 203h12M1053 204h12M1053 205h11M1053 206h11M1054 207h10M1054 208h9M1055 209h8M1052 210h13M1055 211h8M1054 212h10M1054 213h9M1052 214h13M1054 215h9M1054 216h9M1051 217h16M1054 218h9M1053 219h10M1052 220h13M1054 221h9M1054 222h9M1054 223h9M1054 224h10M1053 225h10M1054 226h9M1052 227h14M1054 228h9M1052 229h12M1054 230h9M1052 231h14M1052 232h13M1054 233h10M1054 234h9M1053 235h11M1054 236h9M1053 237h11M1053 238h10M1054 239h9M1052 240h13M1053 241h12M1053 242h11M1052 243h13M1053 244h11M1053 245h11M1053 246h11M1053 247h12M1052 248h13M1053 249h11M1053 250h11M1053 251h10M1053 252h11M1051 253h15M1053 254h12M1051 255h14M1052 256h14M1053 257h12M1051 258h15M1053 259h11M1052 260h12M1054 261h9M1053 262h12M1053 263h11M1053 264h11M1052 265h13M1049 266h18M1053 267h11M1052 268h13M1053 269h11M1053 270h12M1052 271h14M1053 272h11M1053 273h12M1052 274h13M1052 275h13M1052 276h13M1053 277h11M1053 278h11M1050 279h17M1050 280h18M1053 281h11M1052 282h13M1053 283h12M1053 284h11M1052 285h13M1052 286h13M1052 287h13M1052 288h13M1052 289h13M1053 290h11M1052 291h14M1052 292h13M1053 293h11M1053 294h11M1052 295h13M1052 296h14M1052 297h14M1052 298h13M1053 299h11M1052 300h12M1053 301h12M1052 302h12M1053 303h11M1052 304h14M1053 305h11M1051 306h15M1050 307h16M1053 308h11M1051 309h14M1051 310h14M1053 311h11M1051 312h16M1052 313h12M1053 314h11M1053 315h11M1051 316h15M1045 317h26M1052 318h13M1048 319h22M1053 320h11M1049 321h19M1051 322h16M1050 323h17M1051 324h15M1046 325h25M1053 326h12M1052 327h14M1050 328h17M1052 329h12M1050 330h17M1053 331h11M1052 332h13M1053 333h12M1052 334h14M1052 335h13M1052 336h13M1052 337h12M1049 338h19M1052 339h12M1052 340h12M1051 341h14M1050 342h17M1052 343h12M1052 344h13M1051 345h15M1052 346h13M1051 347h15M1046 348h25M1052 349h12M1051 350h15M1048 351h24M1053 352h11M1052 353h13M1053 354h12M1053 355h12M1047 356h23M1053 357h12M1054 358h10M1052 359h13M1053 360h11M1053 361h11M1052 362h13M1053 363h12M1050 364h17M1054 365h10M1051 366h14M1054 367h10M1053 368h11M1053 369h11M1050 370h17M1053 371h12M1051 372h15M1052 373h13M1048 374h22M1053 375h12M1052 376h14M1053 377h12M1053 378h11M1048 379h20M1048 380h20M1053 381h12M1053 382h11M1052 383h13M1052 384h13M1053 385h11M1053 386h11M1053 387h12M1053 388h11M1051 389h15M1052 390h14M1049 391h19M1053 392h11M1053 393h11M1052 394h13M1052 395h13M1053 396h11M1052 397h14M1053 398h11M1053 399h11M1052 400h13M1053 401h10M1052 402h14M1053 403h11M1053 404h11M1054 405h9M1053 406h10M1054 407h10M1054 408h10M1050 409h18M1053 410h11M1052 411h14M1052 412h13M1051 413h15M1051 414h15M1052 415h14M1052 416h13M1052 417h13M1053 418h11M1051 419h15M1052 420h14M1050 421h18M1052 422h13M1053 423h12M1050 424h16M1053 425h11M1053 426h11M1052 427h13M1053 428h11M1052 429h14M1052 430h13M1053 431h11M1052 432h13M1053 433h11M1051 434h13M1053 435h11M1049 436h19M1052 437h14M1051 438h16M1051 439h15M1047 440h25M1053 441h11M1052 442h13M1053 443h11M1053 444h12M1051 445h16M1053 446h11M1053 447h11M1052 448h12M1050 449h16M1052 450h13M1053 451h12M1053 452h11M1052 453h13M1053 454h11M1053 455h12M1050 456h17M1053 457h11M1054 458h10M1050 459h17M1053 460h11M1054 461h10M1050 462h17M1049 463h19M1050 464h17M1052 465h13M1052 466h13M1050 467h17M1053 468h11M1054 469h11M1053 470h11M1053 471h10M1053 472h11M1052 473h14M1053 474h11M1053 475h11M1053 476h12M1054 477h10M1052 478h13M1051 479h16M1052 480h14M1053 481h12M1051 482h15M1048 483h21M1052 484h12M1051 485h15M1052 486h13M1053 487h12M1052 488h14M1053 489h12M1052 490h13M1053 491h12M1051 492h15M1052 493h13M1053 494h11M1053 495h12M1052 496h13M1051 497h15M1052 498h14M1052 499h13M1050 500h16M1052 501h13M1052 502h12M1053 503h11M1050 504h17M1052 505h13M1053 506h11M1048 507h21M1051 508h16M1054 509h10M1052 510h14M1047 511h22M1053 512h12M1053 513h11M1052 514h13M1052 515h12M1053 516h11M1053 517h12M1051 518h16M1053 519h11M1051 520h15M1051 521h15M1047 522h24M1053 523h11M1053 524h11M1053 525h12M1053 526h10M1052 527h13M1053 528h12M1054 529h10M1052 530h12M1050 531h17M1052 532h12M1053 533h12M1053 534h11M1051 535h15M1053 536h12M1052 537h13M1050 538h18M1049 539h19M1053 540h12M1049 541h20M1053 542h12M1053 543h11M1051 544h15M1053 545h11M1053 546h11M1046 547h25M1049 548h19M1052 549h13M1049 550h18M1053 551h12M1051 552h15M1052 553h13M1052 554h14M1054 555h10M1052 556h13M1052 557h14M1053 558h11M1052 559h12M1052 560h12M1050 561h18M1053 562h11M1050 563h18M1050 564h17M1054 565h10M1047 566h23M1054 567h10M1051 568h14M1052 569h13M1053 570h11M1051 571h15M1052 572h14M1052 573h12M1052 574h13M1048 575h21M1050 576h17M1052 577h14M1052 578h13M1052 579h13M1052 580h12M1053 581h11M1050 582h18M1051 583h15M1050 584h16M1051 585h15M1051 586h15M1052 587h14M1049 588h19M1053 589h11M1049 590h18M1050 591h16M1051 592h15M1052 593h13M1052 594h12M1052 595h13M1053 596h13M1052 597h13M1053 598h11M1052 599h14M1049 600h19M1049 601h18M1052 602h13M1052 603h13M1050 604h17M1053 605h12M1053 606h11M1050 607h17M1049 608h19M1053 609h11M1052 610h13M1053 611h12M1053 612h11M1053 613h12M1053 614h11M1051 615h15M1054 616h10M1053 617h11M1053 618h11M1050 619h16M1049 620h19M1053 621h12M1052 622h14M1052 623h12M1051 624h15M1051 625h15M1052 626h12M1052 627h14M1049 628h19M1053 629h11M1050 630h17M1052 631h14M1047 632h23M1049 633h20M1053 634h12M1053 635h11M1052 636h13M1053 637h11M1052 638h13M1051 639h15M1050 640h17M1049 641h18M1047 642h22M1051 643h15M1053 644h12M1051 645h15M1051 646h15M1053 647h11M1049 648h19M1050 649h17M1045 650h26M1051 651h15M1053 652h12M1050 653h17M1052 654h13M1052 655h12M1053 656h11M1050 657h17M1053 658h11M1053 659h11M1053 660h11M1052 661h13M1052 662h14M1051 663h15M1052 664h14M1053 665h11M1048 666h22M1051 667h16M1053 668h12M1052 669h14M1050 670h17M1048 671h20M1050 672h18M1051 673h15M1051 674h15M1051 675h15M1052 676h13M1047 677h22M1050 678h17M1051 679h15M1052 680h13M1050 681h16M1051 682h15M1052 683h14M1052 684h13M1052 685h14M1051 686h15M1052 687h13M1052 688h12M1052 689h13M1053 690h11M1051 691h15M1052 692h13M1051 693h16M1050 694h17M1052 695h13M1052 696h13M1050 697h19M1050 698h17M1051 699h16M1052 700h14M1052 701h13M1051 702h15M1052 703h13M1052 704h14M1053 705h12M1051 706h15M1051 707h16M1051 708h15M1048 709h21M1052 710h13M1047 711h24M1049 712h20M1050 713h17M1048 714h21M1050 715h17M1051 716h15M1051 717h15M1050 718h17M1052 719h13M1053 720h12M1051 721h16M1053 722h12M1049 723h18M1045 724h26M1051 725h15M1052 726h13M1052 727h14M1052 728h14M1052 729h13M1050 730h17M1052 731h13M1050 732h17M1050 733h17M1052 734h14M1051 735h14M1052 736h14M1052 737h13M1052 738h13M1051 739h14M1051 740h15M1052 741h13M1051 742h15M1052 743h12M1052 744h12M1051 745h15M1053 746h12M1052 747h14M1053 748h11M1053 749h12M1052 750h13M1052 751h13M1052 752h13M1052 753h13M1052 754h13M1047 755h23M1049 756h19M1050 757h18M1053 758h12M1051 759h15M1050 760h17M1051 761h15M1051 762h16M1051 763h15M1052 764h14M1051 765h15M1051 766h16M1052 767h13M1052 768h13M1053 769h12M1051 770h15M1052 771h13M1049 772h20M1053 773h12M1052 774h12M1051 775h15M1050 776h17M1052 777h13M1049 778h20M1052 779h14M1050 780h18M1052 781h14M1049 782h20M1051 783h16M1051 784h14M1051 785h16M1048 786h21M1050 787h18M1052 788h14M1052 789h14M1049 790h18M1047 791h23M1049 792h18M1052 793h14M1046 794h26M1052 795h14M1050 796h17M1052 797h13M1046 798h25M1051 799h15M1051 800h15M1052 801h14M1052 802h14M1052 803h13M1049 804h19M1046 805h25M1050 806h17M1053 807h12M1053 808h12M1050 809h18M1050 810h17M1049 811h17M1053 812h12M1052 813h13M1049 814h19M1051 815h14M1050 816h17M1051 817h14M1052 818h14M1051 819h14M1050 820h17M1052 821h13M1052 822h14M1052 823h13M1051 824h15M1050 825h17M1052 826h13M1050 827h17M1051 828h16M1050 829h17M1052 830h13M1050 831h18M1049 832h19M1051 833h15M1050 834h17M1052 835h13M1052 836h13M1052 837h13M1052 838h13M1049 839h20M1051 840h15M1048 841h21M1048 842h20M1045 843h27M1052 844h13M1052 845h13M1052 846h13M1052 847h13M1052 848h12M1049 849h19M1053 850h12M1051 851h16M1051 852h16M1053 853h11M1048 854h21M1053 855h11M1052 856h12M1052 857h13M1053 858h11M1053 859h11M1046 860h26M1052 861h14M1049 862h18M1051 863h15M1047 864h24M1047 865h23M1052 866h14M1049 867h20M1052 868h13M1050 869h17M1053 870h12M1052 871h13M1052 872h14M1049 873h19M1050 874h18M1052 875h13M1052 876h13M1052 877h13M1053 878h12M1050 879h18M1053 880h13M1050 881h16M1050 882h19M1052 883h13M1049 884h19M1052 885h13M1051 886h15M1053 887h12M1050 888h17M1050 889h16M1052 890h14M1049 891h20M1052 892h13M1053 893h12M1051 894h16M1052 895h13M1052 896h13M1048 897h21M1049 898h19M1048 899h21M1045 900h26M1052 901h14M1050 902h18M1052 903h13M1051 904h15M1049 905h19M1052 906h13M1050 907h18M1052 908h14M1052 909h14M1052 910h13M1050 911h17M1051 912h15M1050 913h17M1052 914h13M1051 915h15M1052 916h13M1049 917h19M1051 918h15M1047 919h23M1052 920h13M1051 921h14M1052 922h13M1053 923h12M1051 924h15M1053 925h12M1051 926h15M1052 927h14M1050 928h17M1047 929h23M1051 930h15M1050 931h17M1045 932h27M1050 933h18M1051 934h16M1048 935h21M1051 936h15M1051 937h15M1052 938h14M1052 939h13M1052 940h13M1051 941h16M1050 942h17M1052 943h14M1053 944h11M1052 945h14M1052 946h13M1051 947h16M1052 948h14M1050 949h17M1050 950h17M1051 951h14M1051 952h16M1051 953h14M1051 954h16M1049 955h19M1049 956h19M1051 957h14M1052 958h13M1051 959h15M1050 960h17M1052 961h13M1046 962h25M1053 963h12M1050 964h16M1048 965h20M1046 966h25M1053 967h12M1048 968h20M1049 969h18M1050 970h17M1052 971h14M1046 972h25M1051 973h16M1053 974h11M1049 975h18M1052 976h14M1053 977h12M1052 978h13M1051 979h15M1052 980h13M1051 981h15M1052 982h13M1052 983h13M1052 984h14M1051 985h15M1053 986h12M1050 987h16M1049 988h18M1052 989h14M1052 990h13M1050 991h17M1050 992h17M1050 993h17M1051 994h15M1046 995h26M1048 996h20M1052 997h14M1049 998h19M1050 999h17M1052 1000h13M1048 1001h21M1050 1002h16M1051 1003h16M1052 1004h14M1053 1005h12M1050 1006h17M1051 1007h16M1051 1008h16M1051 1009h16M1049 1010h19M1052 1011h14M1051 1012h16M1053 1013h12M1049 1014h20M1051 1015h15M1045 1016h26M1052 1017h13M1046 1018h33M1050 1019h17M1049 1020h19M1051 1021h15M1045 1022h27M1048 1023h21M1048 1024h21M1052 1025h13M1051 1026h16M1052 1027h13M1051 1028h16M1049 1029h19M1052 1030h14M1048 1031h22M1052 1032h13M1048 1033h21M1046 1034h25M1050 1035h17M1051 1036h16M1052 1037h13M1050 1038h17M1051 1039h15M1052 1040h14M1051 1041h15M1052 1042h14M1050 1043h17M1052 1044h13M1049 1045h20M1046 1046h25M1052 1047h14M1046 1048h26M1049 1049h19M1050 1050h17M1049 1051h20M1052 1052h14M1051 1053h15M1050 1054h17M1049 1055h20M1051 1056h14M1052 1057h13M1051 1058h15M1047 1059h23M1052 1060h14M1046 1061h26M1045 1062h27M1052 1063h13M1051 1064h15M1048 1065h21M1050 1066h17M1051 1067h16M1052 1068h13M1051 1069h15M1050 1070h16M1052 1071h13M1049 1072h19M1050 1073h18M1053 1074h12M1052 1075h14M1053 1076h12M1052 1077h14M1046 1078h26M1050 1079h18M1049 1080h18M1048 1081h21M1051 1082h14M1053 1083h12M1053 1084h11M1051 1085h15M1051 1086h15M1052 1087h13M1051 1088h15M1053 1089h12M1052 1090h14M1051 1091h15M1050 1092h17M1052 1093h13M1050 1094h18M1052 1095h14M1052 1096h13M1052 1097h13M1051 1098h16M1049 1099h18M1050 1100h17M1052 1101h14M1050 1102h17M1049 1103h19M1049 1104h19M1051 1105h16M1048 1106h21M1051 1107h16M1049 1108h19M1049 1109h19M1051 1110h14M1051 1111h15M1051 1112h15M1052 1113h13M1052 1114h13M1051 1115h15M1052 1116h13M1050 1117h17M1052 1118h13M1051 1119h15M1046 1120h26M1050 1121h17M1052 1122h13M1050 1123h16M1050 1124h16M1052 1125h13M1052 1126h14M1046 1127h26M1053 1128h12M1053 1129h12M1046 1130h25M1053 1131h12M1053 1132h11M1053 1133h11M1050 1134h18M1052 1135h13M1045 1136h26M1050 1137h17M1048 1138h20M1049 1139h19M1050 1140h17M1051 1141h15M1047 1142h22M1050 1143h16M1053 1144h12M1051 1145h15M1050 1146h17M1051 1147h15M1051 1148h14M1052 1149h13M1051 1150h15M1050 1151h17M1050 1152h17M1050 1153h18M1052 1154h14M1049 1155h19M1051 1156h15M1050 1157h16M1051 1158h15M1051 1159h15M1051 1160h16M1053 1161h12M1050 1162h18M1053 1163h12M1051 1164h15M1051 1165h16M1051 1166h16M1051 1167h15M1051 1168h15M1049 1169h19M1053 1170h12M1053 1171h12M1048 1172h21M1051 1173h14M1051 1174h15M1052 1175h12M1048 1176h20M1051 1177h16M1052 1178h13M1051 1179h15M1051 1180h14M1050 1181h18M1048 1182h21M1052 1183h13M1050 1184h16M1049 1185h20M1049 1186h19M1051 1187h15M1051 1188h16M1051 1189h15M1050 1190h17M1051 1191h15M1051 1192h15M1049 1193h20M1052 1194h14M1051 1195h16M1050 1196h18M1051 1197h15M1052 1198h13M1052 1199h13M1051 1200h15M1048 1201h21M1051 1202h14M1048 1203h21M1045 1204h28M1051 1205h15M1051 1206h16M1045 1207h27M1050 1208h17M1051 1209h16M1046 1210h26M1052 1211h13M1052 1212h13M1051 1213h15M1051 1214h15M1052 1215h14M1050 1216h17M1052 1217h13M1052 1218h13M1051 1219h15M1050 1220h17M1052 1221h13M1052 1222h14M1051 1223h14M1051 1224h14M1048 1225h22M1052 1226h13M1051 1227h15M1051 1228h14M1051 1229h15M1051 1230h16M1052 1231h13M1051 1232h15M1050 1233h18M1052 1234h14M1051 1235h15M1052 1236h13M1049 1237h18M1047 1238h22M1051 1239h16M1048 1240h21M1050 1241h16M1047 1242h23M1052 1243h14M1052 1244h13M1051 1245h15M1048 1246h21M1050 1247h18M1052 1248h14M1048 1249h21M1049 1250h19M1046 1251h25M1051 1252h15M1052 1253h14M1052 1254h13M1048 1255h21M1052 1256h13M1051 1257h14M1050 1258h17M1052 1259h13M1050 1260h17M1050 1261h17M1047 1262h23M1052 1263h13M1051 1264h16M1051 1265h14M1049 1266h20M1051 1267h15M1051 1268h16M1051 1269h15M1052 1270h14M1047 1271h24M1052 1272h14M1050 1273h18M1051 1274h15M1052 1275h13M1052 1276h13M1051 1277h16M1048 1278h22M1050 1279h17M1050 1280h18M1045 1281h28M1052 1282h15M1051 1283h16M1052 1284h13M1052 1285h13M1052 1286h13M1050 1287h17M1050 1288h18M1051 1289h15M1050 1290h18M1050 1291h17M1052 1292h14M1046 1293h24M1051 1294h15M1051 1295h15M1051 1296h16M1050 1297h17M1051 1298h15M1047 1299h23M1051 1300h15M1053 1301h13M1048 1302h21M1049 1303h20M1048 1304h22M1051 1305h15M1048 1306h22M1051 1307h15M1049 1308h19M1045 1309h27M1052 1310h13M1049 1311h19M1051 1312h15M1051 1313h15M1047 1314h24M1050 1315h17M1051 1316h15M1052 1317h13M1052 1318h13M1048 1319h21M1052 1320h13M1049 1321h20M1052 1322h13M1052 1323h14M1051 1324h16M1051 1325h16M1052 1326h14M1045 1327h27M1050 1328h16M1047 1329h22M1051 1330h15M1051 1331h17M1051 1332h15M1048 1333h21M1051 1334h16M1047 1335h23M1047 1336h22M1052 1337h14M1051 1338h15M1047 1339h23M1049 1340h19M1050 1341h18M1052 1342h13M1048 1343h21M1045 1344h27M1049 1345h18M1049 1346h19M1052 1347h13M1052 1348h13M1052 1349h13M1051 1350h15M1051 1351h15M1049 1352h19M1052 1353h12M1046 1354h25M1051 1355h15M1051 1356h15M1053 1357h12M1052 1358h13M1052 1359h14M1049 1360h19M1049 1361h18M1049 1362h20M1048 1363h21M1049 1364h19M1052 1365h14M1047 1366h23M1049 1367h20M1048 1368h21M1047 1369h23M1050 1370h18M1051 1371h16M1052 1372h13M1046 1373h25M1051 1374h15M1051 1375h15M1048 1376h21M1050 1377h17M1045 1378h27M1049 1379h19M1052 1380h13M1052 1381h13M1049 1382h20M1052 1383h15M1051 1384h16M1051 1385h15M1052 1386h13M1052 1387h13M1050 1388h17M1048 1389h21M1049 1390h19M1051 1391h15M1051 1392h15M1051 1393h15M1052 1394h14M1051 1395h15M1051 1396h15M1052 1397h13M1052 1398h13M1049 1399h20M1051 1400h15M1050 1401h17M1047 1402h23M1051 1403h16M1052 1404h13M1051 1405h16M1049 1406h18M1047 1407h22M1050 1408h17M1047 1409h24M1052 1410h14M1051 1411h15M1050 1412h17M1048 1413h21M1051 1414h16M1051 1415h14M1047 1416h23M1046 1417h26M1052 1418h14M1046 1419h25M1051 1420h16M1050 1421h19M1052 1422h13M1049 1423h19M1050 1424h18M1051 1425h14M1050 1426h17M1047 1427h24M1051 1428h15M1048 1429h20M1050 1430h17M1049 1431h19M1051 1432h15M1044 1433h29M1051 1434h15M1051 1435h16M1052 1436h14M1051 1437h14M1051 1438h14M1045 1439h27M1045 1440h27M1051 1441h15M1046 1442h25M1051 1443h15M1050 1444h18M1049 1445h20M1052 1446h13M1050 1447h17M1051 1448h15M1052 1449h14M1048 1450h21M1044 1451h28M1049 1452h20M1051 1453h15M1050 1454h17M1050 1455h17M1051 1456h15M1048 1457h21M1050 1458h17M1050 1459h17M1048 1460h21M1052 1461h14M1051 1462h15M1047 1463h23M1051 1464h16M1051 1465h14M1049 1466h19M1050 1467h17M1051 1468h15M1045 1469h27M1050 1470h17M1045 1471h28M1050 1472h16M1052 1473h13M1052 1474h13M1051 1475h15M1050 1476h18M1046 1477h25M1052 1478h13M1048 1479h20M1051 1480h16M1052 1481h13M1050 1482h19M1046 1483h25M1050 1484h17M1051 1485h16M1046 1486h25M1045 1487h27M1051 1488h15M1045 1489h28M1050 1490h18M1051 1491h16M1052 1492h14M1050 1493h17M1048 1494h22M1051 1495h15M1049 1496h20M1051 1497h15M1046 1498h26M1046 1499h25M1051 1500h15M1050 1501h17M1053 1502h12M1052 1503h14M1052 1504h14M1049 1505h19M1052 1506h13M1052 1507h13M1051 1508h15M1050 1509h16M1052 1510h14M1050 1511h17M1051 1512h15M1049 1513h19M1051 1514h15M1052 1515h13M1052 1516h13M1050 1517h17M1045 1518h27M1050 1519h17M1049 1520h19M1051 1521h15M1049 1522h19M1051 1523h15M1049 1524h20M1050 1525h17M1052 1526h13M1052 1527h13M1050 1528h17M1048 1529h20M1047 1530h23M1047 1531h23M1051 1532h16M1052 1533h13M1052 1534h13M1050 1535h18M1050 1536h17M1051 1537h15M1045 1538h26M1052 1539h14M1050 1540h17M1051 1541h15M1052 1542h14M1051 1543h16M1048 1544h22M1051 1545h15M1051 1546h15M1053 1547h12M1050 1548h18M1049 1549h20M1050 1550h16M1051 1551h15M1049 1552h19M1051 1553h16"/>
</svg>
<svg style="position:absolute;left:0;top:0" width="110" height="50" viewBox="0 0 110 50">
<path d="M2 39.3 L11.5 38.3" stroke="#1a651a" stroke-width="1.7" fill="none"/>
<path d="M13.5 37.8 C20 35 27 24.5 37 16.2 C41 13.6 46 13.6 53 9" stroke="#2a772a" stroke-width="0.8" fill="none" stroke-dasharray="2.4 2 6.5 1.6 5.5 1.4 6 2 2 2.2 6.5 2.4 2.2 1.2 3 0"/>
<path d="M40 14.4 L46 13.2" stroke="#2a772a" stroke-width="1.1" fill="none"/>
<path d="M55.4 2 V7.6" stroke="#7db37d" stroke-width="0.8" fill="none"/>
<path d="M52.5 8.9 L55 8.2 L57.5 8.7 L60 11 L62 15 L63.6 20 L65 26 L66.5 31 L68.5 35 L71 37 L74 38.1 L79.5 38.5 L79.5 39 L72 38.9 L68 37.9 L65 35.6 L63 31 L61.4 25 L60 19 L58.4 14 L56 10.8 L53 9.8 Z" fill="#3b8a3b"/>
<path d="M81.5 38.4 C87 37.5 90.5 34 94 30" stroke="#7db37d" stroke-width="0.8" fill="none" stroke-dasharray="2.2 2.4"/>
<text x="23.6" y="41.2" font-family="Liberation Serif, serif" font-style="italic" font-size="14.5" fill="#39a0f0" textLength="47" lengthAdjust="spacingAndGlyphs">OPGC</text>
<text x="23" y="40.6" font-family="Liberation Serif, serif" font-style="italic" font-size="14.5" fill="#1b2fc4" textLength="47" lengthAdjust="spacingAndGlyphs">OPGC</text>
</svg>
<svg style="position:absolute;left:0;top:1615px" width="12" height="14" shape-rendering="crispEdges"><path d="M2 8h1v1h-1zM3 9h1v1h-1zM4 6h1v4h-1zM5 7h1v2h-1zM6 6h1v4h-1zM7 9h1v1h-1z" fill="#111"/></svg>
<div class="t" style="left:-1px;top:1548px"><i>0</i><i>0</i>:<i>0</i><i>0</i></div>
<div class="t" style="left:964px;top:1548px"><i>0</i><i>0</i>:<i>0</i><i>0</i></div>
<div class="t" style="left:-1px;top:1488px"><i>0</i>1:<i>0</i><i>0</i></div>
<div class="t" style="left:964px;top:1488px"><i>0</i>1:<i>0</i><i>0</i></div>
<div class="t" style="left:-1px;top:1428px"><i>0</i>2:<i>0</i><i>0</i></div>
<div class="t" style="left:964px;top:1428px"><i>0</i>2:<i>0</i><i>0</i></div>
<div class="t" style="left:-1px;top:1368px"><i>0</i>3:<i>0</i><i>0</i></div>
<div class="t" style="left:964px;top:1368px"><i>0</i>3:<i>0</i><i>0</i></div>
<div class="t" style="left:-1px;top:1308px"><i>0</i>4:<i>0</i><i>0</i></div>
<div class="t" style="left:964px;top:1308px"><i>0</i>4:<i>0</i><i>0</i></div>
<div class="t" style="left:-1px;top:1248px"><i>0</i>5:<i>0</i><i>0</i></div>
<div class="t" style="left:964px;top:1248px"><i>0</i>5:<i>0</i><i>0</i></div>
<div class="t" style="left:-1px;top:1188px"><i>0</i>6:<i>0</i><i>0</i></div>
<div class="t" style="left:964px;top:1188px"><i>0</i>6:<i>0</i><i>0</i></div>
<div class="t" style="left:-1px;top:1128px"><i>0</i>7:<i>0</i><i>0</i></div>
<div class="t" style="left:964px;top:1128px"><i>0</i>7:<i>0</i><i>0</i></div>
<div class="t" style="left:-1px;top:1068px"><i>0</i>8:<i>0</i><i>0</i></div>
<div class="t" style="left:964px;top:1068px"><i>0</i>8:<i>0</i><i>0</i></div>
<div class="t" style="left:-1px;top:1008px"><i>0</i>9:<i>0</i><i>0</i></div>
<div class="t" style="left:964px;top:1008px"><i>0</i>9:<i>0</i><i>0</i></div>
<div class="t" style="left:-1px;top:948px">1<i>0</i>:<i>0</i><i>0</i></div>
<div class="t" style="left:964px;top:948px">1<i>0</i>:<i>0</i><i>0</i></div>
<div class="t" style="left:-1px;top:888px">11:<i>0</i><i>0</i></div>
<div class="t" style="left:964px;top:888px">11:<i>0</i><i>0</i></div>
<div class="t" style="left:-1px;top:828px">12:<i>0</i><i>0</i></div>
<div class="t" style="left:964px;top:828px">12:<i>0</i><i>0</i></div>
<div class="t" style="left:-1px;top:768px">13:<i>0</i><i>0</i></div>
<div class="t" style="left:964px;top:768px">13:<i>0</i><i>0</i></div>
<div class="t" style="left:-1px;top:708px">14:<i>0</i><i>0</i></div>
<div class="t" style="left:964px;top:708px">14:<i>0</i><i>0</i></div>
<div class="t" style="left:-1px;top:648px">15:<i>0</i><i>0</i></div>
<div class="t" style="left:964px;top:648px">15:<i>0</i><i>0</i></div>
<div class="t" style="left:-1px;top:588px">16:<i>0</i><i>0</i></div>
<div class="t" style="left:964px;top:588px">16:<i>0</i><i>0</i></div>
<div class="t" style="left:-1px;top:528px">17:<i>0</i><i>0</i></div>
<div class="t" style="left:964px;top:528px">17:<i>0</i><i>0</i></div>
<div class="t" style="left:-1px;top:468px">18:<i>0</i><i>0</i></div>
<div class="t" style="left:964px;top:468px">18:<i>0</i><i>0</i></div>
<div class="t" style="left:-1px;top:408px">19:<i>0</i><i>0</i></div>
<div class="t" style="left:964px;top:408px">19:<i>0</i><i>0</i></div>
<div class="t" style="left:-1px;top:348px">2<i>0</i>:<i>0</i><i>0</i></div>
<div class="t" style="left:964px;top:348px">2<i>0</i>:<i>0</i><i>0</i></div>
<div class="t" style="left:-1px;top:288px">21:<i>0</i><i>0</i></div>
<div class="t" style="left:964px;top:288px">21:<i>0</i><i>0</i></div>
<div class="t" style="left:-1px;top:228px">22:<i>0</i><i>0</i></div>
<div class="t" style="left:964px;top:228px">22:<i>0</i><i>0</i></div>
<div class="t" style="left:-1px;top:168px">23:<i>0</i><i>0</i></div>
<div class="t" style="left:964px;top:168px">23:<i>0</i><i>0</i></div>
<div class="t" style="left:38px;top:1564px"><i>0</i>.<i>0</i>1</div>
<div class="t" style="left:300px;top:1564px"><i>0</i>.1</div>
<div class="t" style="left:564px;top:1564px">1</div>
<div class="t" style="left:820px;top:1564px">1<i>0</i></div>
<div class="t" style="left:442px;top:1574px">(LOG) FREQUENCY (HZ)</div>
<div class="t" style="left:14px;top:70px">UTC</div>
<div class="t" style="left:49px;top:70px">Nov29,2<i>0</i>25</div>
<div class="t" style="left:455px;top:70px">CHLF HHZ FR <i>0</i><i>0</i></div>
<div class="t" style="left:954px;top:70px">UTC</div>
</body></html>
